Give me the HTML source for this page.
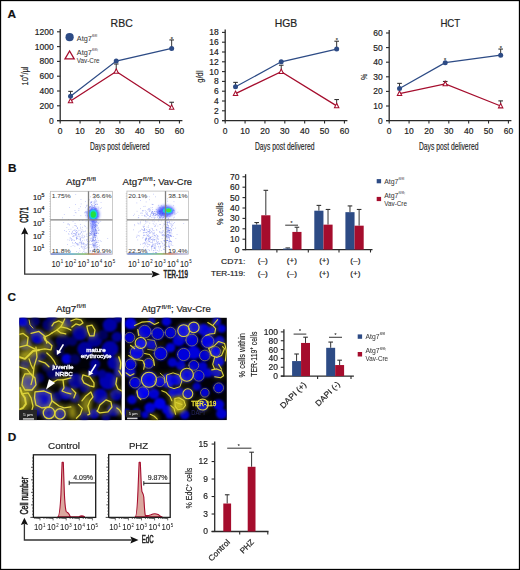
<!DOCTYPE html>
<html><head><meta charset="utf-8"><title>Figure</title>
<style>
html,body{margin:0;padding:0;background:#fff;}
body{width:520px;height:570px;overflow:hidden;}
svg{display:block;}
text{font-family:"Liberation Sans", sans-serif;}
</style></head>
<body>
<svg width="520" height="570" viewBox="0 0 520 570" font-family='"Liberation Sans", sans-serif' fill="#222">
<defs>
<filter id="blur05" x="-50%" y="-50%" width="200%" height="200%"><feGaussianBlur stdDeviation="0.6"/></filter>
<filter id="blur1" x="-50%" y="-50%" width="200%" height="200%"><feGaussianBlur stdDeviation="1.4"/></filter>
<filter id="mb0" x="-5%" y="-5%" width="110%" height="110%"><feGaussianBlur stdDeviation="3"/></filter>
<filter id="mb1" x="-5%" y="-5%" width="110%" height="110%"><feGaussianBlur stdDeviation="5"/></filter>
<filter id="mb2" x="-5%" y="-5%" width="110%" height="110%"><feGaussianBlur stdDeviation="14"/></filter>
<clipPath id="clipL"><rect x="19.2" y="317.6" width="102.6" height="102.6"/></clipPath>
<clipPath id="clipR"><rect x="124.7" y="317.6" width="102.1" height="102.6"/></clipPath>
</defs>
<rect x="0" y="0" width="520" height="570" fill="#fff"/>
<text x="7.60" y="17.80" font-size="11.8" fill="#111" stroke="#111" stroke-width="0.18" font-weight="bold" >A</text>
<text x="7.90" y="172.20" font-size="11.8" fill="#111" stroke="#111" stroke-width="0.18" font-weight="bold" >B</text>
<text x="7.40" y="301.30" font-size="11.8" fill="#111" stroke="#111" stroke-width="0.18" font-weight="bold" >C</text>
<text x="7.70" y="440.50" font-size="11.8" fill="#111" stroke="#111" stroke-width="0.18" font-weight="bold" >D</text>
<line x1="60.20" y1="28.90" x2="60.20" y2="121.20" stroke="#2a2a2a" stroke-width="1.3" />
<line x1="57.00" y1="120.60" x2="182.42" y2="120.60" stroke="#2a2a2a" stroke-width="1.3" />
<line x1="57.00" y1="120.60" x2="60.20" y2="120.60" stroke="#2a2a2a" stroke-width="1.1" />
<text x="53.70" y="123.55" font-size="8.4" text-anchor="end" stroke="#222" stroke-width="0.18" textLength="4.72" lengthAdjust="spacingAndGlyphs" >0</text>
<line x1="57.00" y1="105.80" x2="60.20" y2="105.80" stroke="#2a2a2a" stroke-width="1.1" />
<text x="53.70" y="108.75" font-size="8.4" text-anchor="end" stroke="#222" stroke-width="0.18" textLength="14.16" lengthAdjust="spacingAndGlyphs" >200</text>
<line x1="57.00" y1="91.00" x2="60.20" y2="91.00" stroke="#2a2a2a" stroke-width="1.1" />
<text x="53.70" y="93.95" font-size="8.4" text-anchor="end" stroke="#222" stroke-width="0.18" textLength="14.16" lengthAdjust="spacingAndGlyphs" >400</text>
<line x1="57.00" y1="76.20" x2="60.20" y2="76.20" stroke="#2a2a2a" stroke-width="1.1" />
<text x="53.70" y="79.15" font-size="8.4" text-anchor="end" stroke="#222" stroke-width="0.18" textLength="14.16" lengthAdjust="spacingAndGlyphs" >600</text>
<line x1="57.00" y1="61.40" x2="60.20" y2="61.40" stroke="#2a2a2a" stroke-width="1.1" />
<text x="53.70" y="64.35" font-size="8.4" text-anchor="end" stroke="#222" stroke-width="0.18" textLength="14.16" lengthAdjust="spacingAndGlyphs" >800</text>
<line x1="57.00" y1="46.60" x2="60.20" y2="46.60" stroke="#2a2a2a" stroke-width="1.1" />
<text x="53.70" y="49.55" font-size="8.4" text-anchor="end" stroke="#222" stroke-width="0.18" textLength="18.88" lengthAdjust="spacingAndGlyphs" >1000</text>
<line x1="57.00" y1="31.80" x2="60.20" y2="31.80" stroke="#2a2a2a" stroke-width="1.1" />
<text x="53.70" y="34.75" font-size="8.4" text-anchor="end" stroke="#222" stroke-width="0.18" textLength="18.88" lengthAdjust="spacingAndGlyphs" >1200</text>
<line x1="60.20" y1="120.60" x2="60.20" y2="123.50" stroke="#2a2a2a" stroke-width="1.1" />
<text x="60.20" y="134.40" font-size="8.4" text-anchor="middle" stroke="#222" stroke-width="0.18" textLength="4.72" lengthAdjust="spacingAndGlyphs" >0</text>
<line x1="80.07" y1="120.60" x2="80.07" y2="123.50" stroke="#2a2a2a" stroke-width="1.1" />
<text x="80.07" y="134.40" font-size="8.4" text-anchor="middle" stroke="#222" stroke-width="0.18" textLength="9.44" lengthAdjust="spacingAndGlyphs" >10</text>
<line x1="99.94" y1="120.60" x2="99.94" y2="123.50" stroke="#2a2a2a" stroke-width="1.1" />
<text x="99.94" y="134.40" font-size="8.4" text-anchor="middle" stroke="#222" stroke-width="0.18" textLength="9.44" lengthAdjust="spacingAndGlyphs" >20</text>
<line x1="119.81" y1="120.60" x2="119.81" y2="123.50" stroke="#2a2a2a" stroke-width="1.1" />
<text x="119.81" y="134.40" font-size="8.4" text-anchor="middle" stroke="#222" stroke-width="0.18" textLength="9.44" lengthAdjust="spacingAndGlyphs" >30</text>
<line x1="139.68" y1="120.60" x2="139.68" y2="123.50" stroke="#2a2a2a" stroke-width="1.1" />
<text x="139.68" y="134.40" font-size="8.4" text-anchor="middle" stroke="#222" stroke-width="0.18" textLength="9.44" lengthAdjust="spacingAndGlyphs" >40</text>
<line x1="159.55" y1="120.60" x2="159.55" y2="123.50" stroke="#2a2a2a" stroke-width="1.1" />
<text x="159.55" y="134.40" font-size="8.4" text-anchor="middle" stroke="#222" stroke-width="0.18" textLength="9.44" lengthAdjust="spacingAndGlyphs" >50</text>
<line x1="179.42" y1="120.60" x2="179.42" y2="123.50" stroke="#2a2a2a" stroke-width="1.1" />
<text x="179.42" y="134.40" font-size="8.4" text-anchor="middle" stroke="#222" stroke-width="0.18" textLength="9.44" lengthAdjust="spacingAndGlyphs" >60</text>
<text x="119.70" y="149.60" font-size="10.2" text-anchor="middle" textLength="59.50" lengthAdjust="spacingAndGlyphs" stroke="#222" stroke-width="0.15">Days post delivered</text>
<text x="121.65" y="26.70" font-size="10.1" text-anchor="middle" stroke="#222" stroke-width="0.18" textLength="22.10" lengthAdjust="spacingAndGlyphs" >RBC</text>
<text transform="translate(27.70 76.00) rotate(-90)" text-anchor="middle" font-size="9.8" fill="#222" textLength="19" lengthAdjust="spacingAndGlyphs" stroke="#222" stroke-width="0.15">10<tspan dy="-3.6" font-size="6.2">4</tspan><tspan dy="3.6">/µl</tspan></text>
<line x1="70.53" y1="96.18" x2="70.53" y2="91.37" stroke="#333" stroke-width="1.0" />
<line x1="68.23" y1="91.37" x2="72.83" y2="91.37" stroke="#333" stroke-width="1.1" />
<line x1="171.67" y1="48.45" x2="171.67" y2="39.94" stroke="#333" stroke-width="1.0" />
<line x1="169.37" y1="39.94" x2="173.97" y2="39.94" stroke="#333" stroke-width="1.1" />
<line x1="116.23" y1="71.39" x2="116.23" y2="63.99" stroke="#333" stroke-width="1.0" />
<line x1="113.93" y1="63.99" x2="118.53" y2="63.99" stroke="#333" stroke-width="1.1" />
<line x1="171.67" y1="107.43" x2="171.67" y2="102.25" stroke="#333" stroke-width="1.0" />
<line x1="169.37" y1="102.25" x2="173.97" y2="102.25" stroke="#333" stroke-width="1.1" />
<polyline points="70.53,96.18 116.23,61.03 171.67,48.45" fill="none" stroke="#2d4b85" stroke-width="1.25"/>
<polyline points="70.53,100.99 116.23,71.39 171.67,107.43" fill="none" stroke="#a50d2d" stroke-width="1.25"/>
<polygon points="70.53,98.44 72.73,102.84 68.33,102.84" fill="#fff" stroke="#a50d2d" stroke-width="1.05" stroke-linejoin="miter"/>
<polygon points="116.23,68.84 118.43,73.24 114.03,73.24" fill="#fff" stroke="#a50d2d" stroke-width="1.05" stroke-linejoin="miter"/>
<polygon points="171.67,104.88 173.87,109.28 169.47,109.28" fill="#fff" stroke="#a50d2d" stroke-width="1.05" stroke-linejoin="miter"/>
<circle cx="70.53" cy="96.18" r="2.5" fill="#2d4b85"/>
<circle cx="116.23" cy="61.03" r="2.5" fill="#2d4b85"/>
<circle cx="171.67" cy="48.45" r="2.5" fill="#2d4b85"/>
<text x="171.77" y="40.84" font-size="5.5" text-anchor="middle" fill="#444" stroke="#444" stroke-width="0.18" >*</text>
<line x1="225.20" y1="29.50" x2="225.20" y2="121.20" stroke="#2a2a2a" stroke-width="1.3" />
<line x1="222.00" y1="120.60" x2="347.42" y2="120.60" stroke="#2a2a2a" stroke-width="1.3" />
<line x1="222.00" y1="120.60" x2="225.20" y2="120.60" stroke="#2a2a2a" stroke-width="1.1" />
<text x="218.70" y="123.55" font-size="8.4" text-anchor="end" stroke="#222" stroke-width="0.18" textLength="4.72" lengthAdjust="spacingAndGlyphs" >0</text>
<line x1="222.00" y1="110.80" x2="225.20" y2="110.80" stroke="#2a2a2a" stroke-width="1.1" />
<text x="218.70" y="113.75" font-size="8.4" text-anchor="end" stroke="#222" stroke-width="0.18" textLength="4.72" lengthAdjust="spacingAndGlyphs" >2</text>
<line x1="222.00" y1="101.00" x2="225.20" y2="101.00" stroke="#2a2a2a" stroke-width="1.1" />
<text x="218.70" y="103.95" font-size="8.4" text-anchor="end" stroke="#222" stroke-width="0.18" textLength="4.72" lengthAdjust="spacingAndGlyphs" >4</text>
<line x1="222.00" y1="91.20" x2="225.20" y2="91.20" stroke="#2a2a2a" stroke-width="1.1" />
<text x="218.70" y="94.15" font-size="8.4" text-anchor="end" stroke="#222" stroke-width="0.18" textLength="4.72" lengthAdjust="spacingAndGlyphs" >6</text>
<line x1="222.00" y1="81.40" x2="225.20" y2="81.40" stroke="#2a2a2a" stroke-width="1.1" />
<text x="218.70" y="84.35" font-size="8.4" text-anchor="end" stroke="#222" stroke-width="0.18" textLength="4.72" lengthAdjust="spacingAndGlyphs" >8</text>
<line x1="222.00" y1="71.60" x2="225.20" y2="71.60" stroke="#2a2a2a" stroke-width="1.1" />
<text x="218.70" y="74.55" font-size="8.4" text-anchor="end" stroke="#222" stroke-width="0.18" textLength="9.44" lengthAdjust="spacingAndGlyphs" >10</text>
<line x1="222.00" y1="61.80" x2="225.20" y2="61.80" stroke="#2a2a2a" stroke-width="1.1" />
<text x="218.70" y="64.75" font-size="8.4" text-anchor="end" stroke="#222" stroke-width="0.18" textLength="9.44" lengthAdjust="spacingAndGlyphs" >12</text>
<line x1="222.00" y1="52.00" x2="225.20" y2="52.00" stroke="#2a2a2a" stroke-width="1.1" />
<text x="218.70" y="54.95" font-size="8.4" text-anchor="end" stroke="#222" stroke-width="0.18" textLength="9.44" lengthAdjust="spacingAndGlyphs" >14</text>
<line x1="222.00" y1="42.20" x2="225.20" y2="42.20" stroke="#2a2a2a" stroke-width="1.1" />
<text x="218.70" y="45.15" font-size="8.4" text-anchor="end" stroke="#222" stroke-width="0.18" textLength="9.44" lengthAdjust="spacingAndGlyphs" >16</text>
<line x1="222.00" y1="32.40" x2="225.20" y2="32.40" stroke="#2a2a2a" stroke-width="1.1" />
<text x="218.70" y="35.35" font-size="8.4" text-anchor="end" stroke="#222" stroke-width="0.18" textLength="9.44" lengthAdjust="spacingAndGlyphs" >18</text>
<line x1="225.20" y1="120.60" x2="225.20" y2="123.50" stroke="#2a2a2a" stroke-width="1.1" />
<text x="225.20" y="134.40" font-size="8.4" text-anchor="middle" stroke="#222" stroke-width="0.18" textLength="4.72" lengthAdjust="spacingAndGlyphs" >0</text>
<line x1="245.07" y1="120.60" x2="245.07" y2="123.50" stroke="#2a2a2a" stroke-width="1.1" />
<text x="245.07" y="134.40" font-size="8.4" text-anchor="middle" stroke="#222" stroke-width="0.18" textLength="9.44" lengthAdjust="spacingAndGlyphs" >10</text>
<line x1="264.94" y1="120.60" x2="264.94" y2="123.50" stroke="#2a2a2a" stroke-width="1.1" />
<text x="264.94" y="134.40" font-size="8.4" text-anchor="middle" stroke="#222" stroke-width="0.18" textLength="9.44" lengthAdjust="spacingAndGlyphs" >20</text>
<line x1="284.81" y1="120.60" x2="284.81" y2="123.50" stroke="#2a2a2a" stroke-width="1.1" />
<text x="284.81" y="134.40" font-size="8.4" text-anchor="middle" stroke="#222" stroke-width="0.18" textLength="9.44" lengthAdjust="spacingAndGlyphs" >30</text>
<line x1="304.68" y1="120.60" x2="304.68" y2="123.50" stroke="#2a2a2a" stroke-width="1.1" />
<text x="304.68" y="134.40" font-size="8.4" text-anchor="middle" stroke="#222" stroke-width="0.18" textLength="9.44" lengthAdjust="spacingAndGlyphs" >40</text>
<line x1="324.55" y1="120.60" x2="324.55" y2="123.50" stroke="#2a2a2a" stroke-width="1.1" />
<text x="324.55" y="134.40" font-size="8.4" text-anchor="middle" stroke="#222" stroke-width="0.18" textLength="9.44" lengthAdjust="spacingAndGlyphs" >50</text>
<line x1="344.42" y1="120.60" x2="344.42" y2="123.50" stroke="#2a2a2a" stroke-width="1.1" />
<text x="344.42" y="134.40" font-size="8.4" text-anchor="middle" stroke="#222" stroke-width="0.18" textLength="9.44" lengthAdjust="spacingAndGlyphs" >60</text>
<text x="284.70" y="149.60" font-size="10.2" text-anchor="middle" textLength="59.50" lengthAdjust="spacingAndGlyphs" stroke="#222" stroke-width="0.15">Days post delivered</text>
<text x="286.05" y="26.70" font-size="10.1" text-anchor="middle" stroke="#222" stroke-width="0.18" textLength="22.50" lengthAdjust="spacingAndGlyphs" >HGB</text>
<text transform="translate(202.80 76.60) rotate(-90)" text-anchor="middle" font-size="9.8" fill="#222" textLength="12.4" lengthAdjust="spacingAndGlyphs" stroke="#222" stroke-width="0.15">g/dl</text>
<line x1="235.53" y1="86.79" x2="235.53" y2="82.38" stroke="#333" stroke-width="1.0" />
<line x1="233.23" y1="82.38" x2="237.83" y2="82.38" stroke="#333" stroke-width="1.1" />
<line x1="336.67" y1="49.06" x2="336.67" y2="41.22" stroke="#333" stroke-width="1.0" />
<line x1="334.37" y1="41.22" x2="338.97" y2="41.22" stroke="#333" stroke-width="1.1" />
<line x1="281.23" y1="71.60" x2="281.23" y2="65.23" stroke="#333" stroke-width="1.0" />
<line x1="278.93" y1="65.23" x2="283.53" y2="65.23" stroke="#333" stroke-width="1.1" />
<line x1="336.67" y1="105.90" x2="336.67" y2="99.53" stroke="#333" stroke-width="1.0" />
<line x1="334.37" y1="99.53" x2="338.97" y2="99.53" stroke="#333" stroke-width="1.1" />
<polyline points="235.53,86.79 281.23,61.80 336.67,49.06" fill="none" stroke="#2d4b85" stroke-width="1.25"/>
<polyline points="235.53,93.65 281.23,71.60 336.67,105.90" fill="none" stroke="#a50d2d" stroke-width="1.25"/>
<polygon points="235.53,91.10 237.73,95.50 233.33,95.50" fill="#fff" stroke="#a50d2d" stroke-width="1.05" stroke-linejoin="miter"/>
<polygon points="281.23,69.05 283.43,73.45 279.03,73.45" fill="#fff" stroke="#a50d2d" stroke-width="1.05" stroke-linejoin="miter"/>
<polygon points="336.67,103.35 338.87,107.75 334.47,107.75" fill="#fff" stroke="#a50d2d" stroke-width="1.05" stroke-linejoin="miter"/>
<circle cx="235.53" cy="86.79" r="2.5" fill="#2d4b85"/>
<circle cx="281.23" cy="61.80" r="2.5" fill="#2d4b85"/>
<circle cx="336.67" cy="49.06" r="2.5" fill="#2d4b85"/>
<text x="336.77" y="42.12" font-size="5.5" text-anchor="middle" fill="#444" stroke="#444" stroke-width="0.18" >*</text>
<line x1="389.20" y1="30.10" x2="389.20" y2="121.20" stroke="#2a2a2a" stroke-width="1.3" />
<line x1="386.00" y1="120.60" x2="511.42" y2="120.60" stroke="#2a2a2a" stroke-width="1.3" />
<line x1="386.00" y1="120.60" x2="389.20" y2="120.60" stroke="#2a2a2a" stroke-width="1.1" />
<text x="382.70" y="123.55" font-size="8.4" text-anchor="end" stroke="#222" stroke-width="0.18" textLength="4.72" lengthAdjust="spacingAndGlyphs" >0</text>
<line x1="386.00" y1="106.00" x2="389.20" y2="106.00" stroke="#2a2a2a" stroke-width="1.1" />
<text x="382.70" y="108.95" font-size="8.4" text-anchor="end" stroke="#222" stroke-width="0.18" textLength="9.44" lengthAdjust="spacingAndGlyphs" >10</text>
<line x1="386.00" y1="91.40" x2="389.20" y2="91.40" stroke="#2a2a2a" stroke-width="1.1" />
<text x="382.70" y="94.35" font-size="8.4" text-anchor="end" stroke="#222" stroke-width="0.18" textLength="9.44" lengthAdjust="spacingAndGlyphs" >20</text>
<line x1="386.00" y1="76.80" x2="389.20" y2="76.80" stroke="#2a2a2a" stroke-width="1.1" />
<text x="382.70" y="79.75" font-size="8.4" text-anchor="end" stroke="#222" stroke-width="0.18" textLength="9.44" lengthAdjust="spacingAndGlyphs" >30</text>
<line x1="386.00" y1="62.20" x2="389.20" y2="62.20" stroke="#2a2a2a" stroke-width="1.1" />
<text x="382.70" y="65.15" font-size="8.4" text-anchor="end" stroke="#222" stroke-width="0.18" textLength="9.44" lengthAdjust="spacingAndGlyphs" >40</text>
<line x1="386.00" y1="47.60" x2="389.20" y2="47.60" stroke="#2a2a2a" stroke-width="1.1" />
<text x="382.70" y="50.55" font-size="8.4" text-anchor="end" stroke="#222" stroke-width="0.18" textLength="9.44" lengthAdjust="spacingAndGlyphs" >50</text>
<line x1="386.00" y1="33.00" x2="389.20" y2="33.00" stroke="#2a2a2a" stroke-width="1.1" />
<text x="382.70" y="35.95" font-size="8.4" text-anchor="end" stroke="#222" stroke-width="0.18" textLength="9.44" lengthAdjust="spacingAndGlyphs" >60</text>
<line x1="389.20" y1="120.60" x2="389.20" y2="123.50" stroke="#2a2a2a" stroke-width="1.1" />
<text x="389.20" y="134.40" font-size="8.4" text-anchor="middle" stroke="#222" stroke-width="0.18" textLength="4.72" lengthAdjust="spacingAndGlyphs" >0</text>
<line x1="409.07" y1="120.60" x2="409.07" y2="123.50" stroke="#2a2a2a" stroke-width="1.1" />
<text x="409.07" y="134.40" font-size="8.4" text-anchor="middle" stroke="#222" stroke-width="0.18" textLength="9.44" lengthAdjust="spacingAndGlyphs" >10</text>
<line x1="428.94" y1="120.60" x2="428.94" y2="123.50" stroke="#2a2a2a" stroke-width="1.1" />
<text x="428.94" y="134.40" font-size="8.4" text-anchor="middle" stroke="#222" stroke-width="0.18" textLength="9.44" lengthAdjust="spacingAndGlyphs" >20</text>
<line x1="448.81" y1="120.60" x2="448.81" y2="123.50" stroke="#2a2a2a" stroke-width="1.1" />
<text x="448.81" y="134.40" font-size="8.4" text-anchor="middle" stroke="#222" stroke-width="0.18" textLength="9.44" lengthAdjust="spacingAndGlyphs" >30</text>
<line x1="468.68" y1="120.60" x2="468.68" y2="123.50" stroke="#2a2a2a" stroke-width="1.1" />
<text x="468.68" y="134.40" font-size="8.4" text-anchor="middle" stroke="#222" stroke-width="0.18" textLength="9.44" lengthAdjust="spacingAndGlyphs" >40</text>
<line x1="488.55" y1="120.60" x2="488.55" y2="123.50" stroke="#2a2a2a" stroke-width="1.1" />
<text x="488.55" y="134.40" font-size="8.4" text-anchor="middle" stroke="#222" stroke-width="0.18" textLength="9.44" lengthAdjust="spacingAndGlyphs" >50</text>
<line x1="508.42" y1="120.60" x2="508.42" y2="123.50" stroke="#2a2a2a" stroke-width="1.1" />
<text x="508.42" y="134.40" font-size="8.4" text-anchor="middle" stroke="#222" stroke-width="0.18" textLength="9.44" lengthAdjust="spacingAndGlyphs" >60</text>
<text x="448.70" y="149.60" font-size="10.2" text-anchor="middle" textLength="59.50" lengthAdjust="spacingAndGlyphs" stroke="#222" stroke-width="0.15">Days post delivered</text>
<text x="450.30" y="26.70" font-size="10.1" text-anchor="middle" stroke="#222" stroke-width="0.18" textLength="19.80" lengthAdjust="spacingAndGlyphs" >HCT</text>
<text transform="translate(366.80 76.80) rotate(-90)" text-anchor="middle" font-size="9.8" fill="#222" textLength="6.3" lengthAdjust="spacingAndGlyphs" stroke="#222" stroke-width="0.15">%</text>
<line x1="399.53" y1="88.48" x2="399.53" y2="83.37" stroke="#333" stroke-width="1.0" />
<line x1="397.23" y1="83.37" x2="401.83" y2="83.37" stroke="#333" stroke-width="1.1" />
<line x1="500.67" y1="55.19" x2="500.67" y2="49.06" stroke="#333" stroke-width="1.0" />
<line x1="498.37" y1="49.06" x2="502.97" y2="49.06" stroke="#333" stroke-width="1.1" />
<line x1="445.23" y1="83.81" x2="445.23" y2="81.47" stroke="#333" stroke-width="1.0" />
<line x1="442.93" y1="81.47" x2="447.53" y2="81.47" stroke="#333" stroke-width="1.1" />
<line x1="500.67" y1="106.00" x2="500.67" y2="100.89" stroke="#333" stroke-width="1.0" />
<line x1="498.37" y1="100.89" x2="502.97" y2="100.89" stroke="#333" stroke-width="1.1" />
<polyline points="399.53,88.48 445.23,62.64 500.67,55.19" fill="none" stroke="#2d4b85" stroke-width="1.25"/>
<polyline points="399.53,93.59 445.23,83.81 500.67,106.00" fill="none" stroke="#a50d2d" stroke-width="1.25"/>
<polygon points="399.53,91.04 401.73,95.44 397.33,95.44" fill="#fff" stroke="#a50d2d" stroke-width="1.05" stroke-linejoin="miter"/>
<polygon points="445.23,81.26 447.43,85.66 443.03,85.66" fill="#fff" stroke="#a50d2d" stroke-width="1.05" stroke-linejoin="miter"/>
<polygon points="500.67,103.45 502.87,107.85 498.47,107.85" fill="#fff" stroke="#a50d2d" stroke-width="1.05" stroke-linejoin="miter"/>
<circle cx="399.53" cy="88.48" r="2.5" fill="#2d4b85"/>
<circle cx="445.23" cy="62.64" r="2.5" fill="#2d4b85"/>
<circle cx="500.67" cy="55.19" r="2.5" fill="#2d4b85"/>
<text x="445.13" y="61.64" font-size="5.5" text-anchor="middle" fill="#444" stroke="#444" stroke-width="0.18" >*</text>
<text x="500.77" y="49.96" font-size="5.5" text-anchor="middle" fill="#444" stroke="#444" stroke-width="0.18" >*</text>
<circle cx="69.6" cy="37.2" r="4.1" fill="#2d4b85"/>
<text x="76.80" y="40.70" font-size="6.8" fill="#3a3a3a" stroke="#3a3a3a" stroke-width="0.05" textLength="14.90" lengthAdjust="spacingAndGlyphs" >Atg7</text>
<text x="91.90" y="37.10" font-size="4.3" fill="#3a3a3a" stroke="#3a3a3a" stroke-width="0.025" textLength="5.30" lengthAdjust="spacingAndGlyphs" >fl/fl</text>
<polygon points="69.60,50.96 74.20,58.96 65.00,58.96" fill="#fff" stroke="#a50d2d" stroke-width="1.3" stroke-linejoin="miter"/>
<text x="76.80" y="54.90" font-size="6.8" fill="#3a3a3a" stroke="#3a3a3a" stroke-width="0.05" textLength="14.90" lengthAdjust="spacingAndGlyphs" >Atg7</text>
<text x="91.90" y="51.30" font-size="4.3" fill="#3a3a3a" stroke="#3a3a3a" stroke-width="0.025" textLength="6.30" lengthAdjust="spacingAndGlyphs" >fl/fl;</text>
<text x="76.80" y="62.60" font-size="6.8" fill="#3a3a3a" stroke="#3a3a3a" stroke-width="0.05" textLength="22.80" lengthAdjust="spacingAndGlyphs" >Vav-Cre</text>
<rect x="50.40" y="191.30" width="62.00" height="62.90" fill="#fff" stroke="#bdbdbd" stroke-width="0.8"/>
<line x1="49.20" y1="193.82" x2="50.40" y2="193.82" stroke="#aaa" stroke-width="0.5" />
<line x1="49.20" y1="196.33" x2="50.40" y2="196.33" stroke="#aaa" stroke-width="0.5" />
<line x1="49.20" y1="198.85" x2="50.40" y2="198.85" stroke="#aaa" stroke-width="0.5" />
<line x1="49.20" y1="201.36" x2="50.40" y2="201.36" stroke="#aaa" stroke-width="0.5" />
<line x1="49.20" y1="203.88" x2="50.40" y2="203.88" stroke="#aaa" stroke-width="0.5" />
<line x1="49.20" y1="206.40" x2="50.40" y2="206.40" stroke="#aaa" stroke-width="0.5" />
<line x1="49.20" y1="208.91" x2="50.40" y2="208.91" stroke="#aaa" stroke-width="0.5" />
<line x1="49.20" y1="211.43" x2="50.40" y2="211.43" stroke="#aaa" stroke-width="0.5" />
<line x1="49.20" y1="213.94" x2="50.40" y2="213.94" stroke="#aaa" stroke-width="0.5" />
<line x1="49.20" y1="216.46" x2="50.40" y2="216.46" stroke="#aaa" stroke-width="0.5" />
<line x1="49.20" y1="218.98" x2="50.40" y2="218.98" stroke="#aaa" stroke-width="0.5" />
<line x1="49.20" y1="221.49" x2="50.40" y2="221.49" stroke="#aaa" stroke-width="0.5" />
<line x1="49.20" y1="224.01" x2="50.40" y2="224.01" stroke="#aaa" stroke-width="0.5" />
<line x1="49.20" y1="226.52" x2="50.40" y2="226.52" stroke="#aaa" stroke-width="0.5" />
<line x1="49.20" y1="229.04" x2="50.40" y2="229.04" stroke="#aaa" stroke-width="0.5" />
<line x1="49.20" y1="231.56" x2="50.40" y2="231.56" stroke="#aaa" stroke-width="0.5" />
<line x1="49.20" y1="234.07" x2="50.40" y2="234.07" stroke="#aaa" stroke-width="0.5" />
<line x1="49.20" y1="236.59" x2="50.40" y2="236.59" stroke="#aaa" stroke-width="0.5" />
<line x1="49.20" y1="239.10" x2="50.40" y2="239.10" stroke="#aaa" stroke-width="0.5" />
<line x1="49.20" y1="241.62" x2="50.40" y2="241.62" stroke="#aaa" stroke-width="0.5" />
<line x1="49.20" y1="244.14" x2="50.40" y2="244.14" stroke="#aaa" stroke-width="0.5" />
<line x1="49.20" y1="246.65" x2="50.40" y2="246.65" stroke="#aaa" stroke-width="0.5" />
<line x1="49.20" y1="249.17" x2="50.40" y2="249.17" stroke="#aaa" stroke-width="0.5" />
<line x1="49.20" y1="251.68" x2="50.40" y2="251.68" stroke="#aaa" stroke-width="0.5" />
<g fill="#4455ee" fill-opacity="0.5"><rect x="96.6" y="247.0" width="0.7" height="0.7"/><rect x="93.9" y="227.1" width="0.7" height="0.7"/><rect x="91.4" y="234.3" width="0.7" height="0.7"/><rect x="91.6" y="221.1" width="0.7" height="0.7"/><rect x="94.2" y="235.2" width="0.7" height="0.7"/><rect x="95.0" y="225.8" width="0.7" height="0.7"/><rect x="93.8" y="233.4" width="0.7" height="0.7"/><rect x="90.5" y="238.8" width="0.7" height="0.7"/><rect x="94.2" y="232.7" width="0.7" height="0.7"/><rect x="96.5" y="235.8" width="0.7" height="0.7"/><rect x="95.8" y="230.7" width="0.7" height="0.7"/><rect x="94.3" y="243.2" width="0.7" height="0.7"/><rect x="95.3" y="235.2" width="0.7" height="0.7"/><rect x="91.4" y="238.0" width="0.7" height="0.7"/><rect x="94.0" y="240.5" width="0.7" height="0.7"/><rect x="94.3" y="243.8" width="0.7" height="0.7"/><rect x="93.7" y="235.8" width="0.7" height="0.7"/><rect x="95.3" y="224.2" width="0.7" height="0.7"/><rect x="92.9" y="229.5" width="0.7" height="0.7"/><rect x="98.2" y="233.2" width="0.7" height="0.7"/><rect x="95.2" y="239.6" width="0.7" height="0.7"/><rect x="93.2" y="220.0" width="0.7" height="0.7"/><rect x="95.9" y="230.3" width="0.7" height="0.7"/><rect x="95.4" y="222.3" width="0.7" height="0.7"/><rect x="92.8" y="245.3" width="0.7" height="0.7"/><rect x="96.9" y="222.3" width="0.7" height="0.7"/><rect x="90.9" y="233.6" width="0.7" height="0.7"/><rect x="95.4" y="235.4" width="0.7" height="0.7"/><rect x="94.5" y="225.1" width="0.7" height="0.7"/><rect x="95.1" y="244.1" width="0.7" height="0.7"/><rect x="92.8" y="221.1" width="0.7" height="0.7"/><rect x="92.1" y="240.9" width="0.7" height="0.7"/><rect x="90.0" y="233.2" width="0.7" height="0.7"/><rect x="91.6" y="232.8" width="0.7" height="0.7"/><rect x="93.3" y="234.1" width="0.7" height="0.7"/><rect x="97.1" y="237.8" width="0.7" height="0.7"/><rect x="96.7" y="232.7" width="0.7" height="0.7"/><rect x="92.7" y="237.4" width="0.7" height="0.7"/><rect x="87.6" y="233.6" width="0.7" height="0.7"/><rect x="94.2" y="222.9" width="0.7" height="0.7"/><rect x="94.8" y="229.0" width="0.7" height="0.7"/><rect x="88.4" y="232.1" width="0.7" height="0.7"/><rect x="91.6" y="229.3" width="0.7" height="0.7"/><rect x="93.5" y="245.3" width="0.7" height="0.7"/><rect x="94.0" y="233.7" width="0.7" height="0.7"/><rect x="94.7" y="217.7" width="0.7" height="0.7"/><rect x="96.5" y="224.3" width="0.7" height="0.7"/><rect x="94.8" y="223.9" width="0.7" height="0.7"/><rect x="91.7" y="230.4" width="0.7" height="0.7"/><rect x="98.0" y="240.3" width="0.7" height="0.7"/><rect x="92.5" y="231.4" width="0.7" height="0.7"/><rect x="91.3" y="233.7" width="0.7" height="0.7"/><rect x="92.5" y="240.5" width="0.7" height="0.7"/><rect x="90.8" y="231.0" width="0.7" height="0.7"/><rect x="91.9" y="227.5" width="0.7" height="0.7"/><rect x="95.4" y="235.1" width="0.7" height="0.7"/><rect x="95.1" y="244.7" width="0.7" height="0.7"/><rect x="96.3" y="221.7" width="0.7" height="0.7"/><rect x="95.0" y="218.1" width="0.7" height="0.7"/><rect x="93.7" y="251.3" width="0.7" height="0.7"/><rect x="93.4" y="230.7" width="0.7" height="0.7"/><rect x="94.2" y="234.2" width="0.7" height="0.7"/><rect x="93.9" y="227.2" width="0.7" height="0.7"/><rect x="96.2" y="242.0" width="0.7" height="0.7"/><rect x="93.3" y="236.8" width="0.7" height="0.7"/><rect x="95.2" y="243.3" width="0.7" height="0.7"/><rect x="94.7" y="240.3" width="0.7" height="0.7"/><rect x="93.2" y="224.4" width="0.7" height="0.7"/><rect x="92.7" y="243.2" width="0.7" height="0.7"/><rect x="96.0" y="235.3" width="0.7" height="0.7"/><rect x="92.6" y="236.8" width="0.7" height="0.7"/><rect x="97.5" y="246.2" width="0.7" height="0.7"/><rect x="92.3" y="233.6" width="0.7" height="0.7"/><rect x="90.6" y="223.8" width="0.7" height="0.7"/><rect x="94.2" y="234.2" width="0.7" height="0.7"/><rect x="95.9" y="245.4" width="0.7" height="0.7"/><rect x="95.6" y="245.9" width="0.7" height="0.7"/><rect x="92.6" y="223.8" width="0.7" height="0.7"/><rect x="94.6" y="223.6" width="0.7" height="0.7"/><rect x="94.3" y="246.8" width="0.7" height="0.7"/><rect x="91.5" y="241.2" width="0.7" height="0.7"/><rect x="92.5" y="245.5" width="0.7" height="0.7"/><rect x="95.5" y="236.7" width="0.7" height="0.7"/><rect x="98.2" y="230.3" width="0.7" height="0.7"/><rect x="92.3" y="250.7" width="0.7" height="0.7"/><rect x="93.7" y="224.7" width="0.7" height="0.7"/><rect x="93.8" y="235.2" width="0.7" height="0.7"/><rect x="94.2" y="232.3" width="0.7" height="0.7"/><rect x="96.2" y="213.1" width="0.7" height="0.7"/><rect x="92.6" y="231.6" width="0.7" height="0.7"/><rect x="97.8" y="216.1" width="0.7" height="0.7"/><rect x="93.1" y="223.7" width="0.7" height="0.7"/><rect x="92.3" y="239.8" width="0.7" height="0.7"/><rect x="94.7" y="247.0" width="0.7" height="0.7"/><rect x="92.5" y="236.4" width="0.7" height="0.7"/><rect x="96.4" y="242.1" width="0.7" height="0.7"/><rect x="93.1" y="244.2" width="0.7" height="0.7"/><rect x="91.8" y="250.2" width="0.7" height="0.7"/><rect x="94.1" y="233.0" width="0.7" height="0.7"/><rect x="94.4" y="241.6" width="0.7" height="0.7"/><rect x="97.6" y="232.7" width="0.7" height="0.7"/><rect x="93.0" y="239.3" width="0.7" height="0.7"/><rect x="91.9" y="218.7" width="0.7" height="0.7"/><rect x="95.6" y="230.6" width="0.7" height="0.7"/><rect x="96.3" y="224.8" width="0.7" height="0.7"/><rect x="87.4" y="236.5" width="0.7" height="0.7"/><rect x="94.1" y="248.4" width="0.7" height="0.7"/><rect x="95.0" y="236.8" width="0.7" height="0.7"/><rect x="95.1" y="230.7" width="0.7" height="0.7"/><rect x="94.0" y="221.8" width="0.7" height="0.7"/><rect x="94.9" y="226.8" width="0.7" height="0.7"/><rect x="92.8" y="240.3" width="0.7" height="0.7"/><rect x="95.8" y="224.9" width="0.7" height="0.7"/><rect x="98.2" y="228.7" width="0.7" height="0.7"/><rect x="95.6" y="242.6" width="0.7" height="0.7"/><rect x="94.3" y="235.5" width="0.7" height="0.7"/><rect x="97.8" y="242.0" width="0.7" height="0.7"/><rect x="94.8" y="217.6" width="0.7" height="0.7"/><rect x="92.2" y="244.5" width="0.7" height="0.7"/><rect x="94.2" y="225.4" width="0.7" height="0.7"/><rect x="92.4" y="231.2" width="0.7" height="0.7"/><rect x="95.3" y="237.5" width="0.7" height="0.7"/><rect x="96.0" y="226.6" width="0.7" height="0.7"/><rect x="96.0" y="229.5" width="0.7" height="0.7"/><rect x="93.1" y="249.6" width="0.7" height="0.7"/><rect x="94.0" y="232.7" width="0.7" height="0.7"/><rect x="93.3" y="230.5" width="0.7" height="0.7"/><rect x="97.2" y="246.4" width="0.7" height="0.7"/><rect x="95.4" y="235.7" width="0.7" height="0.7"/><rect x="96.1" y="233.3" width="0.7" height="0.7"/><rect x="94.8" y="237.6" width="0.7" height="0.7"/><rect x="94.0" y="248.8" width="0.7" height="0.7"/><rect x="97.7" y="245.9" width="0.7" height="0.7"/><rect x="89.6" y="250.5" width="0.7" height="0.7"/><rect x="95.3" y="229.9" width="0.7" height="0.7"/><rect x="93.7" y="244.2" width="0.7" height="0.7"/><rect x="96.4" y="241.7" width="0.7" height="0.7"/><rect x="94.1" y="234.3" width="0.7" height="0.7"/><rect x="95.6" y="233.2" width="0.7" height="0.7"/><rect x="91.8" y="228.4" width="0.7" height="0.7"/><rect x="93.5" y="237.0" width="0.7" height="0.7"/><rect x="98.8" y="221.7" width="0.7" height="0.7"/><rect x="94.8" y="233.2" width="0.7" height="0.7"/><rect x="94.5" y="246.2" width="0.7" height="0.7"/><rect x="96.5" y="232.6" width="0.7" height="0.7"/><rect x="92.6" y="221.7" width="0.7" height="0.7"/><rect x="93.6" y="245.2" width="0.7" height="0.7"/><rect x="93.2" y="240.3" width="0.7" height="0.7"/><rect x="95.4" y="237.6" width="0.7" height="0.7"/><rect x="96.2" y="233.0" width="0.7" height="0.7"/><rect x="92.0" y="223.4" width="0.7" height="0.7"/><rect x="95.8" y="230.7" width="0.7" height="0.7"/><rect x="93.1" y="241.5" width="0.7" height="0.7"/><rect x="92.1" y="249.9" width="0.7" height="0.7"/><rect x="95.3" y="229.3" width="0.7" height="0.7"/><rect x="92.4" y="243.7" width="0.7" height="0.7"/><rect x="91.2" y="228.2" width="0.7" height="0.7"/><rect x="93.8" y="235.8" width="0.7" height="0.7"/><rect x="93.8" y="237.5" width="0.7" height="0.7"/><rect x="93.0" y="232.9" width="0.7" height="0.7"/><rect x="96.6" y="239.8" width="0.7" height="0.7"/><rect x="92.8" y="249.4" width="0.7" height="0.7"/><rect x="89.4" y="234.8" width="0.7" height="0.7"/><rect x="95.3" y="242.8" width="0.7" height="0.7"/><rect x="94.0" y="230.5" width="0.7" height="0.7"/><rect x="95.1" y="232.3" width="0.7" height="0.7"/><rect x="94.8" y="208.3" width="0.7" height="0.7"/><rect x="94.6" y="226.9" width="0.7" height="0.7"/><rect x="95.9" y="240.7" width="0.7" height="0.7"/><rect x="95.4" y="230.4" width="0.7" height="0.7"/><rect x="94.8" y="230.9" width="0.7" height="0.7"/><rect x="94.3" y="232.8" width="0.7" height="0.7"/><rect x="91.9" y="251.8" width="0.7" height="0.7"/><rect x="95.4" y="215.5" width="0.7" height="0.7"/><rect x="95.8" y="221.5" width="0.7" height="0.7"/><rect x="93.3" y="228.8" width="0.7" height="0.7"/><rect x="92.6" y="236.2" width="0.7" height="0.7"/><rect x="93.1" y="221.0" width="0.7" height="0.7"/><rect x="93.8" y="237.3" width="0.7" height="0.7"/><rect x="97.7" y="230.3" width="0.7" height="0.7"/><rect x="91.2" y="230.6" width="0.7" height="0.7"/><rect x="95.2" y="226.0" width="0.7" height="0.7"/><rect x="92.2" y="239.0" width="0.7" height="0.7"/><rect x="93.8" y="236.0" width="0.7" height="0.7"/><rect x="92.4" y="226.6" width="0.7" height="0.7"/><rect x="93.1" y="232.6" width="0.7" height="0.7"/><rect x="93.1" y="237.9" width="0.7" height="0.7"/><rect x="95.0" y="238.9" width="0.7" height="0.7"/><rect x="94.9" y="226.0" width="0.7" height="0.7"/><rect x="91.3" y="241.2" width="0.7" height="0.7"/><rect x="93.8" y="235.1" width="0.7" height="0.7"/><rect x="91.2" y="232.1" width="0.7" height="0.7"/><rect x="92.4" y="226.2" width="0.7" height="0.7"/><rect x="92.4" y="220.6" width="0.7" height="0.7"/><rect x="94.0" y="244.5" width="0.7" height="0.7"/><rect x="92.2" y="234.9" width="0.7" height="0.7"/><rect x="91.4" y="240.0" width="0.7" height="0.7"/><rect x="97.9" y="222.9" width="0.7" height="0.7"/><rect x="93.3" y="246.8" width="0.7" height="0.7"/><rect x="94.6" y="235.0" width="0.7" height="0.7"/><rect x="89.3" y="232.6" width="0.7" height="0.7"/><rect x="95.8" y="246.9" width="0.7" height="0.7"/><rect x="95.2" y="228.8" width="0.7" height="0.7"/><rect x="92.3" y="217.6" width="0.7" height="0.7"/><rect x="91.4" y="244.1" width="0.7" height="0.7"/><rect x="93.5" y="222.0" width="0.7" height="0.7"/><rect x="96.7" y="218.9" width="0.7" height="0.7"/><rect x="96.6" y="231.1" width="0.7" height="0.7"/><rect x="94.5" y="240.1" width="0.7" height="0.7"/><rect x="94.4" y="245.4" width="0.7" height="0.7"/><rect x="93.8" y="231.1" width="0.7" height="0.7"/><rect x="92.3" y="221.0" width="0.7" height="0.7"/><rect x="92.3" y="242.8" width="0.7" height="0.7"/><rect x="95.6" y="246.5" width="0.7" height="0.7"/><rect x="99.8" y="240.4" width="0.7" height="0.7"/><rect x="94.9" y="222.2" width="0.7" height="0.7"/><rect x="95.0" y="232.8" width="0.7" height="0.7"/><rect x="94.5" y="216.9" width="0.7" height="0.7"/><rect x="92.0" y="222.2" width="0.7" height="0.7"/><rect x="89.1" y="240.9" width="0.7" height="0.7"/><rect x="95.9" y="232.4" width="0.7" height="0.7"/><rect x="94.6" y="224.9" width="0.7" height="0.7"/><rect x="94.8" y="240.9" width="0.7" height="0.7"/><rect x="97.2" y="248.0" width="0.7" height="0.7"/><rect x="94.9" y="232.9" width="0.7" height="0.7"/><rect x="92.0" y="228.5" width="0.7" height="0.7"/><rect x="95.2" y="239.1" width="0.7" height="0.7"/><rect x="93.8" y="249.0" width="0.7" height="0.7"/><rect x="95.2" y="234.1" width="0.7" height="0.7"/><rect x="93.4" y="234.7" width="0.7" height="0.7"/><rect x="91.7" y="225.2" width="0.7" height="0.7"/><rect x="94.6" y="228.7" width="0.7" height="0.7"/><rect x="93.2" y="245.0" width="0.7" height="0.7"/><rect x="93.4" y="245.8" width="0.7" height="0.7"/><rect x="93.8" y="247.7" width="0.7" height="0.7"/><rect x="94.8" y="218.2" width="0.7" height="0.7"/><rect x="96.5" y="232.1" width="0.7" height="0.7"/><rect x="89.5" y="235.0" width="0.7" height="0.7"/><rect x="94.1" y="222.4" width="0.7" height="0.7"/><rect x="92.5" y="238.9" width="0.7" height="0.7"/><rect x="96.9" y="244.3" width="0.7" height="0.7"/><rect x="96.5" y="244.1" width="0.7" height="0.7"/><rect x="88.3" y="227.5" width="0.7" height="0.7"/><rect x="94.2" y="209.8" width="0.7" height="0.7"/><rect x="95.5" y="242.0" width="0.7" height="0.7"/><rect x="92.1" y="230.6" width="0.7" height="0.7"/><rect x="91.7" y="233.8" width="0.7" height="0.7"/><rect x="93.7" y="233.9" width="0.7" height="0.7"/><rect x="91.6" y="237.5" width="0.7" height="0.7"/><rect x="93.1" y="242.6" width="0.7" height="0.7"/><rect x="94.5" y="220.6" width="0.7" height="0.7"/><rect x="90.6" y="234.6" width="0.7" height="0.7"/><rect x="92.7" y="238.2" width="0.7" height="0.7"/><rect x="95.6" y="234.2" width="0.7" height="0.7"/><rect x="90.1" y="223.2" width="0.7" height="0.7"/><rect x="95.1" y="224.5" width="0.7" height="0.7"/><rect x="96.2" y="233.2" width="0.7" height="0.7"/><rect x="94.9" y="226.0" width="0.7" height="0.7"/><rect x="93.6" y="207.3" width="0.7" height="0.7"/><rect x="93.3" y="239.2" width="0.7" height="0.7"/><rect x="91.8" y="226.4" width="0.7" height="0.7"/><rect x="93.7" y="234.6" width="0.7" height="0.7"/><rect x="92.0" y="240.1" width="0.7" height="0.7"/><rect x="90.2" y="244.0" width="0.7" height="0.7"/><rect x="90.7" y="226.6" width="0.7" height="0.7"/><rect x="96.7" y="225.0" width="0.7" height="0.7"/><rect x="90.2" y="234.7" width="0.7" height="0.7"/><rect x="91.8" y="224.0" width="0.7" height="0.7"/><rect x="92.3" y="227.3" width="0.7" height="0.7"/><rect x="91.7" y="224.7" width="0.7" height="0.7"/><rect x="97.3" y="227.9" width="0.7" height="0.7"/><rect x="95.9" y="221.4" width="0.7" height="0.7"/><rect x="95.0" y="222.7" width="0.7" height="0.7"/><rect x="92.8" y="239.7" width="0.7" height="0.7"/><rect x="92.6" y="216.3" width="0.7" height="0.7"/><rect x="92.6" y="232.6" width="0.7" height="0.7"/><rect x="95.1" y="225.0" width="0.7" height="0.7"/><rect x="93.1" y="234.6" width="0.7" height="0.7"/><rect x="90.2" y="233.0" width="0.7" height="0.7"/><rect x="92.0" y="237.9" width="0.7" height="0.7"/><rect x="93.6" y="232.5" width="0.7" height="0.7"/><rect x="88.5" y="233.0" width="0.7" height="0.7"/><rect x="93.0" y="225.5" width="0.7" height="0.7"/><rect x="92.7" y="222.6" width="0.7" height="0.7"/><rect x="94.2" y="239.9" width="0.7" height="0.7"/><rect x="95.1" y="229.3" width="0.7" height="0.7"/><rect x="97.5" y="241.7" width="0.7" height="0.7"/><rect x="91.7" y="232.7" width="0.7" height="0.7"/><rect x="90.2" y="232.9" width="0.7" height="0.7"/><rect x="95.4" y="245.4" width="0.7" height="0.7"/><rect x="92.9" y="217.9" width="0.7" height="0.7"/><rect x="93.4" y="246.3" width="0.7" height="0.7"/><rect x="94.1" y="245.5" width="0.7" height="0.7"/><rect x="95.6" y="248.0" width="0.7" height="0.7"/><rect x="95.1" y="228.0" width="0.7" height="0.7"/><rect x="75.9" y="225.6" width="0.7" height="0.7"/><rect x="91.6" y="252.7" width="0.7" height="0.7"/><rect x="75.2" y="233.1" width="0.7" height="0.7"/><rect x="69.8" y="237.1" width="0.7" height="0.7"/><rect x="79.9" y="236.6" width="0.7" height="0.7"/><rect x="76.5" y="235.2" width="0.7" height="0.7"/><rect x="85.4" y="244.0" width="0.7" height="0.7"/><rect x="87.3" y="241.3" width="0.7" height="0.7"/><rect x="75.3" y="234.0" width="0.7" height="0.7"/><rect x="75.8" y="236.8" width="0.7" height="0.7"/><rect x="85.2" y="252.7" width="0.7" height="0.7"/><rect x="72.6" y="243.0" width="0.7" height="0.7"/><rect x="79.6" y="250.6" width="0.7" height="0.7"/><rect x="78.0" y="233.8" width="0.7" height="0.7"/><rect x="83.7" y="247.8" width="0.7" height="0.7"/><rect x="76.2" y="237.9" width="0.7" height="0.7"/><rect x="79.8" y="242.6" width="0.7" height="0.7"/><rect x="68.7" y="224.1" width="0.7" height="0.7"/><rect x="79.3" y="241.9" width="0.7" height="0.7"/><rect x="75.9" y="226.2" width="0.7" height="0.7"/><rect x="87.1" y="244.5" width="0.7" height="0.7"/><rect x="72.7" y="245.2" width="0.7" height="0.7"/><rect x="85.8" y="252.1" width="0.7" height="0.7"/><rect x="84.0" y="247.6" width="0.7" height="0.7"/><rect x="73.2" y="235.5" width="0.7" height="0.7"/><rect x="81.1" y="245.8" width="0.7" height="0.7"/><rect x="81.9" y="235.8" width="0.7" height="0.7"/><rect x="75.4" y="235.0" width="0.7" height="0.7"/><rect x="77.8" y="233.5" width="0.7" height="0.7"/><rect x="68.1" y="223.5" width="0.7" height="0.7"/><rect x="80.8" y="241.4" width="0.7" height="0.7"/><rect x="82.5" y="230.7" width="0.7" height="0.7"/><rect x="76.5" y="243.7" width="0.7" height="0.7"/><rect x="67.2" y="223.7" width="0.7" height="0.7"/><rect x="69.0" y="239.8" width="0.7" height="0.7"/><rect x="79.2" y="236.5" width="0.7" height="0.7"/><rect x="79.9" y="240.1" width="0.7" height="0.7"/><rect x="84.4" y="251.8" width="0.7" height="0.7"/><rect x="84.5" y="246.6" width="0.7" height="0.7"/><rect x="83.6" y="248.9" width="0.7" height="0.7"/><rect x="86.0" y="233.8" width="0.7" height="0.7"/><rect x="81.1" y="242.2" width="0.7" height="0.7"/><rect x="80.0" y="239.2" width="0.7" height="0.7"/><rect x="78.6" y="242.8" width="0.7" height="0.7"/><rect x="80.2" y="241.8" width="0.7" height="0.7"/><rect x="72.6" y="226.8" width="0.7" height="0.7"/><rect x="74.5" y="225.0" width="0.7" height="0.7"/><rect x="75.9" y="232.1" width="0.7" height="0.7"/><rect x="68.2" y="219.0" width="0.7" height="0.7"/><rect x="76.2" y="234.0" width="0.7" height="0.7"/><rect x="74.3" y="233.1" width="0.7" height="0.7"/><rect x="72.9" y="230.1" width="0.7" height="0.7"/><rect x="76.9" y="238.0" width="0.7" height="0.7"/><rect x="75.3" y="242.3" width="0.7" height="0.7"/><rect x="71.1" y="238.0" width="0.7" height="0.7"/><rect x="76.8" y="227.9" width="0.7" height="0.7"/><rect x="77.2" y="228.0" width="0.7" height="0.7"/><rect x="86.2" y="235.8" width="0.7" height="0.7"/><rect x="81.5" y="242.9" width="0.7" height="0.7"/><rect x="81.6" y="235.4" width="0.7" height="0.7"/><rect x="67.1" y="244.0" width="0.7" height="0.7"/><rect x="86.2" y="247.7" width="0.7" height="0.7"/><rect x="76.1" y="238.8" width="0.7" height="0.7"/><rect x="71.6" y="240.2" width="0.7" height="0.7"/><rect x="80.0" y="239.8" width="0.7" height="0.7"/><rect x="76.4" y="237.5" width="0.7" height="0.7"/><rect x="79.8" y="238.1" width="0.7" height="0.7"/><rect x="84.8" y="246.0" width="0.7" height="0.7"/><rect x="78.4" y="234.0" width="0.7" height="0.7"/><rect x="83.1" y="231.5" width="0.7" height="0.7"/><rect x="76.9" y="244.7" width="0.7" height="0.7"/><rect x="79.2" y="248.3" width="0.7" height="0.7"/><rect x="76.4" y="243.0" width="0.7" height="0.7"/><rect x="82.1" y="226.9" width="0.7" height="0.7"/><rect x="76.6" y="236.5" width="0.7" height="0.7"/><rect x="75.2" y="231.3" width="0.7" height="0.7"/><rect x="88.5" y="246.9" width="0.7" height="0.7"/><rect x="83.7" y="235.2" width="0.7" height="0.7"/><rect x="66.5" y="227.0" width="0.7" height="0.7"/><rect x="81.4" y="237.3" width="0.7" height="0.7"/><rect x="82.2" y="247.7" width="0.7" height="0.7"/><rect x="76.3" y="237.5" width="0.7" height="0.7"/><rect x="74.6" y="243.4" width="0.7" height="0.7"/><rect x="89.6" y="251.7" width="0.7" height="0.7"/><rect x="76.0" y="233.1" width="0.7" height="0.7"/><rect x="77.3" y="244.4" width="0.7" height="0.7"/><rect x="74.5" y="245.8" width="0.7" height="0.7"/><rect x="71.7" y="234.1" width="0.7" height="0.7"/><rect x="76.6" y="243.1" width="0.7" height="0.7"/><rect x="65.9" y="231.3" width="0.7" height="0.7"/><rect x="93.3" y="244.0" width="0.7" height="0.7"/><rect x="84.5" y="231.0" width="0.7" height="0.7"/><rect x="88.5" y="242.2" width="0.7" height="0.7"/><rect x="83.8" y="249.7" width="0.7" height="0.7"/><rect x="62.3" y="217.5" width="0.7" height="0.7"/><rect x="81.0" y="231.8" width="0.7" height="0.7"/><rect x="78.9" y="233.8" width="0.7" height="0.7"/><rect x="87.1" y="243.2" width="0.7" height="0.7"/><rect x="73.5" y="239.7" width="0.7" height="0.7"/><rect x="86.3" y="244.9" width="0.7" height="0.7"/><rect x="80.7" y="244.5" width="0.7" height="0.7"/><rect x="76.0" y="230.0" width="0.7" height="0.7"/><rect x="82.2" y="240.3" width="0.7" height="0.7"/><rect x="70.8" y="238.9" width="0.7" height="0.7"/><rect x="81.6" y="243.0" width="0.7" height="0.7"/><rect x="74.5" y="235.0" width="0.7" height="0.7"/><rect x="82.7" y="246.0" width="0.7" height="0.7"/><rect x="74.1" y="230.3" width="0.7" height="0.7"/><rect x="81.1" y="242.8" width="0.7" height="0.7"/><rect x="84.1" y="236.7" width="0.7" height="0.7"/><rect x="84.7" y="245.4" width="0.7" height="0.7"/><rect x="84.4" y="236.1" width="0.7" height="0.7"/><rect x="76.3" y="251.1" width="0.7" height="0.7"/><rect x="69.2" y="224.7" width="0.7" height="0.7"/><rect x="83.9" y="239.7" width="0.7" height="0.7"/><rect x="75.6" y="230.1" width="0.7" height="0.7"/><rect x="89.1" y="244.2" width="0.7" height="0.7"/><rect x="77.3" y="227.1" width="0.7" height="0.7"/><rect x="83.6" y="243.6" width="0.7" height="0.7"/><rect x="82.0" y="252.5" width="0.7" height="0.7"/><rect x="79.9" y="233.1" width="0.7" height="0.7"/><rect x="72.9" y="235.7" width="0.7" height="0.7"/><rect x="86.9" y="238.7" width="0.7" height="0.7"/><rect x="77.5" y="237.9" width="0.7" height="0.7"/><rect x="82.9" y="237.5" width="0.7" height="0.7"/><rect x="80.9" y="246.5" width="0.7" height="0.7"/><rect x="78.8" y="239.2" width="0.7" height="0.7"/><rect x="82.7" y="246.7" width="0.7" height="0.7"/><rect x="86.6" y="239.1" width="0.7" height="0.7"/><rect x="86.4" y="244.4" width="0.7" height="0.7"/><rect x="72.2" y="231.0" width="0.7" height="0.7"/><rect x="71.6" y="232.8" width="0.7" height="0.7"/><rect x="85.2" y="230.6" width="0.7" height="0.7"/><rect x="71.9" y="239.2" width="0.7" height="0.7"/><rect x="77.2" y="243.6" width="0.7" height="0.7"/><rect x="71.0" y="233.3" width="0.7" height="0.7"/><rect x="63.4" y="222.1" width="0.7" height="0.7"/><rect x="83.4" y="251.3" width="0.7" height="0.7"/><rect x="88.8" y="247.5" width="0.7" height="0.7"/><rect x="73.7" y="233.3" width="0.7" height="0.7"/><rect x="67.5" y="239.5" width="0.7" height="0.7"/><rect x="86.1" y="239.8" width="0.7" height="0.7"/><rect x="90.0" y="240.1" width="0.7" height="0.7"/><rect x="82.4" y="237.5" width="0.7" height="0.7"/><rect x="68.6" y="234.2" width="0.7" height="0.7"/><rect x="72.0" y="242.1" width="0.7" height="0.7"/><rect x="73.6" y="236.4" width="0.7" height="0.7"/><rect x="76.1" y="238.6" width="0.7" height="0.7"/><rect x="75.2" y="242.2" width="0.7" height="0.7"/><rect x="82.7" y="243.4" width="0.7" height="0.7"/><rect x="78.2" y="252.0" width="0.7" height="0.7"/><rect x="74.8" y="233.9" width="0.7" height="0.7"/><rect x="83.6" y="243.6" width="0.7" height="0.7"/><rect x="69.2" y="231.2" width="0.7" height="0.7"/><rect x="76.7" y="231.8" width="0.7" height="0.7"/><rect x="80.2" y="233.7" width="0.7" height="0.7"/><rect x="77.5" y="231.5" width="0.7" height="0.7"/><rect x="88.4" y="245.7" width="0.7" height="0.7"/><rect x="81.7" y="244.0" width="0.7" height="0.7"/><rect x="83.2" y="242.4" width="0.7" height="0.7"/><rect x="83.5" y="244.4" width="0.7" height="0.7"/><rect x="64.3" y="230.3" width="0.7" height="0.7"/><rect x="71.2" y="239.9" width="0.7" height="0.7"/><rect x="80.3" y="238.7" width="0.7" height="0.7"/><rect x="63.9" y="214.2" width="0.7" height="0.7"/><rect x="71.9" y="231.9" width="0.7" height="0.7"/><rect x="70.7" y="246.1" width="0.7" height="0.7"/><rect x="81.7" y="241.6" width="0.7" height="0.7"/><rect x="73.1" y="233.1" width="0.7" height="0.7"/><rect x="77.6" y="236.0" width="0.7" height="0.7"/><rect x="78.5" y="244.8" width="0.7" height="0.7"/><rect x="68.4" y="233.0" width="0.7" height="0.7"/><rect x="96.4" y="201.5" width="0.7" height="0.7"/><rect x="91.8" y="205.5" width="0.7" height="0.7"/><rect x="88.5" y="210.8" width="0.7" height="0.7"/><rect x="91.4" y="211.6" width="0.7" height="0.7"/><rect x="93.9" y="205.9" width="0.7" height="0.7"/><rect x="93.5" y="205.5" width="0.7" height="0.7"/><rect x="86.8" y="212.7" width="0.7" height="0.7"/><rect x="93.8" y="211.6" width="0.7" height="0.7"/><rect x="86.2" y="211.2" width="0.7" height="0.7"/><rect x="95.4" y="206.8" width="0.7" height="0.7"/><rect x="85.1" y="207.4" width="0.7" height="0.7"/><rect x="90.2" y="206.2" width="0.7" height="0.7"/><rect x="92.7" y="203.4" width="0.7" height="0.7"/><rect x="92.0" y="207.0" width="0.7" height="0.7"/><rect x="97.6" y="206.6" width="0.7" height="0.7"/><rect x="100.7" y="202.3" width="0.7" height="0.7"/><rect x="92.0" y="212.0" width="0.7" height="0.7"/><rect x="87.0" y="209.5" width="0.7" height="0.7"/><rect x="93.9" y="204.6" width="0.7" height="0.7"/><rect x="91.7" y="213.2" width="0.7" height="0.7"/><rect x="90.9" y="208.1" width="0.7" height="0.7"/><rect x="94.0" y="211.8" width="0.7" height="0.7"/><rect x="85.3" y="201.1" width="0.7" height="0.7"/><rect x="87.8" y="205.9" width="0.7" height="0.7"/><rect x="94.6" y="210.3" width="0.7" height="0.7"/><rect x="91.5" y="213.1" width="0.7" height="0.7"/><rect x="92.2" y="209.8" width="0.7" height="0.7"/><rect x="89.8" y="210.3" width="0.7" height="0.7"/><rect x="90.0" y="211.6" width="0.7" height="0.7"/><rect x="95.5" y="214.5" width="0.7" height="0.7"/><rect x="91.0" y="202.4" width="0.7" height="0.7"/><rect x="95.4" y="208.3" width="0.7" height="0.7"/><rect x="90.6" y="201.6" width="0.7" height="0.7"/><rect x="95.3" y="199.2" width="0.7" height="0.7"/><rect x="90.9" y="211.3" width="0.7" height="0.7"/><rect x="91.6" y="208.8" width="0.7" height="0.7"/><rect x="94.2" y="209.4" width="0.7" height="0.7"/><rect x="96.2" y="209.6" width="0.7" height="0.7"/><rect x="91.2" y="202.1" width="0.7" height="0.7"/><rect x="91.5" y="204.4" width="0.7" height="0.7"/><rect x="93.9" y="211.9" width="0.7" height="0.7"/><rect x="95.2" y="204.2" width="0.7" height="0.7"/><rect x="93.2" y="207.0" width="0.7" height="0.7"/><rect x="90.9" y="212.2" width="0.7" height="0.7"/><rect x="94.7" y="208.4" width="0.7" height="0.7"/><rect x="88.2" y="196.5" width="0.7" height="0.7"/><rect x="89.9" y="211.6" width="0.7" height="0.7"/><rect x="91.7" y="206.9" width="0.7" height="0.7"/><rect x="91.6" y="208.9" width="0.7" height="0.7"/><rect x="92.5" y="213.9" width="0.7" height="0.7"/><rect x="92.1" y="205.9" width="0.7" height="0.7"/><rect x="97.5" y="210.0" width="0.7" height="0.7"/><rect x="94.9" y="209.1" width="0.7" height="0.7"/><rect x="92.4" y="208.3" width="0.7" height="0.7"/><rect x="94.4" y="207.4" width="0.7" height="0.7"/><rect x="85.9" y="212.5" width="0.7" height="0.7"/><rect x="90.8" y="204.7" width="0.7" height="0.7"/><rect x="91.3" y="204.1" width="0.7" height="0.7"/><rect x="89.4" y="206.7" width="0.7" height="0.7"/><rect x="95.6" y="205.8" width="0.7" height="0.7"/><rect x="94.2" y="201.6" width="0.7" height="0.7"/><rect x="95.1" y="202.5" width="0.7" height="0.7"/><rect x="94.9" y="204.0" width="0.7" height="0.7"/><rect x="90.4" y="202.0" width="0.7" height="0.7"/><rect x="88.1" y="206.1" width="0.7" height="0.7"/><rect x="89.1" y="206.1" width="0.7" height="0.7"/><rect x="96.5" y="203.6" width="0.7" height="0.7"/><rect x="91.4" y="206.6" width="0.7" height="0.7"/><rect x="90.3" y="206.9" width="0.7" height="0.7"/><rect x="93.3" y="211.2" width="0.7" height="0.7"/><rect x="90.0" y="206.1" width="0.7" height="0.7"/><rect x="91.9" y="211.9" width="0.7" height="0.7"/><rect x="89.0" y="207.7" width="0.7" height="0.7"/><rect x="95.2" y="209.3" width="0.7" height="0.7"/><rect x="90.0" y="202.9" width="0.7" height="0.7"/><rect x="86.0" y="204.9" width="0.7" height="0.7"/><rect x="91.6" y="201.0" width="0.7" height="0.7"/><rect x="95.4" y="207.7" width="0.7" height="0.7"/><rect x="91.7" y="204.9" width="0.7" height="0.7"/><rect x="94.2" y="205.9" width="0.7" height="0.7"/><rect x="94.3" y="205.1" width="0.7" height="0.7"/><rect x="96.2" y="200.5" width="0.7" height="0.7"/><rect x="88.7" y="214.2" width="0.7" height="0.7"/><rect x="96.2" y="213.6" width="0.7" height="0.7"/><rect x="89.7" y="209.9" width="0.7" height="0.7"/><rect x="96.0" y="210.7" width="0.7" height="0.7"/><rect x="91.9" y="212.9" width="0.7" height="0.7"/><rect x="94.0" y="201.8" width="0.7" height="0.7"/><rect x="101.1" y="207.5" width="0.7" height="0.7"/><rect x="96.9" y="204.2" width="0.7" height="0.7"/><rect x="89.2" y="210.5" width="0.7" height="0.7"/><rect x="95.4" y="204.0" width="0.7" height="0.7"/><rect x="93.4" y="201.7" width="0.7" height="0.7"/><rect x="85.3" y="211.4" width="0.7" height="0.7"/><rect x="88.5" y="210.0" width="0.7" height="0.7"/><rect x="96.2" y="208.5" width="0.7" height="0.7"/><rect x="97.8" y="208.5" width="0.7" height="0.7"/><rect x="93.5" y="207.0" width="0.7" height="0.7"/><rect x="94.0" y="208.4" width="0.7" height="0.7"/><rect x="89.2" y="206.8" width="0.7" height="0.7"/><rect x="91.2" y="218.4" width="0.7" height="0.7"/><rect x="96.8" y="203.8" width="0.7" height="0.7"/><rect x="94.6" y="200.0" width="0.7" height="0.7"/><rect x="92.7" y="214.3" width="0.7" height="0.7"/><rect x="92.8" y="212.1" width="0.7" height="0.7"/><rect x="91.2" y="208.8" width="0.7" height="0.7"/><rect x="93.8" y="198.2" width="0.7" height="0.7"/><rect x="89.7" y="214.6" width="0.7" height="0.7"/><rect x="89.6" y="211.8" width="0.7" height="0.7"/><rect x="98.5" y="206.8" width="0.7" height="0.7"/><rect x="96.0" y="208.5" width="0.7" height="0.7"/><rect x="90.4" y="209.3" width="0.7" height="0.7"/><rect x="94.0" y="203.1" width="0.7" height="0.7"/><rect x="90.9" y="201.6" width="0.7" height="0.7"/><rect x="91.3" y="206.8" width="0.7" height="0.7"/><rect x="89.1" y="199.5" width="0.7" height="0.7"/><rect x="94.9" y="212.1" width="0.7" height="0.7"/><rect x="89.3" y="207.3" width="0.7" height="0.7"/><rect x="90.2" y="196.5" width="0.7" height="0.7"/><rect x="99.9" y="208.2" width="0.7" height="0.7"/><rect x="72.3" y="236.0" width="0.7" height="0.7"/><rect x="91.5" y="246.9" width="0.7" height="0.7"/><rect x="91.6" y="235.2" width="0.7" height="0.7"/><rect x="97.9" y="227.4" width="0.7" height="0.7"/><rect x="87.2" y="211.5" width="0.7" height="0.7"/><rect x="74.7" y="223.0" width="0.7" height="0.7"/><rect x="87.1" y="204.8" width="0.7" height="0.7"/><rect x="88.4" y="240.1" width="0.7" height="0.7"/><rect x="73.7" y="215.2" width="0.7" height="0.7"/><rect x="100.4" y="220.9" width="0.7" height="0.7"/><rect x="90.1" y="237.9" width="0.7" height="0.7"/><rect x="86.6" y="227.7" width="0.7" height="0.7"/><rect x="90.1" y="231.2" width="0.7" height="0.7"/><rect x="86.3" y="205.9" width="0.7" height="0.7"/><rect x="87.2" y="215.5" width="0.7" height="0.7"/><rect x="95.0" y="200.9" width="0.7" height="0.7"/><rect x="94.0" y="230.8" width="0.7" height="0.7"/><rect x="75.2" y="204.2" width="0.7" height="0.7"/><rect x="94.5" y="220.8" width="0.7" height="0.7"/><rect x="84.3" y="225.5" width="0.7" height="0.7"/><rect x="93.5" y="193.2" width="0.7" height="0.7"/><rect x="96.1" y="219.3" width="0.7" height="0.7"/><rect x="81.3" y="231.5" width="0.7" height="0.7"/><rect x="88.3" y="195.7" width="0.7" height="0.7"/><rect x="90.4" y="225.5" width="0.7" height="0.7"/><rect x="75.7" y="212.5" width="0.7" height="0.7"/><rect x="70.6" y="228.8" width="0.7" height="0.7"/><rect x="98.3" y="222.8" width="0.7" height="0.7"/><rect x="80.8" y="203.6" width="0.7" height="0.7"/><rect x="78.6" y="208.4" width="0.7" height="0.7"/><rect x="85.2" y="248.3" width="0.7" height="0.7"/><rect x="94.5" y="242.5" width="0.7" height="0.7"/><rect x="76.3" y="232.1" width="0.7" height="0.7"/><rect x="78.5" y="210.1" width="0.7" height="0.7"/><rect x="91.6" y="226.7" width="0.7" height="0.7"/><rect x="107.4" y="238.0" width="0.7" height="0.7"/><rect x="82.2" y="233.7" width="0.7" height="0.7"/><rect x="74.6" y="229.2" width="0.7" height="0.7"/><rect x="99.1" y="229.7" width="0.7" height="0.7"/><rect x="80.4" y="237.9" width="0.7" height="0.7"/><rect x="74.9" y="225.3" width="0.7" height="0.7"/><rect x="80.3" y="226.8" width="0.7" height="0.7"/><rect x="77.9" y="229.8" width="0.7" height="0.7"/><rect x="90.1" y="250.8" width="0.7" height="0.7"/><rect x="81.7" y="229.4" width="0.7" height="0.7"/><rect x="69.1" y="207.1" width="0.7" height="0.7"/><rect x="87.4" y="207.8" width="0.7" height="0.7"/><rect x="84.0" y="212.5" width="0.7" height="0.7"/><rect x="89.3" y="235.0" width="0.7" height="0.7"/><rect x="80.7" y="231.8" width="0.7" height="0.7"/><rect x="80.0" y="224.2" width="0.7" height="0.7"/><rect x="89.7" y="234.6" width="0.7" height="0.7"/><rect x="90.3" y="250.2" width="0.7" height="0.7"/><rect x="79.2" y="220.2" width="0.7" height="0.7"/><rect x="68.5" y="229.0" width="0.7" height="0.7"/><rect x="74.9" y="212.3" width="0.7" height="0.7"/><rect x="80.4" y="228.4" width="0.7" height="0.7"/><rect x="82.5" y="220.0" width="0.7" height="0.7"/><rect x="85.7" y="220.8" width="0.7" height="0.7"/><rect x="84.8" y="211.8" width="0.7" height="0.7"/><rect x="80.0" y="206.4" width="0.7" height="0.7"/><rect x="92.7" y="240.6" width="0.7" height="0.7"/><rect x="91.0" y="232.2" width="0.7" height="0.7"/><rect x="79.6" y="229.9" width="0.7" height="0.7"/><rect x="74.3" y="240.0" width="0.7" height="0.7"/><rect x="87.2" y="246.8" width="0.7" height="0.7"/><rect x="78.6" y="235.5" width="0.7" height="0.7"/><rect x="99.3" y="244.9" width="0.7" height="0.7"/><rect x="87.6" y="240.6" width="0.7" height="0.7"/><rect x="80.9" y="246.7" width="0.7" height="0.7"/><rect x="74.6" y="210.0" width="0.7" height="0.7"/><rect x="85.2" y="214.9" width="0.7" height="0.7"/><rect x="100.8" y="241.3" width="0.7" height="0.7"/><rect x="78.4" y="244.3" width="0.7" height="0.7"/><rect x="97.2" y="225.6" width="0.7" height="0.7"/><rect x="99.1" y="247.4" width="0.7" height="0.7"/><rect x="80.5" y="215.4" width="0.7" height="0.7"/><rect x="87.8" y="241.7" width="0.7" height="0.7"/><rect x="99.1" y="251.7" width="0.7" height="0.7"/><rect x="80.6" y="199.1" width="0.7" height="0.7"/><rect x="69.8" y="238.1" width="0.7" height="0.7"/><rect x="94.5" y="245.2" width="0.7" height="0.7"/><rect x="85.0" y="226.1" width="0.7" height="0.7"/><rect x="89.4" y="233.2" width="0.7" height="0.7"/><rect x="85.7" y="212.4" width="0.7" height="0.7"/><rect x="72.7" y="221.3" width="0.7" height="0.7"/><rect x="83.6" y="243.3" width="0.7" height="0.7"/><rect x="75.4" y="194.0" width="0.7" height="0.7"/></g>
<ellipse cx="93.3" cy="224" rx="2.6" ry="8.0" fill="#3a50ff" opacity="0.5" filter="url(#blur1)"/>
<ellipse cx="93.3" cy="214.5" rx="5.8999999999999995" ry="6.6" fill="#3040ff" opacity="0.9" filter="url(#blur1)"/>
<ellipse cx="93.3" cy="214.5" rx="4.2" ry="4.9" fill="#14cde6" opacity="1" filter="url(#blur05)"/>
<ellipse cx="93.3" cy="214.5" rx="2.5999999999999996" ry="3.3" fill="#20e040" opacity="1" filter="url(#blur05)"/>
<line x1="88.50" y1="191.30" x2="88.50" y2="254.20" stroke="#808080" stroke-width="1.3" />
<line x1="50.40" y1="219.80" x2="112.40" y2="219.80" stroke="#808080" stroke-width="1.3" />
<text x="51.70" y="197.90" font-size="5.8" fill="#3a3a3a" stroke="#3a3a3a" stroke-width="0.03" textLength="19.00" lengthAdjust="spacingAndGlyphs" >1.75%</text>
<text x="111.60" y="197.90" font-size="5.8" text-anchor="end" fill="#3a3a3a" stroke="#3a3a3a" stroke-width="0.03" textLength="19.40" lengthAdjust="spacingAndGlyphs" >36.6%</text>
<text x="51.70" y="252.80" font-size="5.8" fill="#3a3a3a" stroke="#3a3a3a" stroke-width="0.03" textLength="19.00" lengthAdjust="spacingAndGlyphs" >11.8%</text>
<text x="111.60" y="252.80" font-size="5.8" text-anchor="end" fill="#3a3a3a" stroke="#3a3a3a" stroke-width="0.03" textLength="19.40" lengthAdjust="spacingAndGlyphs" >49.9%</text>
<defs><linearGradient id="cg1" x1="0" x2="1"><stop offset="0" stop-color="#5a6ad0"/><stop offset="0.35" stop-color="#40a0c0"/><stop offset="0.55" stop-color="#70b850"/><stop offset="0.7" stop-color="#d06040"/><stop offset="0.85" stop-color="#a0a0d0"/><stop offset="1" stop-color="#c0c0e0"/></linearGradient></defs>
<rect x="50.90" y="253.30" width="61.00" height="1.40" fill="url(#cg1)" opacity="0.85"/>
<text x="51.50" y="266.50" font-size="8.3" stroke="#222" stroke-width="0.06" textLength="8.70" lengthAdjust="spacingAndGlyphs" >10</text>
<text x="60.70" y="263.20" font-size="5" stroke="#222" stroke-width="0.04" textLength="2.40" lengthAdjust="spacingAndGlyphs" >1</text>
<text x="64.50" y="266.50" font-size="8.3" stroke="#222" stroke-width="0.06" textLength="8.70" lengthAdjust="spacingAndGlyphs" >10</text>
<text x="73.70" y="263.20" font-size="5" stroke="#222" stroke-width="0.04" textLength="2.40" lengthAdjust="spacingAndGlyphs" >2</text>
<text x="77.50" y="266.50" font-size="8.3" stroke="#222" stroke-width="0.06" textLength="8.70" lengthAdjust="spacingAndGlyphs" >10</text>
<text x="86.70" y="263.20" font-size="5" stroke="#222" stroke-width="0.04" textLength="2.40" lengthAdjust="spacingAndGlyphs" >3</text>
<text x="90.50" y="266.50" font-size="8.3" stroke="#222" stroke-width="0.06" textLength="8.70" lengthAdjust="spacingAndGlyphs" >10</text>
<text x="99.70" y="263.20" font-size="5" stroke="#222" stroke-width="0.04" textLength="2.40" lengthAdjust="spacingAndGlyphs" >4</text>
<text x="103.50" y="266.50" font-size="8.3" stroke="#222" stroke-width="0.06" textLength="8.70" lengthAdjust="spacingAndGlyphs" >10</text>
<text x="112.70" y="263.20" font-size="5" stroke="#222" stroke-width="0.04" textLength="2.40" lengthAdjust="spacingAndGlyphs" >5</text>
<rect x="126.90" y="191.10" width="61.60" height="63.00" fill="#fff" stroke="#bdbdbd" stroke-width="0.8"/>
<line x1="125.70" y1="193.62" x2="126.90" y2="193.62" stroke="#aaa" stroke-width="0.5" />
<line x1="125.70" y1="196.14" x2="126.90" y2="196.14" stroke="#aaa" stroke-width="0.5" />
<line x1="125.70" y1="198.66" x2="126.90" y2="198.66" stroke="#aaa" stroke-width="0.5" />
<line x1="125.70" y1="201.18" x2="126.90" y2="201.18" stroke="#aaa" stroke-width="0.5" />
<line x1="125.70" y1="203.70" x2="126.90" y2="203.70" stroke="#aaa" stroke-width="0.5" />
<line x1="125.70" y1="206.22" x2="126.90" y2="206.22" stroke="#aaa" stroke-width="0.5" />
<line x1="125.70" y1="208.74" x2="126.90" y2="208.74" stroke="#aaa" stroke-width="0.5" />
<line x1="125.70" y1="211.26" x2="126.90" y2="211.26" stroke="#aaa" stroke-width="0.5" />
<line x1="125.70" y1="213.78" x2="126.90" y2="213.78" stroke="#aaa" stroke-width="0.5" />
<line x1="125.70" y1="216.30" x2="126.90" y2="216.30" stroke="#aaa" stroke-width="0.5" />
<line x1="125.70" y1="218.82" x2="126.90" y2="218.82" stroke="#aaa" stroke-width="0.5" />
<line x1="125.70" y1="221.34" x2="126.90" y2="221.34" stroke="#aaa" stroke-width="0.5" />
<line x1="125.70" y1="223.86" x2="126.90" y2="223.86" stroke="#aaa" stroke-width="0.5" />
<line x1="125.70" y1="226.38" x2="126.90" y2="226.38" stroke="#aaa" stroke-width="0.5" />
<line x1="125.70" y1="228.90" x2="126.90" y2="228.90" stroke="#aaa" stroke-width="0.5" />
<line x1="125.70" y1="231.42" x2="126.90" y2="231.42" stroke="#aaa" stroke-width="0.5" />
<line x1="125.70" y1="233.94" x2="126.90" y2="233.94" stroke="#aaa" stroke-width="0.5" />
<line x1="125.70" y1="236.46" x2="126.90" y2="236.46" stroke="#aaa" stroke-width="0.5" />
<line x1="125.70" y1="238.98" x2="126.90" y2="238.98" stroke="#aaa" stroke-width="0.5" />
<line x1="125.70" y1="241.50" x2="126.90" y2="241.50" stroke="#aaa" stroke-width="0.5" />
<line x1="125.70" y1="244.02" x2="126.90" y2="244.02" stroke="#aaa" stroke-width="0.5" />
<line x1="125.70" y1="246.54" x2="126.90" y2="246.54" stroke="#aaa" stroke-width="0.5" />
<line x1="125.70" y1="249.06" x2="126.90" y2="249.06" stroke="#aaa" stroke-width="0.5" />
<line x1="125.70" y1="251.58" x2="126.90" y2="251.58" stroke="#aaa" stroke-width="0.5" />
<g fill="#4455ee" fill-opacity="0.5"><rect x="172.9" y="228.0" width="0.7" height="0.7"/><rect x="168.4" y="235.3" width="0.7" height="0.7"/><rect x="169.4" y="221.4" width="0.7" height="0.7"/><rect x="166.5" y="227.2" width="0.7" height="0.7"/><rect x="165.0" y="226.4" width="0.7" height="0.7"/><rect x="166.3" y="231.4" width="0.7" height="0.7"/><rect x="165.4" y="237.8" width="0.7" height="0.7"/><rect x="166.2" y="205.2" width="0.7" height="0.7"/><rect x="170.2" y="230.5" width="0.7" height="0.7"/><rect x="165.8" y="236.4" width="0.7" height="0.7"/><rect x="168.0" y="234.5" width="0.7" height="0.7"/><rect x="165.5" y="235.7" width="0.7" height="0.7"/><rect x="164.0" y="247.0" width="0.7" height="0.7"/><rect x="164.6" y="232.1" width="0.7" height="0.7"/><rect x="167.5" y="236.0" width="0.7" height="0.7"/><rect x="166.9" y="238.3" width="0.7" height="0.7"/><rect x="159.1" y="231.9" width="0.7" height="0.7"/><rect x="166.8" y="228.9" width="0.7" height="0.7"/><rect x="170.7" y="224.0" width="0.7" height="0.7"/><rect x="167.0" y="214.5" width="0.7" height="0.7"/><rect x="167.8" y="218.2" width="0.7" height="0.7"/><rect x="168.8" y="232.7" width="0.7" height="0.7"/><rect x="167.6" y="219.7" width="0.7" height="0.7"/><rect x="164.8" y="236.7" width="0.7" height="0.7"/><rect x="162.3" y="235.3" width="0.7" height="0.7"/><rect x="163.2" y="233.9" width="0.7" height="0.7"/><rect x="164.6" y="248.8" width="0.7" height="0.7"/><rect x="169.6" y="228.1" width="0.7" height="0.7"/><rect x="162.8" y="225.6" width="0.7" height="0.7"/><rect x="167.1" y="223.7" width="0.7" height="0.7"/><rect x="167.9" y="241.8" width="0.7" height="0.7"/><rect x="167.1" y="228.8" width="0.7" height="0.7"/><rect x="169.0" y="230.1" width="0.7" height="0.7"/><rect x="169.2" y="229.9" width="0.7" height="0.7"/><rect x="171.0" y="230.3" width="0.7" height="0.7"/><rect x="164.7" y="233.7" width="0.7" height="0.7"/><rect x="165.7" y="224.2" width="0.7" height="0.7"/><rect x="166.9" y="239.7" width="0.7" height="0.7"/><rect x="162.2" y="232.4" width="0.7" height="0.7"/><rect x="166.8" y="231.5" width="0.7" height="0.7"/><rect x="169.1" y="220.9" width="0.7" height="0.7"/><rect x="168.8" y="230.8" width="0.7" height="0.7"/><rect x="167.5" y="230.9" width="0.7" height="0.7"/><rect x="166.4" y="228.1" width="0.7" height="0.7"/><rect x="168.2" y="252.2" width="0.7" height="0.7"/><rect x="169.7" y="240.8" width="0.7" height="0.7"/><rect x="168.5" y="228.6" width="0.7" height="0.7"/><rect x="168.7" y="252.0" width="0.7" height="0.7"/><rect x="164.3" y="240.7" width="0.7" height="0.7"/><rect x="169.6" y="235.7" width="0.7" height="0.7"/><rect x="169.1" y="245.9" width="0.7" height="0.7"/><rect x="172.5" y="245.1" width="0.7" height="0.7"/><rect x="171.2" y="236.3" width="0.7" height="0.7"/><rect x="169.3" y="234.9" width="0.7" height="0.7"/><rect x="168.0" y="229.1" width="0.7" height="0.7"/><rect x="168.9" y="246.6" width="0.7" height="0.7"/><rect x="167.0" y="235.8" width="0.7" height="0.7"/><rect x="168.8" y="233.7" width="0.7" height="0.7"/><rect x="169.6" y="235.9" width="0.7" height="0.7"/><rect x="164.7" y="224.2" width="0.7" height="0.7"/><rect x="169.1" y="239.3" width="0.7" height="0.7"/><rect x="170.0" y="235.9" width="0.7" height="0.7"/><rect x="167.9" y="219.3" width="0.7" height="0.7"/><rect x="170.7" y="225.3" width="0.7" height="0.7"/><rect x="169.8" y="223.3" width="0.7" height="0.7"/><rect x="165.9" y="235.1" width="0.7" height="0.7"/><rect x="166.4" y="227.4" width="0.7" height="0.7"/><rect x="169.5" y="239.9" width="0.7" height="0.7"/><rect x="168.3" y="230.7" width="0.7" height="0.7"/><rect x="165.5" y="229.4" width="0.7" height="0.7"/><rect x="166.2" y="233.5" width="0.7" height="0.7"/><rect x="169.2" y="232.3" width="0.7" height="0.7"/><rect x="165.6" y="228.2" width="0.7" height="0.7"/><rect x="170.4" y="235.3" width="0.7" height="0.7"/><rect x="168.0" y="236.4" width="0.7" height="0.7"/><rect x="168.8" y="235.1" width="0.7" height="0.7"/><rect x="170.2" y="241.2" width="0.7" height="0.7"/><rect x="160.9" y="232.7" width="0.7" height="0.7"/><rect x="174.3" y="222.3" width="0.7" height="0.7"/><rect x="167.8" y="243.7" width="0.7" height="0.7"/><rect x="167.5" y="246.0" width="0.7" height="0.7"/><rect x="164.6" y="222.6" width="0.7" height="0.7"/><rect x="167.1" y="227.3" width="0.7" height="0.7"/><rect x="165.0" y="239.1" width="0.7" height="0.7"/><rect x="168.1" y="234.1" width="0.7" height="0.7"/><rect x="166.6" y="236.4" width="0.7" height="0.7"/><rect x="167.2" y="227.4" width="0.7" height="0.7"/><rect x="168.7" y="237.3" width="0.7" height="0.7"/><rect x="167.7" y="240.3" width="0.7" height="0.7"/><rect x="165.0" y="232.7" width="0.7" height="0.7"/><rect x="166.3" y="246.0" width="0.7" height="0.7"/><rect x="168.7" y="253.1" width="0.7" height="0.7"/><rect x="171.1" y="230.7" width="0.7" height="0.7"/><rect x="165.0" y="238.4" width="0.7" height="0.7"/><rect x="166.8" y="232.6" width="0.7" height="0.7"/><rect x="165.1" y="239.4" width="0.7" height="0.7"/><rect x="167.9" y="237.6" width="0.7" height="0.7"/><rect x="168.2" y="225.9" width="0.7" height="0.7"/><rect x="162.3" y="231.6" width="0.7" height="0.7"/><rect x="166.0" y="229.2" width="0.7" height="0.7"/><rect x="169.7" y="233.1" width="0.7" height="0.7"/><rect x="171.0" y="235.6" width="0.7" height="0.7"/><rect x="169.1" y="238.6" width="0.7" height="0.7"/><rect x="169.4" y="222.7" width="0.7" height="0.7"/><rect x="170.0" y="235.0" width="0.7" height="0.7"/><rect x="165.3" y="239.5" width="0.7" height="0.7"/><rect x="168.3" y="245.6" width="0.7" height="0.7"/><rect x="169.2" y="237.3" width="0.7" height="0.7"/><rect x="163.7" y="249.1" width="0.7" height="0.7"/><rect x="170.9" y="241.0" width="0.7" height="0.7"/><rect x="168.6" y="245.0" width="0.7" height="0.7"/><rect x="165.5" y="240.3" width="0.7" height="0.7"/><rect x="167.6" y="225.0" width="0.7" height="0.7"/><rect x="168.3" y="237.2" width="0.7" height="0.7"/><rect x="171.4" y="242.5" width="0.7" height="0.7"/><rect x="163.8" y="216.3" width="0.7" height="0.7"/><rect x="167.3" y="232.1" width="0.7" height="0.7"/><rect x="165.3" y="220.9" width="0.7" height="0.7"/><rect x="167.1" y="223.6" width="0.7" height="0.7"/><rect x="165.9" y="241.8" width="0.7" height="0.7"/><rect x="168.0" y="227.2" width="0.7" height="0.7"/><rect x="164.9" y="232.3" width="0.7" height="0.7"/><rect x="171.5" y="229.4" width="0.7" height="0.7"/><rect x="171.5" y="226.9" width="0.7" height="0.7"/><rect x="167.0" y="240.3" width="0.7" height="0.7"/><rect x="165.7" y="234.5" width="0.7" height="0.7"/><rect x="164.4" y="240.0" width="0.7" height="0.7"/><rect x="170.2" y="228.1" width="0.7" height="0.7"/><rect x="167.9" y="230.3" width="0.7" height="0.7"/><rect x="168.9" y="241.4" width="0.7" height="0.7"/><rect x="168.4" y="235.6" width="0.7" height="0.7"/><rect x="173.0" y="217.6" width="0.7" height="0.7"/><rect x="166.8" y="230.2" width="0.7" height="0.7"/><rect x="167.0" y="240.3" width="0.7" height="0.7"/><rect x="165.8" y="222.0" width="0.7" height="0.7"/><rect x="164.9" y="238.1" width="0.7" height="0.7"/><rect x="169.7" y="241.3" width="0.7" height="0.7"/><rect x="171.2" y="229.3" width="0.7" height="0.7"/><rect x="169.8" y="240.2" width="0.7" height="0.7"/><rect x="167.1" y="227.2" width="0.7" height="0.7"/><rect x="169.5" y="227.9" width="0.7" height="0.7"/><rect x="166.8" y="225.2" width="0.7" height="0.7"/><rect x="171.5" y="233.5" width="0.7" height="0.7"/><rect x="166.3" y="231.8" width="0.7" height="0.7"/><rect x="167.0" y="234.8" width="0.7" height="0.7"/><rect x="163.6" y="223.5" width="0.7" height="0.7"/><rect x="168.7" y="243.7" width="0.7" height="0.7"/><rect x="165.2" y="235.0" width="0.7" height="0.7"/><rect x="166.2" y="213.5" width="0.7" height="0.7"/><rect x="166.8" y="224.2" width="0.7" height="0.7"/><rect x="169.5" y="232.1" width="0.7" height="0.7"/><rect x="167.4" y="220.8" width="0.7" height="0.7"/><rect x="167.8" y="216.5" width="0.7" height="0.7"/><rect x="168.0" y="246.4" width="0.7" height="0.7"/><rect x="164.7" y="241.7" width="0.7" height="0.7"/><rect x="170.7" y="232.2" width="0.7" height="0.7"/><rect x="170.1" y="234.7" width="0.7" height="0.7"/><rect x="166.4" y="215.9" width="0.7" height="0.7"/><rect x="165.0" y="220.6" width="0.7" height="0.7"/><rect x="173.0" y="236.3" width="0.7" height="0.7"/><rect x="167.1" y="221.8" width="0.7" height="0.7"/><rect x="171.5" y="223.5" width="0.7" height="0.7"/><rect x="170.9" y="243.8" width="0.7" height="0.7"/><rect x="167.7" y="228.0" width="0.7" height="0.7"/><rect x="167.4" y="222.1" width="0.7" height="0.7"/><rect x="169.0" y="249.2" width="0.7" height="0.7"/><rect x="169.6" y="243.4" width="0.7" height="0.7"/><rect x="165.9" y="236.8" width="0.7" height="0.7"/><rect x="165.1" y="229.9" width="0.7" height="0.7"/><rect x="167.7" y="234.3" width="0.7" height="0.7"/><rect x="163.1" y="235.6" width="0.7" height="0.7"/><rect x="165.4" y="221.3" width="0.7" height="0.7"/><rect x="164.1" y="235.3" width="0.7" height="0.7"/><rect x="166.6" y="240.1" width="0.7" height="0.7"/><rect x="167.0" y="234.0" width="0.7" height="0.7"/><rect x="170.9" y="241.2" width="0.7" height="0.7"/><rect x="169.3" y="247.3" width="0.7" height="0.7"/><rect x="168.0" y="225.0" width="0.7" height="0.7"/><rect x="165.7" y="219.9" width="0.7" height="0.7"/><rect x="168.3" y="230.3" width="0.7" height="0.7"/><rect x="168.7" y="241.5" width="0.7" height="0.7"/><rect x="165.6" y="235.7" width="0.7" height="0.7"/><rect x="170.4" y="234.8" width="0.7" height="0.7"/><rect x="169.7" y="232.2" width="0.7" height="0.7"/><rect x="165.3" y="231.9" width="0.7" height="0.7"/><rect x="163.1" y="240.4" width="0.7" height="0.7"/><rect x="166.3" y="246.2" width="0.7" height="0.7"/><rect x="164.7" y="235.1" width="0.7" height="0.7"/><rect x="168.3" y="232.2" width="0.7" height="0.7"/><rect x="168.4" y="227.2" width="0.7" height="0.7"/><rect x="165.0" y="221.2" width="0.7" height="0.7"/><rect x="166.2" y="226.6" width="0.7" height="0.7"/><rect x="168.0" y="230.7" width="0.7" height="0.7"/><rect x="166.0" y="227.3" width="0.7" height="0.7"/><rect x="163.1" y="230.7" width="0.7" height="0.7"/><rect x="168.5" y="221.9" width="0.7" height="0.7"/><rect x="166.9" y="240.1" width="0.7" height="0.7"/><rect x="165.9" y="235.7" width="0.7" height="0.7"/><rect x="170.7" y="244.8" width="0.7" height="0.7"/><rect x="165.9" y="239.9" width="0.7" height="0.7"/><rect x="167.1" y="237.3" width="0.7" height="0.7"/><rect x="166.2" y="235.4" width="0.7" height="0.7"/><rect x="165.7" y="236.7" width="0.7" height="0.7"/><rect x="171.6" y="221.5" width="0.7" height="0.7"/><rect x="164.4" y="238.6" width="0.7" height="0.7"/><rect x="169.3" y="230.6" width="0.7" height="0.7"/><rect x="168.9" y="237.9" width="0.7" height="0.7"/><rect x="168.8" y="246.6" width="0.7" height="0.7"/><rect x="166.0" y="240.0" width="0.7" height="0.7"/><rect x="168.0" y="227.7" width="0.7" height="0.7"/><rect x="168.7" y="222.1" width="0.7" height="0.7"/><rect x="164.0" y="243.8" width="0.7" height="0.7"/><rect x="164.9" y="249.5" width="0.7" height="0.7"/><rect x="169.9" y="229.2" width="0.7" height="0.7"/><rect x="165.4" y="213.6" width="0.7" height="0.7"/><rect x="167.3" y="219.0" width="0.7" height="0.7"/><rect x="160.6" y="231.6" width="0.7" height="0.7"/><rect x="151.4" y="217.3" width="0.7" height="0.7"/><rect x="148.8" y="249.8" width="0.7" height="0.7"/><rect x="148.3" y="231.4" width="0.7" height="0.7"/><rect x="148.1" y="241.4" width="0.7" height="0.7"/><rect x="156.4" y="241.2" width="0.7" height="0.7"/><rect x="138.4" y="235.0" width="0.7" height="0.7"/><rect x="152.0" y="242.0" width="0.7" height="0.7"/><rect x="147.7" y="244.3" width="0.7" height="0.7"/><rect x="161.8" y="238.0" width="0.7" height="0.7"/><rect x="151.5" y="231.5" width="0.7" height="0.7"/><rect x="146.7" y="235.8" width="0.7" height="0.7"/><rect x="154.0" y="234.7" width="0.7" height="0.7"/><rect x="149.2" y="250.4" width="0.7" height="0.7"/><rect x="154.1" y="247.7" width="0.7" height="0.7"/><rect x="153.4" y="239.8" width="0.7" height="0.7"/><rect x="153.5" y="245.9" width="0.7" height="0.7"/><rect x="151.0" y="248.6" width="0.7" height="0.7"/><rect x="151.0" y="247.6" width="0.7" height="0.7"/><rect x="151.1" y="246.2" width="0.7" height="0.7"/><rect x="146.8" y="232.7" width="0.7" height="0.7"/><rect x="143.9" y="245.8" width="0.7" height="0.7"/><rect x="154.1" y="243.6" width="0.7" height="0.7"/><rect x="154.8" y="235.2" width="0.7" height="0.7"/><rect x="151.6" y="236.0" width="0.7" height="0.7"/><rect x="139.5" y="230.8" width="0.7" height="0.7"/><rect x="145.6" y="248.8" width="0.7" height="0.7"/><rect x="146.4" y="231.9" width="0.7" height="0.7"/><rect x="157.0" y="243.5" width="0.7" height="0.7"/><rect x="142.8" y="236.9" width="0.7" height="0.7"/><rect x="146.3" y="251.6" width="0.7" height="0.7"/><rect x="144.5" y="229.8" width="0.7" height="0.7"/><rect x="134.1" y="224.1" width="0.7" height="0.7"/><rect x="162.5" y="245.8" width="0.7" height="0.7"/><rect x="145.1" y="238.8" width="0.7" height="0.7"/><rect x="149.2" y="238.5" width="0.7" height="0.7"/><rect x="145.3" y="220.0" width="0.7" height="0.7"/><rect x="155.5" y="246.0" width="0.7" height="0.7"/><rect x="151.2" y="239.1" width="0.7" height="0.7"/><rect x="155.4" y="247.4" width="0.7" height="0.7"/><rect x="152.6" y="245.1" width="0.7" height="0.7"/><rect x="149.7" y="236.1" width="0.7" height="0.7"/><rect x="159.5" y="243.0" width="0.7" height="0.7"/><rect x="163.2" y="252.8" width="0.7" height="0.7"/><rect x="151.4" y="249.7" width="0.7" height="0.7"/><rect x="147.9" y="236.5" width="0.7" height="0.7"/><rect x="148.9" y="238.7" width="0.7" height="0.7"/><rect x="154.2" y="232.9" width="0.7" height="0.7"/><rect x="145.9" y="221.6" width="0.7" height="0.7"/><rect x="155.5" y="250.1" width="0.7" height="0.7"/><rect x="153.0" y="244.2" width="0.7" height="0.7"/><rect x="154.2" y="245.5" width="0.7" height="0.7"/><rect x="154.9" y="244.3" width="0.7" height="0.7"/><rect x="144.9" y="244.3" width="0.7" height="0.7"/><rect x="159.2" y="231.1" width="0.7" height="0.7"/><rect x="149.6" y="229.5" width="0.7" height="0.7"/><rect x="154.1" y="239.4" width="0.7" height="0.7"/><rect x="148.1" y="234.2" width="0.7" height="0.7"/><rect x="147.4" y="242.7" width="0.7" height="0.7"/><rect x="145.2" y="240.2" width="0.7" height="0.7"/><rect x="142.4" y="243.6" width="0.7" height="0.7"/><rect x="153.9" y="231.9" width="0.7" height="0.7"/><rect x="146.2" y="238.2" width="0.7" height="0.7"/><rect x="152.7" y="216.8" width="0.7" height="0.7"/><rect x="148.2" y="226.9" width="0.7" height="0.7"/><rect x="158.5" y="246.5" width="0.7" height="0.7"/><rect x="152.2" y="245.9" width="0.7" height="0.7"/><rect x="143.4" y="229.8" width="0.7" height="0.7"/><rect x="144.0" y="226.2" width="0.7" height="0.7"/><rect x="149.0" y="229.8" width="0.7" height="0.7"/><rect x="160.9" y="250.1" width="0.7" height="0.7"/><rect x="156.1" y="229.0" width="0.7" height="0.7"/><rect x="149.6" y="237.9" width="0.7" height="0.7"/><rect x="152.0" y="244.3" width="0.7" height="0.7"/><rect x="146.1" y="229.2" width="0.7" height="0.7"/><rect x="163.7" y="245.2" width="0.7" height="0.7"/><rect x="146.1" y="238.6" width="0.7" height="0.7"/><rect x="149.5" y="232.8" width="0.7" height="0.7"/><rect x="157.4" y="237.7" width="0.7" height="0.7"/><rect x="145.7" y="241.3" width="0.7" height="0.7"/><rect x="149.8" y="230.3" width="0.7" height="0.7"/><rect x="149.3" y="235.5" width="0.7" height="0.7"/><rect x="149.6" y="232.9" width="0.7" height="0.7"/><rect x="154.5" y="239.1" width="0.7" height="0.7"/><rect x="147.3" y="246.6" width="0.7" height="0.7"/><rect x="145.3" y="242.9" width="0.7" height="0.7"/><rect x="154.6" y="239.6" width="0.7" height="0.7"/><rect x="152.3" y="228.2" width="0.7" height="0.7"/><rect x="152.5" y="232.1" width="0.7" height="0.7"/><rect x="145.7" y="239.0" width="0.7" height="0.7"/><rect x="146.5" y="238.3" width="0.7" height="0.7"/><rect x="153.5" y="250.2" width="0.7" height="0.7"/><rect x="153.4" y="250.1" width="0.7" height="0.7"/><rect x="146.4" y="234.1" width="0.7" height="0.7"/><rect x="154.9" y="252.2" width="0.7" height="0.7"/><rect x="153.7" y="237.1" width="0.7" height="0.7"/><rect x="144.4" y="228.0" width="0.7" height="0.7"/><rect x="157.8" y="235.8" width="0.7" height="0.7"/><rect x="149.5" y="244.4" width="0.7" height="0.7"/><rect x="153.6" y="235.6" width="0.7" height="0.7"/><rect x="163.1" y="248.6" width="0.7" height="0.7"/><rect x="152.7" y="247.8" width="0.7" height="0.7"/><rect x="149.1" y="244.6" width="0.7" height="0.7"/><rect x="150.1" y="232.0" width="0.7" height="0.7"/><rect x="145.2" y="239.6" width="0.7" height="0.7"/><rect x="151.6" y="239.0" width="0.7" height="0.7"/><rect x="148.2" y="236.2" width="0.7" height="0.7"/><rect x="155.8" y="252.0" width="0.7" height="0.7"/><rect x="149.4" y="241.2" width="0.7" height="0.7"/><rect x="139.7" y="223.6" width="0.7" height="0.7"/><rect x="146.7" y="229.8" width="0.7" height="0.7"/><rect x="155.2" y="225.1" width="0.7" height="0.7"/><rect x="153.9" y="247.4" width="0.7" height="0.7"/><rect x="164.4" y="243.9" width="0.7" height="0.7"/><rect x="156.7" y="235.6" width="0.7" height="0.7"/><rect x="148.8" y="229.1" width="0.7" height="0.7"/><rect x="151.4" y="245.9" width="0.7" height="0.7"/><rect x="159.2" y="249.6" width="0.7" height="0.7"/><rect x="156.4" y="252.0" width="0.7" height="0.7"/><rect x="146.0" y="242.6" width="0.7" height="0.7"/><rect x="156.9" y="242.0" width="0.7" height="0.7"/><rect x="145.2" y="237.8" width="0.7" height="0.7"/><rect x="151.9" y="246.3" width="0.7" height="0.7"/><rect x="140.2" y="230.4" width="0.7" height="0.7"/><rect x="150.1" y="237.0" width="0.7" height="0.7"/><rect x="149.4" y="231.0" width="0.7" height="0.7"/><rect x="148.2" y="238.0" width="0.7" height="0.7"/><rect x="143.7" y="235.0" width="0.7" height="0.7"/><rect x="152.6" y="230.3" width="0.7" height="0.7"/><rect x="148.3" y="225.5" width="0.7" height="0.7"/><rect x="151.2" y="242.0" width="0.7" height="0.7"/><rect x="147.9" y="238.7" width="0.7" height="0.7"/><rect x="154.3" y="247.6" width="0.7" height="0.7"/><rect x="142.9" y="232.5" width="0.7" height="0.7"/><rect x="142.3" y="219.1" width="0.7" height="0.7"/><rect x="157.1" y="250.0" width="0.7" height="0.7"/><rect x="158.6" y="250.9" width="0.7" height="0.7"/><rect x="148.0" y="239.9" width="0.7" height="0.7"/><rect x="147.7" y="249.3" width="0.7" height="0.7"/><rect x="136.8" y="234.8" width="0.7" height="0.7"/><rect x="147.6" y="243.9" width="0.7" height="0.7"/><rect x="158.2" y="239.1" width="0.7" height="0.7"/><rect x="141.5" y="249.4" width="0.7" height="0.7"/><rect x="143.9" y="224.5" width="0.7" height="0.7"/><rect x="156.7" y="237.4" width="0.7" height="0.7"/><rect x="152.3" y="240.4" width="0.7" height="0.7"/><rect x="144.8" y="249.6" width="0.7" height="0.7"/><rect x="160.0" y="246.0" width="0.7" height="0.7"/><rect x="160.5" y="245.6" width="0.7" height="0.7"/><rect x="152.6" y="238.4" width="0.7" height="0.7"/><rect x="143.0" y="232.4" width="0.7" height="0.7"/><rect x="145.2" y="239.9" width="0.7" height="0.7"/><rect x="151.9" y="235.8" width="0.7" height="0.7"/><rect x="158.7" y="247.7" width="0.7" height="0.7"/><rect x="162.0" y="243.4" width="0.7" height="0.7"/><rect x="148.7" y="232.5" width="0.7" height="0.7"/><rect x="152.4" y="239.5" width="0.7" height="0.7"/><rect x="155.8" y="237.7" width="0.7" height="0.7"/><rect x="153.4" y="239.3" width="0.7" height="0.7"/><rect x="149.2" y="237.1" width="0.7" height="0.7"/><rect x="151.4" y="245.6" width="0.7" height="0.7"/><rect x="157.1" y="244.0" width="0.7" height="0.7"/><rect x="146.1" y="237.1" width="0.7" height="0.7"/><rect x="149.9" y="237.1" width="0.7" height="0.7"/><rect x="143.7" y="234.5" width="0.7" height="0.7"/><rect x="140.1" y="243.9" width="0.7" height="0.7"/><rect x="155.4" y="248.9" width="0.7" height="0.7"/><rect x="145.4" y="238.6" width="0.7" height="0.7"/><rect x="158.7" y="242.9" width="0.7" height="0.7"/><rect x="144.6" y="235.2" width="0.7" height="0.7"/><rect x="137.4" y="239.6" width="0.7" height="0.7"/><rect x="153.6" y="230.2" width="0.7" height="0.7"/><rect x="155.2" y="252.0" width="0.7" height="0.7"/><rect x="154.9" y="247.8" width="0.7" height="0.7"/><rect x="160.3" y="247.4" width="0.7" height="0.7"/><rect x="159.5" y="243.4" width="0.7" height="0.7"/><rect x="146.9" y="234.9" width="0.7" height="0.7"/><rect x="144.7" y="239.5" width="0.7" height="0.7"/><rect x="146.8" y="240.5" width="0.7" height="0.7"/><rect x="161.6" y="241.9" width="0.7" height="0.7"/><rect x="150.0" y="238.0" width="0.7" height="0.7"/><rect x="147.3" y="252.7" width="0.7" height="0.7"/><rect x="158.4" y="242.7" width="0.7" height="0.7"/><rect x="142.7" y="229.8" width="0.7" height="0.7"/><rect x="143.3" y="247.4" width="0.7" height="0.7"/><rect x="142.4" y="237.7" width="0.7" height="0.7"/><rect x="144.0" y="232.3" width="0.7" height="0.7"/><rect x="136.6" y="236.3" width="0.7" height="0.7"/><rect x="151.2" y="231.5" width="0.7" height="0.7"/><rect x="138.2" y="231.7" width="0.7" height="0.7"/><rect x="150.8" y="227.9" width="0.7" height="0.7"/><rect x="153.9" y="240.7" width="0.7" height="0.7"/><rect x="144.1" y="229.2" width="0.7" height="0.7"/><rect x="136.2" y="237.1" width="0.7" height="0.7"/><rect x="156.8" y="241.8" width="0.7" height="0.7"/><rect x="143.4" y="226.1" width="0.7" height="0.7"/><rect x="149.1" y="231.5" width="0.7" height="0.7"/><rect x="152.7" y="233.7" width="0.7" height="0.7"/><rect x="156.4" y="252.9" width="0.7" height="0.7"/><rect x="147.4" y="231.0" width="0.7" height="0.7"/><rect x="133.2" y="229.5" width="0.7" height="0.7"/><rect x="153.2" y="233.4" width="0.7" height="0.7"/><rect x="157.6" y="238.3" width="0.7" height="0.7"/><rect x="143.8" y="242.4" width="0.7" height="0.7"/><rect x="153.7" y="224.4" width="0.7" height="0.7"/><rect x="146.7" y="226.7" width="0.7" height="0.7"/><rect x="149.6" y="240.5" width="0.7" height="0.7"/><rect x="148.2" y="239.4" width="0.7" height="0.7"/><rect x="156.3" y="240.4" width="0.7" height="0.7"/><rect x="143.3" y="227.2" width="0.7" height="0.7"/><rect x="149.9" y="242.3" width="0.7" height="0.7"/><rect x="146.1" y="232.1" width="0.7" height="0.7"/><rect x="156.7" y="239.1" width="0.7" height="0.7"/><rect x="152.0" y="241.5" width="0.7" height="0.7"/><rect x="157.9" y="245.9" width="0.7" height="0.7"/><rect x="150.6" y="237.1" width="0.7" height="0.7"/><rect x="147.7" y="246.3" width="0.7" height="0.7"/><rect x="163.7" y="234.5" width="0.7" height="0.7"/><rect x="157.1" y="235.3" width="0.7" height="0.7"/><rect x="147.2" y="235.1" width="0.7" height="0.7"/><rect x="148.2" y="235.1" width="0.7" height="0.7"/><rect x="147.3" y="252.4" width="0.7" height="0.7"/><rect x="142.2" y="229.2" width="0.7" height="0.7"/><rect x="146.3" y="238.6" width="0.7" height="0.7"/><rect x="143.2" y="235.1" width="0.7" height="0.7"/><rect x="158.8" y="218.8" width="0.7" height="0.7"/><rect x="163.0" y="212.8" width="0.7" height="0.7"/><rect x="158.7" y="218.5" width="0.7" height="0.7"/><rect x="157.0" y="210.9" width="0.7" height="0.7"/><rect x="152.9" y="211.9" width="0.7" height="0.7"/><rect x="164.9" y="210.0" width="0.7" height="0.7"/><rect x="153.3" y="212.9" width="0.7" height="0.7"/><rect x="150.5" y="214.9" width="0.7" height="0.7"/><rect x="154.7" y="214.4" width="0.7" height="0.7"/><rect x="162.0" y="217.4" width="0.7" height="0.7"/><rect x="171.7" y="210.4" width="0.7" height="0.7"/><rect x="147.4" y="209.5" width="0.7" height="0.7"/><rect x="161.7" y="214.5" width="0.7" height="0.7"/><rect x="157.9" y="212.8" width="0.7" height="0.7"/><rect x="170.0" y="215.6" width="0.7" height="0.7"/><rect x="159.7" y="214.8" width="0.7" height="0.7"/><rect x="145.9" y="216.5" width="0.7" height="0.7"/><rect x="174.4" y="213.4" width="0.7" height="0.7"/><rect x="154.5" y="216.7" width="0.7" height="0.7"/><rect x="154.0" y="213.3" width="0.7" height="0.7"/><rect x="162.8" y="212.5" width="0.7" height="0.7"/><rect x="163.6" y="207.2" width="0.7" height="0.7"/><rect x="138.5" y="215.2" width="0.7" height="0.7"/><rect x="162.2" y="213.7" width="0.7" height="0.7"/><rect x="154.9" y="213.1" width="0.7" height="0.7"/><rect x="161.5" y="209.6" width="0.7" height="0.7"/><rect x="160.0" y="210.7" width="0.7" height="0.7"/><rect x="174.6" y="214.1" width="0.7" height="0.7"/><rect x="160.1" y="216.0" width="0.7" height="0.7"/><rect x="165.5" y="215.8" width="0.7" height="0.7"/><rect x="152.8" y="213.4" width="0.7" height="0.7"/><rect x="165.0" y="213.7" width="0.7" height="0.7"/><rect x="159.0" y="211.3" width="0.7" height="0.7"/><rect x="159.5" y="217.1" width="0.7" height="0.7"/><rect x="148.4" y="208.9" width="0.7" height="0.7"/><rect x="148.5" y="208.4" width="0.7" height="0.7"/><rect x="168.1" y="218.6" width="0.7" height="0.7"/><rect x="162.0" y="213.3" width="0.7" height="0.7"/><rect x="169.0" y="216.1" width="0.7" height="0.7"/><rect x="140.0" y="212.8" width="0.7" height="0.7"/><rect x="177.5" y="211.8" width="0.7" height="0.7"/><rect x="152.4" y="211.2" width="0.7" height="0.7"/><rect x="170.5" y="211.7" width="0.7" height="0.7"/><rect x="161.4" y="216.6" width="0.7" height="0.7"/><rect x="159.5" y="213.1" width="0.7" height="0.7"/><rect x="149.8" y="209.3" width="0.7" height="0.7"/><rect x="166.6" y="209.2" width="0.7" height="0.7"/><rect x="166.5" y="216.7" width="0.7" height="0.7"/><rect x="169.9" y="212.5" width="0.7" height="0.7"/><rect x="151.4" y="213.3" width="0.7" height="0.7"/><rect x="168.3" y="214.6" width="0.7" height="0.7"/><rect x="161.8" y="212.6" width="0.7" height="0.7"/><rect x="165.4" y="207.2" width="0.7" height="0.7"/><rect x="148.7" y="217.6" width="0.7" height="0.7"/><rect x="161.8" y="215.1" width="0.7" height="0.7"/><rect x="143.0" y="210.5" width="0.7" height="0.7"/><rect x="154.6" y="212.7" width="0.7" height="0.7"/><rect x="167.4" y="211.3" width="0.7" height="0.7"/><rect x="159.0" y="210.9" width="0.7" height="0.7"/><rect x="156.2" y="214.1" width="0.7" height="0.7"/><rect x="161.3" y="216.0" width="0.7" height="0.7"/><rect x="148.1" y="215.3" width="0.7" height="0.7"/><rect x="161.6" y="210.7" width="0.7" height="0.7"/><rect x="168.4" y="211.0" width="0.7" height="0.7"/><rect x="155.1" y="214.6" width="0.7" height="0.7"/><rect x="169.3" y="211.8" width="0.7" height="0.7"/><rect x="169.7" y="214.2" width="0.7" height="0.7"/><rect x="152.0" y="215.2" width="0.7" height="0.7"/><rect x="158.6" y="210.9" width="0.7" height="0.7"/><rect x="156.9" y="216.7" width="0.7" height="0.7"/><rect x="160.8" y="212.3" width="0.7" height="0.7"/><rect x="164.4" y="208.9" width="0.7" height="0.7"/><rect x="163.2" y="217.0" width="0.7" height="0.7"/><rect x="148.9" y="209.7" width="0.7" height="0.7"/><rect x="151.2" y="212.4" width="0.7" height="0.7"/><rect x="152.1" y="213.0" width="0.7" height="0.7"/><rect x="150.2" y="213.8" width="0.7" height="0.7"/><rect x="162.6" y="214.4" width="0.7" height="0.7"/><rect x="153.5" y="215.5" width="0.7" height="0.7"/><rect x="145.8" y="211.1" width="0.7" height="0.7"/><rect x="157.4" y="216.8" width="0.7" height="0.7"/><rect x="155.0" y="214.8" width="0.7" height="0.7"/><rect x="170.9" y="218.9" width="0.7" height="0.7"/><rect x="171.7" y="210.7" width="0.7" height="0.7"/><rect x="160.2" y="214.5" width="0.7" height="0.7"/><rect x="163.4" y="214.5" width="0.7" height="0.7"/><rect x="157.1" y="213.2" width="0.7" height="0.7"/><rect x="147.2" y="215.2" width="0.7" height="0.7"/><rect x="160.6" y="211.3" width="0.7" height="0.7"/><rect x="172.2" y="213.1" width="0.7" height="0.7"/><rect x="152.9" y="214.8" width="0.7" height="0.7"/><rect x="161.6" y="215.0" width="0.7" height="0.7"/><rect x="157.4" y="215.3" width="0.7" height="0.7"/><rect x="159.0" y="216.6" width="0.7" height="0.7"/><rect x="160.7" y="210.6" width="0.7" height="0.7"/><rect x="150.0" y="214.7" width="0.7" height="0.7"/><rect x="165.5" y="208.7" width="0.7" height="0.7"/><rect x="162.9" y="212.8" width="0.7" height="0.7"/><rect x="160.3" y="210.6" width="0.7" height="0.7"/><rect x="149.3" y="211.3" width="0.7" height="0.7"/><rect x="151.7" y="211.8" width="0.7" height="0.7"/><rect x="158.9" y="213.2" width="0.7" height="0.7"/><rect x="173.0" y="210.2" width="0.7" height="0.7"/><rect x="154.6" y="213.3" width="0.7" height="0.7"/><rect x="163.0" y="210.0" width="0.7" height="0.7"/><rect x="146.8" y="213.8" width="0.7" height="0.7"/><rect x="161.1" y="214.8" width="0.7" height="0.7"/><rect x="163.2" y="208.5" width="0.7" height="0.7"/><rect x="166.5" y="212.7" width="0.7" height="0.7"/><rect x="174.5" y="211.9" width="0.7" height="0.7"/><rect x="141.1" y="212.7" width="0.7" height="0.7"/><rect x="159.6" y="214.0" width="0.7" height="0.7"/><rect x="159.7" y="211.5" width="0.7" height="0.7"/><rect x="145.0" y="212.5" width="0.7" height="0.7"/><rect x="155.6" y="211.1" width="0.7" height="0.7"/><rect x="158.5" y="212.1" width="0.7" height="0.7"/><rect x="142.2" y="210.6" width="0.7" height="0.7"/><rect x="151.5" y="212.3" width="0.7" height="0.7"/><rect x="170.9" y="212.9" width="0.7" height="0.7"/><rect x="162.4" y="206.8" width="0.7" height="0.7"/><rect x="167.6" y="211.4" width="0.7" height="0.7"/><rect x="162.3" y="209.8" width="0.7" height="0.7"/><rect x="157.8" y="215.4" width="0.7" height="0.7"/><rect x="157.9" y="213.7" width="0.7" height="0.7"/><rect x="152.1" y="210.9" width="0.7" height="0.7"/><rect x="160.2" y="212.5" width="0.7" height="0.7"/><rect x="159.1" y="211.1" width="0.7" height="0.7"/><rect x="155.0" y="215.2" width="0.7" height="0.7"/><rect x="169.1" y="211.9" width="0.7" height="0.7"/><rect x="153.0" y="213.4" width="0.7" height="0.7"/><rect x="165.3" y="213.8" width="0.7" height="0.7"/><rect x="166.6" y="212.5" width="0.7" height="0.7"/><rect x="150.6" y="207.5" width="0.7" height="0.7"/><rect x="164.7" y="213.8" width="0.7" height="0.7"/><rect x="153.0" y="214.1" width="0.7" height="0.7"/><rect x="149.0" y="216.0" width="0.7" height="0.7"/><rect x="166.2" y="216.5" width="0.7" height="0.7"/><rect x="154.6" y="217.2" width="0.7" height="0.7"/><rect x="164.5" y="217.7" width="0.7" height="0.7"/><rect x="144.8" y="215.8" width="0.7" height="0.7"/><rect x="168.3" y="212.2" width="0.7" height="0.7"/><rect x="165.6" y="213.4" width="0.7" height="0.7"/><rect x="169.5" y="212.3" width="0.7" height="0.7"/><rect x="158.5" y="209.6" width="0.7" height="0.7"/><rect x="174.2" y="210.6" width="0.7" height="0.7"/><rect x="149.9" y="210.4" width="0.7" height="0.7"/><rect x="158.8" y="213.2" width="0.7" height="0.7"/><rect x="161.5" y="217.6" width="0.7" height="0.7"/><rect x="165.9" y="208.8" width="0.7" height="0.7"/><rect x="159.5" y="212.5" width="0.7" height="0.7"/><rect x="164.0" y="213.4" width="0.7" height="0.7"/><rect x="168.6" y="213.5" width="0.7" height="0.7"/><rect x="173.5" y="210.3" width="0.7" height="0.7"/><rect x="167.3" y="215.7" width="0.7" height="0.7"/><rect x="152.4" y="209.1" width="0.7" height="0.7"/><rect x="153.0" y="214.2" width="0.7" height="0.7"/><rect x="171.1" y="208.7" width="0.7" height="0.7"/><rect x="155.9" y="209.3" width="0.7" height="0.7"/><rect x="164.3" y="213.5" width="0.7" height="0.7"/><rect x="158.4" y="215.2" width="0.7" height="0.7"/><rect x="160.5" y="217.4" width="0.7" height="0.7"/><rect x="155.9" y="211.3" width="0.7" height="0.7"/><rect x="158.2" y="212.9" width="0.7" height="0.7"/><rect x="168.2" y="211.9" width="0.7" height="0.7"/><rect x="154.0" y="211.1" width="0.7" height="0.7"/><rect x="152.1" y="207.3" width="0.7" height="0.7"/><rect x="159.2" y="214.5" width="0.7" height="0.7"/><rect x="159.4" y="210.8" width="0.7" height="0.7"/><rect x="165.3" y="215.1" width="0.7" height="0.7"/><rect x="160.1" y="214.9" width="0.7" height="0.7"/><rect x="157.3" y="214.2" width="0.7" height="0.7"/><rect x="162.3" y="209.5" width="0.7" height="0.7"/><rect x="154.2" y="211.0" width="0.7" height="0.7"/><rect x="161.2" y="205.5" width="0.7" height="0.7"/><rect x="160.4" y="213.0" width="0.7" height="0.7"/><rect x="156.7" y="214.2" width="0.7" height="0.7"/><rect x="146.4" y="213.7" width="0.7" height="0.7"/><rect x="152.2" y="211.2" width="0.7" height="0.7"/><rect x="168.9" y="212.0" width="0.7" height="0.7"/><rect x="166.4" y="212.9" width="0.7" height="0.7"/><rect x="155.8" y="211.9" width="0.7" height="0.7"/><rect x="146.8" y="212.0" width="0.7" height="0.7"/><rect x="159.2" y="217.2" width="0.7" height="0.7"/><rect x="164.0" y="215.5" width="0.7" height="0.7"/><rect x="150.8" y="210.9" width="0.7" height="0.7"/><rect x="161.0" y="214.6" width="0.7" height="0.7"/><rect x="149.8" y="216.1" width="0.7" height="0.7"/><rect x="153.1" y="213.8" width="0.7" height="0.7"/><rect x="154.4" y="215.2" width="0.7" height="0.7"/><rect x="164.9" y="216.0" width="0.7" height="0.7"/><rect x="151.0" y="213.5" width="0.7" height="0.7"/><rect x="175.7" y="213.1" width="0.7" height="0.7"/><rect x="161.8" y="213.4" width="0.7" height="0.7"/><rect x="154.2" y="218.1" width="0.7" height="0.7"/><rect x="170.4" y="211.0" width="0.7" height="0.7"/><rect x="162.1" y="218.5" width="0.7" height="0.7"/><rect x="161.8" y="213.3" width="0.7" height="0.7"/><rect x="165.9" y="215.5" width="0.7" height="0.7"/><rect x="148.7" y="210.7" width="0.7" height="0.7"/><rect x="170.7" y="211.4" width="0.7" height="0.7"/><rect x="157.8" y="211.2" width="0.7" height="0.7"/><rect x="173.2" y="209.4" width="0.7" height="0.7"/><rect x="159.6" y="211.9" width="0.7" height="0.7"/><rect x="155.8" y="209.5" width="0.7" height="0.7"/><rect x="151.9" y="212.5" width="0.7" height="0.7"/><rect x="160.1" y="207.6" width="0.7" height="0.7"/><rect x="158.8" y="210.5" width="0.7" height="0.7"/><rect x="157.7" y="211.7" width="0.7" height="0.7"/><rect x="157.2" y="212.3" width="0.7" height="0.7"/><rect x="161.8" y="213.1" width="0.7" height="0.7"/><rect x="144.8" y="205.9" width="0.7" height="0.7"/><rect x="146.7" y="213.9" width="0.7" height="0.7"/><rect x="144.8" y="210.0" width="0.7" height="0.7"/><rect x="172.5" y="212.0" width="0.7" height="0.7"/><rect x="156.5" y="214.0" width="0.7" height="0.7"/><rect x="163.1" y="211.5" width="0.7" height="0.7"/><rect x="158.9" y="207.0" width="0.7" height="0.7"/><rect x="160.6" y="214.7" width="0.7" height="0.7"/><rect x="144.4" y="215.7" width="0.7" height="0.7"/><rect x="173.0" y="205.4" width="0.7" height="0.7"/><rect x="152.6" y="243.4" width="0.7" height="0.7"/><rect x="163.1" y="217.4" width="0.7" height="0.7"/><rect x="147.7" y="218.2" width="0.7" height="0.7"/><rect x="163.1" y="215.3" width="0.7" height="0.7"/><rect x="137.5" y="222.7" width="0.7" height="0.7"/><rect x="145.8" y="245.6" width="0.7" height="0.7"/><rect x="142.7" y="225.8" width="0.7" height="0.7"/><rect x="152.3" y="204.3" width="0.7" height="0.7"/><rect x="148.9" y="196.5" width="0.7" height="0.7"/><rect x="159.5" y="213.0" width="0.7" height="0.7"/><rect x="140.2" y="200.0" width="0.7" height="0.7"/><rect x="171.5" y="235.8" width="0.7" height="0.7"/><rect x="143.0" y="219.8" width="0.7" height="0.7"/><rect x="162.3" y="234.4" width="0.7" height="0.7"/><rect x="155.0" y="196.5" width="0.7" height="0.7"/><rect x="175.0" y="227.7" width="0.7" height="0.7"/><rect x="171.4" y="211.3" width="0.7" height="0.7"/><rect x="164.4" y="245.3" width="0.7" height="0.7"/><rect x="168.6" y="211.4" width="0.7" height="0.7"/><rect x="151.9" y="245.3" width="0.7" height="0.7"/><rect x="145.2" y="232.0" width="0.7" height="0.7"/><rect x="152.8" y="204.0" width="0.7" height="0.7"/><rect x="166.3" y="242.4" width="0.7" height="0.7"/><rect x="162.6" y="230.2" width="0.7" height="0.7"/><rect x="167.0" y="200.8" width="0.7" height="0.7"/><rect x="154.5" y="248.2" width="0.7" height="0.7"/><rect x="160.8" y="241.0" width="0.7" height="0.7"/><rect x="152.1" y="229.0" width="0.7" height="0.7"/><rect x="141.1" y="228.8" width="0.7" height="0.7"/><rect x="158.3" y="220.6" width="0.7" height="0.7"/><rect x="154.7" y="226.1" width="0.7" height="0.7"/><rect x="157.4" y="236.0" width="0.7" height="0.7"/><rect x="167.1" y="198.5" width="0.7" height="0.7"/><rect x="158.0" y="241.1" width="0.7" height="0.7"/><rect x="141.2" y="219.4" width="0.7" height="0.7"/><rect x="183.4" y="223.1" width="0.7" height="0.7"/><rect x="166.9" y="231.2" width="0.7" height="0.7"/><rect x="137.9" y="217.5" width="0.7" height="0.7"/><rect x="133.2" y="215.1" width="0.7" height="0.7"/><rect x="165.9" y="236.4" width="0.7" height="0.7"/><rect x="158.6" y="218.5" width="0.7" height="0.7"/><rect x="162.7" y="243.6" width="0.7" height="0.7"/><rect x="164.2" y="240.8" width="0.7" height="0.7"/><rect x="160.5" y="232.5" width="0.7" height="0.7"/><rect x="144.4" y="243.2" width="0.7" height="0.7"/><rect x="142.4" y="210.0" width="0.7" height="0.7"/><rect x="146.6" y="213.1" width="0.7" height="0.7"/><rect x="171.0" y="226.0" width="0.7" height="0.7"/><rect x="151.9" y="220.6" width="0.7" height="0.7"/><rect x="155.0" y="243.2" width="0.7" height="0.7"/><rect x="173.0" y="223.3" width="0.7" height="0.7"/><rect x="175.5" y="238.1" width="0.7" height="0.7"/><rect x="158.8" y="243.8" width="0.7" height="0.7"/><rect x="156.5" y="229.9" width="0.7" height="0.7"/><rect x="157.0" y="209.8" width="0.7" height="0.7"/><rect x="140.2" y="208.4" width="0.7" height="0.7"/><rect x="144.6" y="214.7" width="0.7" height="0.7"/><rect x="148.6" y="238.7" width="0.7" height="0.7"/><rect x="155.2" y="235.8" width="0.7" height="0.7"/><rect x="159.1" y="214.3" width="0.7" height="0.7"/><rect x="151.7" y="203.9" width="0.7" height="0.7"/><rect x="134.4" y="225.4" width="0.7" height="0.7"/><rect x="154.5" y="225.9" width="0.7" height="0.7"/><rect x="166.6" y="209.1" width="0.7" height="0.7"/><rect x="153.0" y="193.8" width="0.7" height="0.7"/><rect x="144.4" y="230.4" width="0.7" height="0.7"/><rect x="136.5" y="202.6" width="0.7" height="0.7"/><rect x="151.1" y="246.8" width="0.7" height="0.7"/><rect x="163.9" y="224.3" width="0.7" height="0.7"/><rect x="162.1" y="227.5" width="0.7" height="0.7"/><rect x="149.9" y="216.2" width="0.7" height="0.7"/><rect x="160.0" y="224.2" width="0.7" height="0.7"/><rect x="163.9" y="219.2" width="0.7" height="0.7"/><rect x="164.6" y="221.2" width="0.7" height="0.7"/><rect x="168.8" y="241.4" width="0.7" height="0.7"/><rect x="159.1" y="216.5" width="0.7" height="0.7"/><rect x="139.9" y="222.5" width="0.7" height="0.7"/><rect x="156.3" y="214.7" width="0.7" height="0.7"/><rect x="141.7" y="215.2" width="0.7" height="0.7"/><rect x="142.0" y="212.8" width="0.7" height="0.7"/><rect x="144.2" y="228.1" width="0.7" height="0.7"/><rect x="149.4" y="222.8" width="0.7" height="0.7"/><rect x="138.9" y="235.7" width="0.7" height="0.7"/><rect x="153.0" y="219.4" width="0.7" height="0.7"/><rect x="143.7" y="230.2" width="0.7" height="0.7"/><rect x="160.3" y="217.3" width="0.7" height="0.7"/><rect x="174.0" y="216.8" width="0.7" height="0.7"/><rect x="169.0" y="230.2" width="0.7" height="0.7"/><rect x="138.4" y="217.2" width="0.7" height="0.7"/><rect x="161.1" y="220.5" width="0.7" height="0.7"/><rect x="155.8" y="223.6" width="0.7" height="0.7"/><rect x="159.7" y="216.8" width="0.7" height="0.7"/><rect x="176.7" y="234.2" width="0.7" height="0.7"/><rect x="172.3" y="225.4" width="0.7" height="0.7"/><rect x="157.1" y="211.9" width="0.7" height="0.7"/><rect x="155.2" y="245.3" width="0.7" height="0.7"/><rect x="158.4" y="215.7" width="0.7" height="0.7"/><rect x="148.2" y="231.1" width="0.7" height="0.7"/><rect x="152.8" y="251.9" width="0.7" height="0.7"/><rect x="157.5" y="225.7" width="0.7" height="0.7"/><rect x="163.5" y="249.0" width="0.7" height="0.7"/><rect x="136.7" y="210.9" width="0.7" height="0.7"/><rect x="146.6" y="196.0" width="0.7" height="0.7"/><rect x="152.8" y="223.0" width="0.7" height="0.7"/><rect x="164.9" y="235.8" width="0.7" height="0.7"/><rect x="162.6" y="234.8" width="0.7" height="0.7"/><rect x="172.5" y="224.6" width="0.7" height="0.7"/><rect x="144.1" y="229.2" width="0.7" height="0.7"/><rect x="166.9" y="234.2" width="0.7" height="0.7"/><rect x="164.2" y="240.4" width="0.7" height="0.7"/><rect x="159.9" y="213.5" width="0.7" height="0.7"/><rect x="149.0" y="199.4" width="0.7" height="0.7"/><rect x="165.9" y="220.2" width="0.7" height="0.7"/><rect x="145.4" y="222.8" width="0.7" height="0.7"/><rect x="145.3" y="197.7" width="0.7" height="0.7"/><rect x="166.6" y="226.3" width="0.7" height="0.7"/><rect x="154.1" y="235.2" width="0.7" height="0.7"/><rect x="152.5" y="233.6" width="0.7" height="0.7"/><rect x="169.9" y="219.1" width="0.7" height="0.7"/><rect x="160.1" y="228.1" width="0.7" height="0.7"/><rect x="143.1" y="243.0" width="0.7" height="0.7"/><rect x="156.2" y="234.2" width="0.7" height="0.7"/><rect x="159.4" y="224.1" width="0.7" height="0.7"/><rect x="140.3" y="221.5" width="0.7" height="0.7"/><rect x="144.5" y="242.2" width="0.7" height="0.7"/><rect x="160.3" y="218.4" width="0.7" height="0.7"/><rect x="150.6" y="239.0" width="0.7" height="0.7"/><rect x="138.2" y="223.5" width="0.7" height="0.7"/><rect x="156.7" y="213.0" width="0.7" height="0.7"/><rect x="167.3" y="222.4" width="0.7" height="0.7"/><rect x="167.4" y="230.4" width="0.7" height="0.7"/><rect x="147.5" y="221.6" width="0.7" height="0.7"/><rect x="166.8" y="215.1" width="0.7" height="0.7"/><rect x="145.3" y="221.3" width="0.7" height="0.7"/><rect x="161.5" y="234.7" width="0.7" height="0.7"/><rect x="143.5" y="206.2" width="0.7" height="0.7"/><rect x="153.8" y="221.5" width="0.7" height="0.7"/><rect x="158.2" y="204.9" width="0.7" height="0.7"/><rect x="148.9" y="208.4" width="0.7" height="0.7"/><rect x="173.6" y="201.4" width="0.7" height="0.7"/><rect x="143.9" y="215.1" width="0.7" height="0.7"/><rect x="134.2" y="213.8" width="0.7" height="0.7"/><rect x="145.8" y="201.6" width="0.7" height="0.7"/><rect x="149.1" y="241.0" width="0.7" height="0.7"/><rect x="156.4" y="243.3" width="0.7" height="0.7"/></g>
<ellipse cx="165.8" cy="211.0" rx="8.5" ry="5.5" fill="#3040ff" opacity="0.8" filter="url(#blur1)"/>
<ellipse cx="167.6" cy="210.6" rx="4.800000000000001" ry="2.9" fill="#14cde6" opacity="1" filter="url(#blur05)"/>
<ellipse cx="168.6" cy="210.4" rx="2.6" ry="1.8" fill="#50e030" opacity="1" filter="url(#blur05)"/>
<line x1="165.50" y1="191.10" x2="165.50" y2="254.10" stroke="#808080" stroke-width="1.3" />
<line x1="126.90" y1="219.80" x2="188.50" y2="219.80" stroke="#808080" stroke-width="1.3" />
<text x="128.20" y="197.70" font-size="5.8" fill="#3a3a3a" stroke="#3a3a3a" stroke-width="0.03" textLength="19.00" lengthAdjust="spacingAndGlyphs" >20.1%</text>
<text x="187.70" y="197.70" font-size="5.8" text-anchor="end" fill="#3a3a3a" stroke="#3a3a3a" stroke-width="0.03" textLength="19.40" lengthAdjust="spacingAndGlyphs" >38.1%</text>
<text x="128.20" y="252.70" font-size="5.8" fill="#3a3a3a" stroke="#3a3a3a" stroke-width="0.03" textLength="19.00" lengthAdjust="spacingAndGlyphs" >22.5%</text>
<text x="187.70" y="252.70" font-size="5.8" text-anchor="end" fill="#3a3a3a" stroke="#3a3a3a" stroke-width="0.03" textLength="19.40" lengthAdjust="spacingAndGlyphs" >19.4%</text>
<defs><linearGradient id="cg2" x1="0" x2="1"><stop offset="0" stop-color="#5a6ad0"/><stop offset="0.35" stop-color="#40a0c0"/><stop offset="0.55" stop-color="#70b850"/><stop offset="0.7" stop-color="#d06040"/><stop offset="0.85" stop-color="#a0a0d0"/><stop offset="1" stop-color="#c0c0e0"/></linearGradient></defs>
<rect x="127.40" y="253.20" width="60.60" height="1.40" fill="url(#cg2)" opacity="0.85"/>
<text x="128.00" y="266.50" font-size="8.3" stroke="#222" stroke-width="0.06" textLength="8.70" lengthAdjust="spacingAndGlyphs" >10</text>
<text x="137.20" y="263.20" font-size="5" stroke="#222" stroke-width="0.04" textLength="2.40" lengthAdjust="spacingAndGlyphs" >1</text>
<text x="141.00" y="266.50" font-size="8.3" stroke="#222" stroke-width="0.06" textLength="8.70" lengthAdjust="spacingAndGlyphs" >10</text>
<text x="150.20" y="263.20" font-size="5" stroke="#222" stroke-width="0.04" textLength="2.40" lengthAdjust="spacingAndGlyphs" >2</text>
<text x="154.00" y="266.50" font-size="8.3" stroke="#222" stroke-width="0.06" textLength="8.70" lengthAdjust="spacingAndGlyphs" >10</text>
<text x="163.20" y="263.20" font-size="5" stroke="#222" stroke-width="0.04" textLength="2.40" lengthAdjust="spacingAndGlyphs" >3</text>
<text x="167.00" y="266.50" font-size="8.3" stroke="#222" stroke-width="0.06" textLength="8.70" lengthAdjust="spacingAndGlyphs" >10</text>
<text x="176.20" y="263.20" font-size="5" stroke="#222" stroke-width="0.04" textLength="2.40" lengthAdjust="spacingAndGlyphs" >4</text>
<text x="180.00" y="266.50" font-size="8.3" stroke="#222" stroke-width="0.06" textLength="8.70" lengthAdjust="spacingAndGlyphs" >10</text>
<text x="189.20" y="263.20" font-size="5" stroke="#222" stroke-width="0.04" textLength="2.40" lengthAdjust="spacingAndGlyphs" >5</text>
<text x="33.10" y="200.40" font-size="7.6" stroke="#222" stroke-width="0.18" textLength="8.40" lengthAdjust="spacingAndGlyphs" >10</text>
<text x="41.60" y="196.80" font-size="4.8" stroke="#222" stroke-width="0.18" textLength="2.90" lengthAdjust="spacingAndGlyphs" >5</text>
<text x="33.10" y="213.10" font-size="7.6" stroke="#222" stroke-width="0.18" textLength="8.40" lengthAdjust="spacingAndGlyphs" >10</text>
<text x="41.60" y="209.50" font-size="4.8" stroke="#222" stroke-width="0.18" textLength="2.90" lengthAdjust="spacingAndGlyphs" >4</text>
<text x="33.10" y="225.80" font-size="7.6" stroke="#222" stroke-width="0.18" textLength="8.40" lengthAdjust="spacingAndGlyphs" >10</text>
<text x="41.60" y="222.20" font-size="4.8" stroke="#222" stroke-width="0.18" textLength="2.90" lengthAdjust="spacingAndGlyphs" >3</text>
<text x="33.10" y="238.50" font-size="7.6" stroke="#222" stroke-width="0.18" textLength="8.40" lengthAdjust="spacingAndGlyphs" >10</text>
<text x="41.60" y="234.90" font-size="4.8" stroke="#222" stroke-width="0.18" textLength="2.90" lengthAdjust="spacingAndGlyphs" >2</text>
<text x="33.10" y="251.20" font-size="7.6" stroke="#222" stroke-width="0.18" textLength="8.40" lengthAdjust="spacingAndGlyphs" >10</text>
<text x="41.60" y="247.60" font-size="4.8" stroke="#222" stroke-width="0.18" textLength="2.90" lengthAdjust="spacingAndGlyphs" >1</text>
<text x="66.00" y="184.90" font-size="9.6" stroke="#222" stroke-width="0.18" textLength="20.20" lengthAdjust="spacingAndGlyphs" >Atg7</text>
<text x="86.40" y="181.00" font-size="5.6" stroke="#222" stroke-width="0.09" textLength="9.60" lengthAdjust="spacingAndGlyphs" >fl/fl</text>
<text x="122.60" y="184.60" font-size="9.6" stroke="#222" stroke-width="0.18" textLength="20.00" lengthAdjust="spacingAndGlyphs" >Atg7</text>
<text x="142.80" y="180.70" font-size="5.6" stroke="#222" stroke-width="0.09" textLength="10.00" lengthAdjust="spacingAndGlyphs" >fl/fl</text>
<text x="153.00" y="184.60" font-size="9.6" stroke="#222" stroke-width="0.18" textLength="39.00" lengthAdjust="spacingAndGlyphs" >; Vav-Cre</text>
<path d="M24.7 233 V274.2 H152.5" fill="none" stroke="#333" stroke-width="1.3"/>
<path d="M24.7 227.2 L28.3 234.6 L24.7 233.4 L21.1 234.6 Z" fill="#111"/>
<path d="M159.9 274.2 L151.6 270.8 L152.9 274.2 L151.6 277.6 Z" fill="#111"/>
<text x="28.00" y="214.90" font-size="10.6" text-anchor="middle" stroke="#222" stroke-width="0.55" textLength="15.60" lengthAdjust="spacingAndGlyphs" transform="rotate(-90 28.00 214.90)" >CD71</text>
<text x="163.60" y="278.30" font-size="10.2" stroke="#222" stroke-width="0.55" textLength="24.40" lengthAdjust="spacingAndGlyphs" >TER-119</text>
<line x1="245.60" y1="174.20" x2="245.60" y2="250.20" stroke="#2a2a2a" stroke-width="1.3" />
<line x1="242.50" y1="249.60" x2="372.50" y2="249.60" stroke="#2a2a2a" stroke-width="1.3" />
<line x1="242.50" y1="249.60" x2="245.60" y2="249.60" stroke="#2a2a2a" stroke-width="1.1" />
<text x="239.50" y="252.55" font-size="8.4" text-anchor="end" stroke="#222" stroke-width="0.18" textLength="4.72" lengthAdjust="spacingAndGlyphs" >0</text>
<line x1="242.50" y1="239.20" x2="245.60" y2="239.20" stroke="#2a2a2a" stroke-width="1.1" />
<text x="239.50" y="242.15" font-size="8.4" text-anchor="end" stroke="#222" stroke-width="0.18" textLength="9.44" lengthAdjust="spacingAndGlyphs" >10</text>
<line x1="242.50" y1="228.80" x2="245.60" y2="228.80" stroke="#2a2a2a" stroke-width="1.1" />
<text x="239.50" y="231.75" font-size="8.4" text-anchor="end" stroke="#222" stroke-width="0.18" textLength="9.44" lengthAdjust="spacingAndGlyphs" >20</text>
<line x1="242.50" y1="218.40" x2="245.60" y2="218.40" stroke="#2a2a2a" stroke-width="1.1" />
<text x="239.50" y="221.35" font-size="8.4" text-anchor="end" stroke="#222" stroke-width="0.18" textLength="9.44" lengthAdjust="spacingAndGlyphs" >30</text>
<line x1="242.50" y1="208.00" x2="245.60" y2="208.00" stroke="#2a2a2a" stroke-width="1.1" />
<text x="239.50" y="210.95" font-size="8.4" text-anchor="end" stroke="#222" stroke-width="0.18" textLength="9.44" lengthAdjust="spacingAndGlyphs" >40</text>
<line x1="242.50" y1="197.60" x2="245.60" y2="197.60" stroke="#2a2a2a" stroke-width="1.1" />
<text x="239.50" y="200.55" font-size="8.4" text-anchor="end" stroke="#222" stroke-width="0.18" textLength="9.44" lengthAdjust="spacingAndGlyphs" >50</text>
<line x1="242.50" y1="187.20" x2="245.60" y2="187.20" stroke="#2a2a2a" stroke-width="1.1" />
<text x="239.50" y="190.15" font-size="8.4" text-anchor="end" stroke="#222" stroke-width="0.18" textLength="9.44" lengthAdjust="spacingAndGlyphs" >60</text>
<line x1="242.50" y1="176.80" x2="245.60" y2="176.80" stroke="#2a2a2a" stroke-width="1.1" />
<text x="239.50" y="179.75" font-size="8.4" text-anchor="end" stroke="#222" stroke-width="0.18" textLength="9.44" lengthAdjust="spacingAndGlyphs" >70</text>
<line x1="276.90" y1="249.60" x2="276.90" y2="252.50" stroke="#2a2a2a" stroke-width="1.1" />
<line x1="308.30" y1="249.60" x2="308.30" y2="252.50" stroke="#2a2a2a" stroke-width="1.1" />
<line x1="339.00" y1="249.60" x2="339.00" y2="252.50" stroke="#2a2a2a" stroke-width="1.1" />
<line x1="370.50" y1="249.60" x2="370.50" y2="252.50" stroke="#2a2a2a" stroke-width="1.1" />
<line x1="256.68" y1="224.64" x2="256.68" y2="222.56" stroke="#333" stroke-width="1.0" />
<line x1="254.38" y1="222.56" x2="258.98" y2="222.56" stroke="#333" stroke-width="1.1" />
<rect x="252.10" y="224.64" width="9.15" height="24.96" fill="#2d4b85" />
<line x1="265.82" y1="215.28" x2="265.82" y2="190.32" stroke="#333" stroke-width="1.0" />
<line x1="263.52" y1="190.32" x2="268.12" y2="190.32" stroke="#333" stroke-width="1.1" />
<rect x="261.25" y="215.28" width="9.15" height="34.32" fill="#a50d2d" />
<line x1="287.77" y1="248.56" x2="287.77" y2="247.94" stroke="#333" stroke-width="1.0" />
<line x1="285.47" y1="247.94" x2="290.07" y2="247.94" stroke="#333" stroke-width="1.1" />
<rect x="283.20" y="248.56" width="9.15" height="1.04" fill="#2d4b85" />
<line x1="296.92" y1="231.92" x2="296.92" y2="227.24" stroke="#333" stroke-width="1.0" />
<line x1="294.62" y1="227.24" x2="299.22" y2="227.24" stroke="#333" stroke-width="1.1" />
<rect x="292.35" y="231.92" width="9.15" height="17.68" fill="#a50d2d" />
<line x1="318.88" y1="210.70" x2="318.88" y2="205.40" stroke="#333" stroke-width="1.0" />
<line x1="316.57" y1="205.40" x2="321.18" y2="205.40" stroke="#333" stroke-width="1.1" />
<rect x="314.30" y="210.70" width="9.15" height="38.90" fill="#2d4b85" />
<line x1="328.02" y1="224.64" x2="328.02" y2="209.46" stroke="#333" stroke-width="1.0" />
<line x1="325.72" y1="209.46" x2="330.32" y2="209.46" stroke="#333" stroke-width="1.1" />
<rect x="323.45" y="224.64" width="9.15" height="24.96" fill="#a50d2d" />
<line x1="349.97" y1="212.16" x2="349.97" y2="205.92" stroke="#333" stroke-width="1.0" />
<line x1="347.67" y1="205.92" x2="352.27" y2="205.92" stroke="#333" stroke-width="1.1" />
<rect x="345.40" y="212.16" width="9.15" height="37.44" fill="#2d4b85" />
<line x1="359.12" y1="225.68" x2="359.12" y2="209.46" stroke="#333" stroke-width="1.0" />
<line x1="356.82" y1="209.46" x2="361.42" y2="209.46" stroke="#333" stroke-width="1.1" />
<rect x="354.55" y="225.68" width="9.15" height="23.92" fill="#a50d2d" />
<text transform="translate(223.40 213.50) rotate(-90)" text-anchor="middle" font-size="9.8" fill="#222" textLength="22.9" lengthAdjust="spacingAndGlyphs" stroke="#222" stroke-width="0.15">% cells</text>
<line x1="285.20" y1="225.20" x2="298.00" y2="225.20" stroke="#444" stroke-width="1.1" />
<text x="291.60" y="225.00" font-size="5.0" text-anchor="middle" fill="#444" stroke="#444" stroke-width="0.18" >*</text>
<rect x="376.70" y="179.10" width="4.40" height="4.20" fill="#2d4b85" />
<text x="384.20" y="183.50" font-size="6.8" fill="#3a3a3a" stroke="#3a3a3a" stroke-width="0.05" textLength="14.20" lengthAdjust="spacingAndGlyphs" >Atg7</text>
<text x="398.60" y="179.90" font-size="4.3" fill="#3a3a3a" stroke="#3a3a3a" stroke-width="0.025" textLength="5.60" lengthAdjust="spacingAndGlyphs" >fl/fl</text>
<rect x="376.70" y="196.90" width="4.40" height="4.20" fill="#a50d2d" />
<text x="384.20" y="197.90" font-size="6.8" fill="#3a3a3a" stroke="#3a3a3a" stroke-width="0.05" textLength="14.20" lengthAdjust="spacingAndGlyphs" >Atg7</text>
<text x="398.60" y="194.30" font-size="4.3" fill="#3a3a3a" stroke="#3a3a3a" stroke-width="0.025" textLength="6.60" lengthAdjust="spacingAndGlyphs" >fl/fl;</text>
<text x="384.20" y="205.80" font-size="6.8" fill="#3a3a3a" stroke="#3a3a3a" stroke-width="0.05" textLength="22.80" lengthAdjust="spacingAndGlyphs" >Vav-Cre</text>
<text x="245.30" y="263.90" font-size="8" text-anchor="end" stroke="#222" stroke-width="0.18" textLength="24.20" lengthAdjust="spacingAndGlyphs" >CD71:</text>
<text x="245.30" y="276.20" font-size="8" text-anchor="end" stroke="#222" stroke-width="0.18" textLength="34.40" lengthAdjust="spacingAndGlyphs" >TER-119:</text>
<text x="262.70" y="262.80" font-size="8" text-anchor="middle" stroke="#222" stroke-width="0.18" textLength="10.10" lengthAdjust="spacingAndGlyphs" >(–)</text>
<text x="262.70" y="275.80" font-size="8" text-anchor="middle" stroke="#222" stroke-width="0.18" textLength="10.10" lengthAdjust="spacingAndGlyphs" >(–)</text>
<text x="291.90" y="262.80" font-size="8" text-anchor="middle" stroke="#222" stroke-width="0.18" textLength="10.10" lengthAdjust="spacingAndGlyphs" >(+)</text>
<text x="291.90" y="275.80" font-size="8" text-anchor="middle" stroke="#222" stroke-width="0.18" textLength="10.10" lengthAdjust="spacingAndGlyphs" >(–)</text>
<text x="324.20" y="262.80" font-size="8" text-anchor="middle" stroke="#222" stroke-width="0.18" textLength="10.10" lengthAdjust="spacingAndGlyphs" >(+)</text>
<text x="324.20" y="275.80" font-size="8" text-anchor="middle" stroke="#222" stroke-width="0.18" textLength="10.10" lengthAdjust="spacingAndGlyphs" >(+)</text>
<text x="355.40" y="262.80" font-size="8" text-anchor="middle" stroke="#222" stroke-width="0.18" textLength="10.10" lengthAdjust="spacingAndGlyphs" >(–)</text>
<text x="355.40" y="275.80" font-size="8" text-anchor="middle" stroke="#222" stroke-width="0.18" textLength="10.10" lengthAdjust="spacingAndGlyphs" >(+)</text>
<text x="56.00" y="311.90" font-size="9.6" stroke="#222" stroke-width="0.18" textLength="20.40" lengthAdjust="spacingAndGlyphs" >Atg7</text>
<text x="76.60" y="308.00" font-size="5.6" stroke="#222" stroke-width="0.09" textLength="9.40" lengthAdjust="spacingAndGlyphs" >fl/fl</text>
<text x="141.50" y="312.40" font-size="9.6" stroke="#222" stroke-width="0.18" textLength="19.70" lengthAdjust="spacingAndGlyphs" >Atg7</text>
<text x="161.40" y="308.50" font-size="5.6" stroke="#222" stroke-width="0.09" textLength="9.50" lengthAdjust="spacingAndGlyphs" >fl/fl</text>
<text x="171.10" y="312.40" font-size="9.6" stroke="#222" stroke-width="0.18" textLength="39.60" lengthAdjust="spacingAndGlyphs" >; Vav-Cre</text>
<g clip-path="url(#clipL)"><g transform="translate(19.2 317.6) scale(0.19731)"><rect x="0" y="0" width="520" height="520" fill="#010108"/><g filter="url(#mb1)"><ellipse cx="19" cy="22" rx="26.8" ry="26.0" fill="rgb(4,4,208)"/><ellipse cx="55" cy="58" rx="26.8" ry="26.0" fill="rgb(4,4,124)"/><ellipse cx="95" cy="98" rx="36.6" ry="35.4" fill="rgb(4,4,187)"/><ellipse cx="34" cy="138" rx="29.3" ry="28.3" fill="rgb(4,4,124)"/><ellipse cx="151" cy="37" rx="32.9" ry="31.9" fill="rgb(4,4,114)"/><ellipse cx="241" cy="27" rx="24.4" ry="23.6" fill="rgb(4,4,145)"/><ellipse cx="221" cy="118" rx="36.6" ry="35.4" fill="rgb(4,4,93)"/><ellipse cx="201" cy="169" rx="26.8" ry="26.0" fill="rgb(4,4,83)"/><ellipse cx="241" cy="209" rx="26.8" ry="26.0" fill="rgb(4,4,208)"/><ellipse cx="85" cy="209" rx="31.7" ry="30.7" fill="rgb(4,4,114)"/><ellipse cx="29" cy="239" rx="24.4" ry="23.6" fill="rgb(4,4,124)"/><ellipse cx="115" cy="194" rx="22.0" ry="21.2" fill="rgb(4,4,104)"/><ellipse cx="166" cy="2" rx="24.4" ry="23.6" fill="rgb(4,4,124)"/><ellipse cx="80" cy="20" rx="24.4" ry="23.6" fill="rgb(4,4,104)"/><ellipse cx="308" cy="78" rx="39.0" ry="37.8" fill="rgb(4,4,156)"/><ellipse cx="384" cy="114" rx="36.6" ry="35.4" fill="rgb(4,4,145)"/><ellipse cx="460" cy="38" rx="36.6" ry="35.4" fill="rgb(4,4,166)"/><ellipse cx="495" cy="98" rx="26.8" ry="26.0" fill="rgb(4,4,145)"/><ellipse cx="333" cy="159" rx="39.0" ry="37.8" fill="rgb(4,4,156)"/><ellipse cx="460" cy="159" rx="42.7" ry="41.3" fill="rgb(4,4,166)"/><ellipse cx="384" cy="235" rx="26.8" ry="26.0" fill="rgb(4,4,145)"/><ellipse cx="480" cy="230" rx="32.9" ry="31.9" fill="rgb(4,4,166)"/><ellipse cx="282" cy="210" rx="26.8" ry="26.0" fill="rgb(4,4,93)"/><ellipse cx="424" cy="88" rx="26.8" ry="26.0" fill="rgb(4,4,93)"/><ellipse cx="500" cy="7" rx="19.5" ry="18.9" fill="rgb(4,4,145)"/><ellipse cx="270" cy="120" rx="24.4" ry="23.6" fill="rgb(4,4,104)"/><ellipse cx="150" cy="135" rx="24.4" ry="23.6" fill="rgb(4,4,93)"/><ellipse cx="50" cy="331" rx="41.5" ry="40.1" fill="rgb(4,4,208)"/><ellipse cx="121" cy="412" rx="51.2" ry="49.6" fill="rgb(4,4,208)"/><ellipse cx="151" cy="483" rx="35.4" ry="34.2" fill="rgb(4,4,197)"/><ellipse cx="207" cy="488" rx="31.7" ry="30.7" fill="rgb(4,4,187)"/><ellipse cx="237" cy="382" rx="35.4" ry="34.2" fill="rgb(4,4,187)"/><ellipse cx="176" cy="275" rx="39.0" ry="37.8" fill="rgb(4,4,104)"/><ellipse cx="100" cy="306" rx="25.6" ry="24.8" fill="rgb(4,4,104)"/><ellipse cx="192" cy="402" rx="25.6" ry="24.8" fill="rgb(4,4,124)"/><ellipse cx="90" cy="478" rx="22.0" ry="21.2" fill="rgb(4,4,145)"/><ellipse cx="29" cy="407" rx="18.3" ry="17.7" fill="rgb(4,4,93)"/><ellipse cx="140" cy="250" rx="24.4" ry="23.6" fill="rgb(4,4,83)"/><ellipse cx="287" cy="321" rx="39.0" ry="37.8" fill="rgb(4,4,156)"/><ellipse cx="450" cy="321" rx="45.1" ry="43.7" fill="rgb(4,4,177)"/><ellipse cx="505" cy="275" rx="25.6" ry="24.8" fill="rgb(4,4,166)"/><ellipse cx="409" cy="397" rx="39.0" ry="37.8" fill="rgb(4,4,177)"/><ellipse cx="490" cy="392" rx="29.3" ry="28.3" fill="rgb(4,4,166)"/><ellipse cx="282" cy="407" rx="25.6" ry="24.8" fill="rgb(4,4,124)"/><ellipse cx="379" cy="488" rx="25.6" ry="24.8" fill="rgb(4,4,177)"/><ellipse cx="480" cy="468" rx="32.9" ry="31.9" fill="rgb(4,4,166)"/><ellipse cx="419" cy="285" rx="23.2" ry="22.4" fill="rgb(4,4,145)"/><ellipse cx="374" cy="275" rx="25.6" ry="24.8" fill="rgb(4,4,156)"/><ellipse cx="333" cy="356" rx="25.6" ry="24.8" fill="rgb(4,4,124)"/><ellipse cx="330" cy="500" rx="24.4" ry="23.6" fill="rgb(4,4,124)"/><ellipse cx="440" cy="505" rx="22.0" ry="21.2" fill="rgb(4,4,124)"/></g><g filter="url(#mb2)"><ellipse cx="15" cy="68" rx="16" ry="22" fill="#d8cc20" opacity="0.55"/><ellipse cx="25" cy="190" rx="28" ry="14" fill="#d8cc20" opacity="0.7"/><ellipse cx="120" cy="150" rx="22" ry="16" fill="#d8cc20" opacity="0.45"/><ellipse cx="215" cy="45" rx="30" ry="28" fill="#d8cc20" opacity="0.35"/><ellipse cx="5" cy="420" rx="10" ry="45" fill="#d8cc20" opacity="0.6"/><ellipse cx="270" cy="480" rx="18" ry="38" fill="#d8cc20" opacity="0.75"/><ellipse cx="340" cy="440" rx="22" ry="40" fill="#d8cc20" opacity="0.55"/><ellipse cx="505" cy="470" rx="15" ry="20" fill="#d8cc20" opacity="0.45"/><ellipse cx="465" cy="385" rx="18" ry="12" fill="#d8cc20" opacity="0.3"/><ellipse cx="45" cy="290" rx="12" ry="10" fill="#d8cc20" opacity="0.6"/><ellipse cx="30" cy="420" rx="14" ry="30" fill="#d8cc20" opacity="0.35"/><ellipse cx="10" cy="120" rx="14" ry="30" fill="#d8cc20" opacity="0.4"/><ellipse cx="60" cy="180" rx="30" ry="14" fill="#d8cc20" opacity="0.45"/><ellipse cx="200" cy="70" rx="30" ry="20" fill="#d8cc20" opacity="0.35"/><ellipse cx="100" cy="420" rx="20" ry="20" fill="#d8cc20" opacity="0.25"/><ellipse cx="20" cy="250" rx="14" ry="20" fill="#d8cc20" opacity="0.3"/><ellipse cx="30" cy="380" rx="30" ry="120" fill="#d8cc20" opacity="0.3"/><ellipse cx="30" cy="150" rx="30" ry="60" fill="#d8cc20" opacity="0.25"/></g><g filter="url(#mb2)"><path d="M166 78 L191 63 L211 47 L221 27 L231 7" fill="none" stroke="#c8c020" stroke-width="22.0" stroke-opacity="0.45" stroke-linecap="round" stroke-linejoin="round"/><path d="M211 47 L241 53 L262 63" fill="none" stroke="#c8c020" stroke-width="22.0" stroke-opacity="0.45" stroke-linecap="round" stroke-linejoin="round"/><path d="M191 63 L211 78 L236 83" fill="none" stroke="#c8c020" stroke-width="22.0" stroke-opacity="0.45" stroke-linecap="round" stroke-linejoin="round"/><path d="M221 27 L201 17 L176 27 L166 42" fill="none" stroke="#c8c020" stroke-width="22.0" stroke-opacity="0.45" stroke-linecap="round" stroke-linejoin="round"/><path d="M130 98 L151 88 L166 78" fill="none" stroke="#c8c020" stroke-width="22.0" stroke-opacity="0.45" stroke-linecap="round" stroke-linejoin="round"/><path d="M50 12 L55 37 L70 53" fill="none" stroke="#c8c020" stroke-width="15.4" stroke-opacity="0.45" stroke-linecap="round" stroke-linejoin="round"/><path d="M100 164 L130 159 L161 164 L166 143 L151 128 L130 113 L125 98" fill="none" stroke="#c8c020" stroke-width="22.0" stroke-opacity="0.45" stroke-linecap="round" stroke-linejoin="round"/><path d="M-1 199 L29 209 L50 189 L70 169 L100 164" fill="none" stroke="#c8c020" stroke-width="33.0" stroke-opacity="0.45" stroke-linecap="round" stroke-linejoin="round"/><path d="M50 209 L60 239 L70 259" fill="none" stroke="#c8c020" stroke-width="22.0" stroke-opacity="0.45" stroke-linecap="round" stroke-linejoin="round"/><path d="M140 179 L161 199 L176 219 L186 239" fill="none" stroke="#c8c020" stroke-width="22.0" stroke-opacity="0.45" stroke-linecap="round" stroke-linejoin="round"/><path d="M100 219 L130 229 L151 249" fill="none" stroke="#c8c020" stroke-width="22.0" stroke-opacity="0.45" stroke-linecap="round" stroke-linejoin="round"/><path d="M262 17 L287 7 L313 12 L323 27 L308 38 L287 32 L267 48" fill="none" stroke="#c8c020" stroke-width="22.0" stroke-opacity="0.45" stroke-linecap="round" stroke-linejoin="round"/><path d="M343 43 L369 38 L384 63 L379 93 L358 93 L348 68 Z" fill="none" stroke="#c8c020" stroke-width="22.0" stroke-opacity="0.45" stroke-linecap="round" stroke-linejoin="round"/><path d="M505 200 L515 230 L512 260" fill="none" stroke="#c8c020" stroke-width="26.4" stroke-opacity="0.45" stroke-linecap="round" stroke-linejoin="round"/><path d="M19 306 L29 285 L60 285 L80 306 L85 341 L65 367 L29 367 L14 341 Z" fill="none" stroke="#c8c020" stroke-width="22.0" stroke-opacity="0.45" stroke-linecap="round" stroke-linejoin="round"/><path d="M4 356 L14 386 L29 407 L34 437 L19 458 L-1 468" fill="none" stroke="#c8c020" stroke-width="33.0" stroke-opacity="0.45" stroke-linecap="round" stroke-linejoin="round"/><path d="M14 386 L45 381 L60 407 L70 448 L65 468" fill="none" stroke="#c8c020" stroke-width="22.0" stroke-opacity="0.45" stroke-linecap="round" stroke-linejoin="round"/><path d="M80 377 L126 372 L161 387 L166 422 L151 453 L116 458 L85 443 L78 407 Z" fill="none" stroke="#c8c020" stroke-width="22.0" stroke-opacity="0.45" stroke-linecap="round" stroke-linejoin="round"/><path d="M122 483 A29 29 0 1 0 180 483 A29 29 0 1 0 122 483 Z" fill="none" stroke="#c8c020" stroke-width="22.0" stroke-opacity="0.45" stroke-linecap="round" stroke-linejoin="round"/><path d="M181 488 A26 26 0 1 0 233 488 A26 26 0 1 0 181 488 Z" fill="none" stroke="#c8c020" stroke-width="22.0" stroke-opacity="0.45" stroke-linecap="round" stroke-linejoin="round"/><path d="M166 331 L192 316 L222 316 L262 306" fill="none" stroke="#c8c020" stroke-width="22.0" stroke-opacity="0.45" stroke-linecap="round" stroke-linejoin="round"/><path d="M222 316 L227 356 L217 372 L242 382 L262 387" fill="none" stroke="#c8c020" stroke-width="22.0" stroke-opacity="0.45" stroke-linecap="round" stroke-linejoin="round"/><path d="M166 422 L202 448 L227 458 L262 453" fill="none" stroke="#c8c020" stroke-width="22.0" stroke-opacity="0.45" stroke-linecap="round" stroke-linejoin="round"/><path d="M323 290 L358 301 L379 331 L379 351 L358 346 L328 331 L318 311 Z" fill="none" stroke="#c8c020" stroke-width="22.0" stroke-opacity="0.45" stroke-linecap="round" stroke-linejoin="round"/><path d="M318 422 L338 397 L363 377 L374 402 L358 422 L348 448 L358 488 L348 493" fill="none" stroke="#c8c020" stroke-width="22.0" stroke-opacity="0.45" stroke-linecap="round" stroke-linejoin="round"/><path d="M267 361 L287 382 L277 407" fill="none" stroke="#c8c020" stroke-width="22.0" stroke-opacity="0.45" stroke-linecap="round" stroke-linejoin="round"/><path d="M399 468 L409 443 L440 417 L465 427 L470 453 L450 478 L409 483 L394 473 Z" fill="none" stroke="#c8c020" stroke-width="22.0" stroke-opacity="0.45" stroke-linecap="round" stroke-linejoin="round"/><path d="M505 270 L521 296" fill="none" stroke="#c8c020" stroke-width="22.0" stroke-opacity="0.45" stroke-linecap="round" stroke-linejoin="round"/><path d="M495 306 L490 336 L500 361 L521 372" fill="none" stroke="#c8c020" stroke-width="22.0" stroke-opacity="0.45" stroke-linecap="round" stroke-linejoin="round"/><path d="M495 458 L510 470 L521 490" fill="none" stroke="#c8c020" stroke-width="22.0" stroke-opacity="0.45" stroke-linecap="round" stroke-linejoin="round"/><path d="M300 440 L320 460 L310 490 L290 510" fill="none" stroke="#c8c020" stroke-width="22.0" stroke-opacity="0.45" stroke-linecap="round" stroke-linejoin="round"/><path d="M0 150 L40 140 L80 160" fill="none" stroke="#c8c020" stroke-width="22.0" stroke-opacity="0.45" stroke-linecap="round" stroke-linejoin="round"/><path d="M40 140 L45 100 L20 80 L0 85" fill="none" stroke="#c8c020" stroke-width="22.0" stroke-opacity="0.45" stroke-linecap="round" stroke-linejoin="round"/><path d="M85 150 L90 200 L75 250 L70 300" fill="none" stroke="#c8c020" stroke-width="22.0" stroke-opacity="0.45" stroke-linecap="round" stroke-linejoin="round"/><path d="M0 250 L40 262 L70 300 L60 340" fill="none" stroke="#c8c020" stroke-width="22.0" stroke-opacity="0.45" stroke-linecap="round" stroke-linejoin="round"/><path d="M60 80 L100 70 L130 95 L140 130" fill="none" stroke="#c8c020" stroke-width="22.0" stroke-opacity="0.45" stroke-linecap="round" stroke-linejoin="round"/></g><g filter="url(#mb0)"><path d="M166 78 L191 63 L211 47 L221 27 L231 7" fill="none" stroke="#dcd23a" stroke-width="6.5" stroke-opacity="1.0" stroke-linecap="round" stroke-linejoin="round"/><path d="M211 47 L241 53 L262 63" fill="none" stroke="#dcd23a" stroke-width="6.5" stroke-opacity="1.0" stroke-linecap="round" stroke-linejoin="round"/><path d="M191 63 L211 78 L236 83" fill="none" stroke="#dcd23a" stroke-width="6.5" stroke-opacity="1.0" stroke-linecap="round" stroke-linejoin="round"/><path d="M221 27 L201 17 L176 27 L166 42" fill="none" stroke="#dcd23a" stroke-width="6.5" stroke-opacity="1.0" stroke-linecap="round" stroke-linejoin="round"/><path d="M130 98 L151 88 L166 78" fill="none" stroke="#dcd23a" stroke-width="6.5" stroke-opacity="1.0" stroke-linecap="round" stroke-linejoin="round"/><path d="M50 12 L55 37 L70 53" fill="none" stroke="#dcd23a" stroke-width="4.5" stroke-opacity="1.0" stroke-linecap="round" stroke-linejoin="round"/><path d="M100 164 L130 159 L161 164 L166 143 L151 128 L130 113 L125 98" fill="none" stroke="#dcd23a" stroke-width="6.5" stroke-opacity="1.0" stroke-linecap="round" stroke-linejoin="round"/><path d="M-1 199 L29 209 L50 189 L70 169 L100 164" fill="none" stroke="#dcd23a" stroke-width="9.8" stroke-opacity="1.0" stroke-linecap="round" stroke-linejoin="round"/><path d="M50 209 L60 239 L70 259" fill="none" stroke="#dcd23a" stroke-width="6.5" stroke-opacity="1.0" stroke-linecap="round" stroke-linejoin="round"/><path d="M140 179 L161 199 L176 219 L186 239" fill="none" stroke="#dcd23a" stroke-width="6.5" stroke-opacity="1.0" stroke-linecap="round" stroke-linejoin="round"/><path d="M100 219 L130 229 L151 249" fill="none" stroke="#dcd23a" stroke-width="6.5" stroke-opacity="1.0" stroke-linecap="round" stroke-linejoin="round"/><path d="M262 17 L287 7 L313 12 L323 27 L308 38 L287 32 L267 48" fill="none" stroke="#dcd23a" stroke-width="6.5" stroke-opacity="1.0" stroke-linecap="round" stroke-linejoin="round"/><path d="M343 43 L369 38 L384 63 L379 93 L358 93 L348 68 Z" fill="none" stroke="#dcd23a" stroke-width="6.5" stroke-opacity="1.0" stroke-linecap="round" stroke-linejoin="round"/><path d="M505 200 L515 230 L512 260" fill="none" stroke="#dcd23a" stroke-width="7.8" stroke-opacity="1.0" stroke-linecap="round" stroke-linejoin="round"/><path d="M19 306 L29 285 L60 285 L80 306 L85 341 L65 367 L29 367 L14 341 Z" fill="none" stroke="#dcd23a" stroke-width="6.5" stroke-opacity="1.0" stroke-linecap="round" stroke-linejoin="round"/><path d="M4 356 L14 386 L29 407 L34 437 L19 458 L-1 468" fill="none" stroke="#dcd23a" stroke-width="9.8" stroke-opacity="1.0" stroke-linecap="round" stroke-linejoin="round"/><path d="M14 386 L45 381 L60 407 L70 448 L65 468" fill="none" stroke="#dcd23a" stroke-width="6.5" stroke-opacity="1.0" stroke-linecap="round" stroke-linejoin="round"/><path d="M80 377 L126 372 L161 387 L166 422 L151 453 L116 458 L85 443 L78 407 Z" fill="none" stroke="#dcd23a" stroke-width="6.5" stroke-opacity="1.0" stroke-linecap="round" stroke-linejoin="round"/><path d="M122 483 A29 29 0 1 0 180 483 A29 29 0 1 0 122 483 Z" fill="none" stroke="#dcd23a" stroke-width="6.5" stroke-opacity="1.0" stroke-linecap="round" stroke-linejoin="round"/><path d="M181 488 A26 26 0 1 0 233 488 A26 26 0 1 0 181 488 Z" fill="none" stroke="#dcd23a" stroke-width="6.5" stroke-opacity="1.0" stroke-linecap="round" stroke-linejoin="round"/><path d="M166 331 L192 316 L222 316 L262 306" fill="none" stroke="#dcd23a" stroke-width="6.5" stroke-opacity="1.0" stroke-linecap="round" stroke-linejoin="round"/><path d="M222 316 L227 356 L217 372 L242 382 L262 387" fill="none" stroke="#dcd23a" stroke-width="6.5" stroke-opacity="1.0" stroke-linecap="round" stroke-linejoin="round"/><path d="M166 422 L202 448 L227 458 L262 453" fill="none" stroke="#dcd23a" stroke-width="6.5" stroke-opacity="1.0" stroke-linecap="round" stroke-linejoin="round"/><path d="M323 290 L358 301 L379 331 L379 351 L358 346 L328 331 L318 311 Z" fill="none" stroke="#dcd23a" stroke-width="6.5" stroke-opacity="1.0" stroke-linecap="round" stroke-linejoin="round"/><path d="M318 422 L338 397 L363 377 L374 402 L358 422 L348 448 L358 488 L348 493" fill="none" stroke="#dcd23a" stroke-width="6.5" stroke-opacity="1.0" stroke-linecap="round" stroke-linejoin="round"/><path d="M267 361 L287 382 L277 407" fill="none" stroke="#dcd23a" stroke-width="6.5" stroke-opacity="1.0" stroke-linecap="round" stroke-linejoin="round"/><path d="M399 468 L409 443 L440 417 L465 427 L470 453 L450 478 L409 483 L394 473 Z" fill="none" stroke="#dcd23a" stroke-width="6.5" stroke-opacity="1.0" stroke-linecap="round" stroke-linejoin="round"/><path d="M505 270 L521 296" fill="none" stroke="#dcd23a" stroke-width="6.5" stroke-opacity="1.0" stroke-linecap="round" stroke-linejoin="round"/><path d="M495 306 L490 336 L500 361 L521 372" fill="none" stroke="#dcd23a" stroke-width="6.5" stroke-opacity="1.0" stroke-linecap="round" stroke-linejoin="round"/><path d="M495 458 L510 470 L521 490" fill="none" stroke="#dcd23a" stroke-width="6.5" stroke-opacity="1.0" stroke-linecap="round" stroke-linejoin="round"/><path d="M300 440 L320 460 L310 490 L290 510" fill="none" stroke="#dcd23a" stroke-width="6.5" stroke-opacity="1.0" stroke-linecap="round" stroke-linejoin="round"/><path d="M0 150 L40 140 L80 160" fill="none" stroke="#dcd23a" stroke-width="6.5" stroke-opacity="1.0" stroke-linecap="round" stroke-linejoin="round"/><path d="M40 140 L45 100 L20 80 L0 85" fill="none" stroke="#dcd23a" stroke-width="6.5" stroke-opacity="1.0" stroke-linecap="round" stroke-linejoin="round"/><path d="M85 150 L90 200 L75 250 L70 300" fill="none" stroke="#dcd23a" stroke-width="6.5" stroke-opacity="1.0" stroke-linecap="round" stroke-linejoin="round"/><path d="M0 250 L40 262 L70 300 L60 340" fill="none" stroke="#dcd23a" stroke-width="6.5" stroke-opacity="1.0" stroke-linecap="round" stroke-linejoin="round"/><path d="M60 80 L100 70 L130 95 L140 130" fill="none" stroke="#dcd23a" stroke-width="6.5" stroke-opacity="1.0" stroke-linecap="round" stroke-linejoin="round"/></g><g fill="#fff"><path d="M224 136 L200 175" stroke="#fff" stroke-width="8" fill="none"/><polygon points="191,189 190,163 214,174"/><path d="M389 237 L364 277" stroke="#fff" stroke-width="8" fill="none"/><polygon points="351,296 352,268 376,282"/><polygon points="136,364 151,313 182,331"/></g><g fill="#f4f4ff" stroke="#f4f4ff" stroke-width="2.2" font-family='"Liberation Sans", sans-serif' font-size="31.5" text-anchor="middle"><text x="389" y="172">mature</text><text x="390" y="207">erythrocyte</text><text x="222" y="260">juvenile</text><text x="227" y="297">NRBC</text></g><rect x="-1" y="468" width="91" height="52" fill="#262626"/><text x="45" y="497" fill="#fff" font-size="22" text-anchor="middle" font-family='"Liberation Sans", sans-serif'>5 µm</text><rect x="19" y="510" width="56" height="7" fill="#d8d8d8"/></g></g><g clip-path="url(#clipR)"><g transform="translate(124.7 317.6) scale(0.19731)"><rect x="0" y="0" width="520" height="520" fill="#010108"/><g filter="url(#mb1)"><ellipse cx="30" cy="30" rx="30.5" ry="29.5" fill="rgb(4,4,232)"/><ellipse cx="101" cy="71" rx="36.6" ry="35.4" fill="rgb(4,4,220)"/><ellipse cx="83" cy="134" rx="29.3" ry="28.3" fill="rgb(4,4,255)"/><ellipse cx="136" cy="136" rx="25.6" ry="24.8" fill="rgb(4,4,208)"/><ellipse cx="167" cy="81" rx="34.2" ry="33.0" fill="rgb(4,4,208)"/><ellipse cx="232" cy="76" rx="30.5" ry="29.5" fill="rgb(4,4,208)"/><ellipse cx="212" cy="20" rx="24.4" ry="23.6" fill="rgb(4,4,208)"/><ellipse cx="25" cy="101" rx="28.1" ry="27.1" fill="rgb(4,4,208)"/><ellipse cx="61" cy="177" rx="36.6" ry="35.4" fill="rgb(4,4,232)"/><ellipse cx="182" cy="182" rx="36.6" ry="35.4" fill="rgb(4,4,220)"/><ellipse cx="232" cy="152" rx="24.4" ry="23.6" fill="rgb(4,4,208)"/><ellipse cx="30" cy="237" rx="30.5" ry="29.5" fill="rgb(4,4,220)"/><ellipse cx="121" cy="232" rx="28.1" ry="27.1" fill="rgb(4,4,208)"/><ellipse cx="242" cy="227" rx="24.4" ry="23.6" fill="rgb(4,4,196)"/><ellipse cx="136" cy="20" rx="18.3" ry="17.7" fill="rgb(4,4,196)"/><ellipse cx="299" cy="66" rx="35.4" ry="34.2" fill="rgb(4,4,245)"/><ellipse cx="350" cy="50" rx="31.7" ry="30.7" fill="rgb(4,4,232)"/><ellipse cx="400" cy="61" rx="30.5" ry="29.5" fill="rgb(4,4,220)"/><ellipse cx="466" cy="20" rx="22.0" ry="21.2" fill="rgb(4,4,208)"/><ellipse cx="491" cy="56" rx="22.0" ry="21.2" fill="rgb(4,4,208)"/><ellipse cx="441" cy="66" rx="22.0" ry="21.2" fill="rgb(4,4,220)"/><ellipse cx="274" cy="116" rx="30.5" ry="29.5" fill="rgb(4,4,208)"/><ellipse cx="340" cy="114" rx="34.2" ry="33.0" fill="rgb(4,4,220)"/><ellipse cx="421" cy="121" rx="36.6" ry="35.4" fill="rgb(4,4,232)"/><ellipse cx="481" cy="116" rx="24.4" ry="23.6" fill="rgb(4,4,208)"/><ellipse cx="299" cy="187" rx="36.6" ry="35.4" fill="rgb(4,4,220)"/><ellipse cx="350" cy="177" rx="34.2" ry="33.0" fill="rgb(4,4,220)"/><ellipse cx="406" cy="192" rx="30.5" ry="29.5" fill="rgb(4,4,208)"/><ellipse cx="461" cy="172" rx="28.1" ry="27.1" fill="rgb(4,4,245)"/><ellipse cx="476" cy="222" rx="28.1" ry="27.1" fill="rgb(4,4,220)"/><ellipse cx="350" cy="242" rx="28.1" ry="27.1" fill="rgb(4,4,208)"/><ellipse cx="284" cy="242" rx="24.4" ry="23.6" fill="rgb(4,4,196)"/><ellipse cx="395" cy="247" rx="24.4" ry="23.6" fill="rgb(4,4,196)"/><ellipse cx="27" cy="275" rx="28.1" ry="27.1" fill="rgb(4,4,208)"/><ellipse cx="123" cy="315" rx="43.9" ry="42.5" fill="rgb(4,4,245)"/><ellipse cx="219" cy="320" rx="36.6" ry="35.4" fill="rgb(4,4,245)"/><ellipse cx="178" cy="325" rx="28.1" ry="27.1" fill="rgb(4,4,220)"/><ellipse cx="52" cy="330" rx="30.5" ry="29.5" fill="rgb(4,4,220)"/><ellipse cx="92" cy="381" rx="34.2" ry="33.0" fill="rgb(4,4,245)"/><ellipse cx="148" cy="386" rx="28.1" ry="27.1" fill="rgb(4,4,208)"/><ellipse cx="244" cy="381" rx="24.4" ry="23.6" fill="rgb(4,4,220)"/><ellipse cx="37" cy="416" rx="24.4" ry="23.6" fill="rgb(4,4,196)"/><ellipse cx="178" cy="436" rx="30.5" ry="29.5" fill="rgb(4,4,232)"/><ellipse cx="128" cy="457" rx="28.1" ry="27.1" fill="rgb(4,4,208)"/><ellipse cx="214" cy="467" rx="24.4" ry="23.6" fill="rgb(4,4,220)"/><ellipse cx="229" cy="492" rx="22.0" ry="21.2" fill="rgb(4,4,208)"/><ellipse cx="103" cy="492" rx="18.3" ry="17.7" fill="rgb(4,4,196)"/><ellipse cx="264" cy="315" rx="30.5" ry="29.5" fill="rgb(4,4,220)"/><ellipse cx="315" cy="295" rx="34.2" ry="33.0" fill="rgb(4,4,232)"/><ellipse cx="375" cy="295" rx="30.5" ry="29.5" fill="rgb(4,4,220)"/><ellipse cx="421" cy="280" rx="24.4" ry="23.6" fill="rgb(4,4,208)"/><ellipse cx="466" cy="280" rx="24.4" ry="23.6" fill="rgb(4,4,208)"/><ellipse cx="320" cy="386" rx="28.1" ry="27.1" fill="rgb(4,4,232)"/><ellipse cx="406" cy="381" rx="24.4" ry="23.6" fill="rgb(4,4,208)"/><ellipse cx="274" cy="376" rx="24.4" ry="23.6" fill="rgb(4,4,208)"/><ellipse cx="365" cy="350" rx="22.0" ry="21.2" fill="rgb(4,4,183)"/><ellipse cx="476" cy="356" rx="28.1" ry="27.1" fill="rgb(4,4,208)"/><ellipse cx="395" cy="446" rx="28.1" ry="27.1" fill="rgb(4,4,220)"/><ellipse cx="476" cy="441" rx="28.1" ry="27.1" fill="rgb(4,4,208)"/><ellipse cx="491" cy="487" rx="28.1" ry="27.1" fill="rgb(4,4,208)"/><ellipse cx="304" cy="492" rx="24.4" ry="23.6" fill="rgb(4,4,196)"/><ellipse cx="60" cy="480" rx="22.0" ry="21.2" fill="rgb(4,4,171)"/><ellipse cx="10" cy="480" rx="18.3" ry="17.7" fill="rgb(4,4,171)"/></g><g filter="url(#mb0)" opacity="0.55"><path d="M-1 101 A26 26 0 1 0 51 101 A26 26 0 1 0 -1 101 Z" fill="none" stroke="#d8cc30" stroke-width="4.5" stroke-opacity="1.0" stroke-linecap="round" stroke-linejoin="round"/><path d="M28 177 A33 33 0 1 0 94 177 A33 33 0 1 0 28 177 Z" fill="none" stroke="#d8cc30" stroke-width="4.5" stroke-opacity="1.0" stroke-linecap="round" stroke-linejoin="round"/><path d="M150 182 A32 32 0 1 0 214 182 A32 32 0 1 0 150 182 Z" fill="none" stroke="#d8cc30" stroke-width="4.5" stroke-opacity="1.0" stroke-linecap="round" stroke-linejoin="round"/><path d="M3 237 A27 27 0 1 0 57 237 A27 27 0 1 0 3 237 Z" fill="none" stroke="#d8cc30" stroke-width="4.5" stroke-opacity="1.0" stroke-linecap="round" stroke-linejoin="round"/><path d="M96 232 A25 25 0 1 0 146 232 A25 25 0 1 0 96 232 Z" fill="none" stroke="#d8cc30" stroke-width="4.5" stroke-opacity="1.0" stroke-linecap="round" stroke-linejoin="round"/><path d="M205 76 A27 27 0 1 0 259 76 A27 27 0 1 0 205 76 Z" fill="none" stroke="#d8cc30" stroke-width="4.5" stroke-opacity="1.0" stroke-linecap="round" stroke-linejoin="round"/><path d="M137 81 A30 30 0 1 0 197 81 A30 30 0 1 0 137 81 Z" fill="none" stroke="#d8cc30" stroke-width="4.5" stroke-opacity="1.0" stroke-linecap="round" stroke-linejoin="round"/><path d="M69 71 A32 32 0 1 0 133 71 A32 32 0 1 0 69 71 Z" fill="none" stroke="#d8cc30" stroke-width="4.5" stroke-opacity="1.0" stroke-linecap="round" stroke-linejoin="round"/><path d="M310 114 A30 30 0 1 0 370 114 A30 30 0 1 0 310 114 Z" fill="none" stroke="#d8cc30" stroke-width="4.5" stroke-opacity="1.0" stroke-linecap="round" stroke-linejoin="round"/><path d="M390 121 A31 31 0 1 0 452 121 A31 31 0 1 0 390 121 Z" fill="none" stroke="#d8cc30" stroke-width="4.5" stroke-opacity="1.0" stroke-linecap="round" stroke-linejoin="round"/><path d="M268 187 A31 31 0 1 0 330 187 A31 31 0 1 0 268 187 Z" fill="none" stroke="#d8cc30" stroke-width="4.5" stroke-opacity="1.0" stroke-linecap="round" stroke-linejoin="round"/><path d="M379 192 A27 27 0 1 0 433 192 A27 27 0 1 0 379 192 Z" fill="none" stroke="#d8cc30" stroke-width="4.5" stroke-opacity="1.0" stroke-linecap="round" stroke-linejoin="round"/><path d="M325 242 A25 25 0 1 0 375 242 A25 25 0 1 0 325 242 Z" fill="none" stroke="#d8cc30" stroke-width="4.5" stroke-opacity="1.0" stroke-linecap="round" stroke-linejoin="round"/><path d="M25 330 A27 27 0 1 0 79 330 A27 27 0 1 0 25 330 Z" fill="none" stroke="#d8cc30" stroke-width="4.5" stroke-opacity="1.0" stroke-linecap="round" stroke-linejoin="round"/><path d="M62 381 A30 30 0 1 0 122 381 A30 30 0 1 0 62 381 Z" fill="none" stroke="#d8cc30" stroke-width="4.5" stroke-opacity="1.0" stroke-linecap="round" stroke-linejoin="round"/><path d="M153 325 A25 25 0 1 0 203 325 A25 25 0 1 0 153 325 Z" fill="none" stroke="#d8cc30" stroke-width="4.5" stroke-opacity="1.0" stroke-linecap="round" stroke-linejoin="round"/><path d="M348 295 A27 27 0 1 0 402 295 A27 27 0 1 0 348 295 Z" fill="none" stroke="#d8cc30" stroke-width="4.5" stroke-opacity="1.0" stroke-linecap="round" stroke-linejoin="round"/><path d="M384 381 A22 22 0 1 0 428 381 A22 22 0 1 0 384 381 Z" fill="none" stroke="#d8cc30" stroke-width="4.5" stroke-opacity="1.0" stroke-linecap="round" stroke-linejoin="round"/><path d="M451 356 A25 25 0 1 0 501 356 A25 25 0 1 0 451 356 Z" fill="none" stroke="#d8cc30" stroke-width="4.5" stroke-opacity="1.0" stroke-linecap="round" stroke-linejoin="round"/><path d="M436 172 A25 25 0 1 0 486 172 A25 25 0 1 0 436 172 Z" fill="none" stroke="#d8cc30" stroke-width="4.5" stroke-opacity="1.0" stroke-linecap="round" stroke-linejoin="round"/></g><g filter="url(#mb2)"><ellipse cx="275" cy="440" rx="34" ry="40" fill="#d8cc20" opacity="0.9"/><ellipse cx="150" cy="505" rx="18" ry="10" fill="#d8cc20" opacity="0.7"/><ellipse cx="245" cy="470" rx="12" ry="20" fill="#d8cc20" opacity="0.6"/><ellipse cx="234" cy="411" rx="8" ry="8" fill="#d8cc20" opacity="0.8"/><ellipse cx="496" cy="167" rx="8" ry="8" fill="#d8cc20" opacity="0.8"/><ellipse cx="187" cy="134" rx="6" ry="6" fill="#d8cc20" opacity="0.7"/></g><g filter="url(#mb2)"><path d="M53 129 A28 28 0 1 0 109 129 A28 28 0 1 0 53 129 Z" fill="none" stroke="#c8c020" stroke-width="16.0" stroke-opacity="0.3" stroke-linecap="round" stroke-linejoin="round"/><path d="M50 40 L86 23 L126 20 L151 35 L172 25" fill="none" stroke="#c8c020" stroke-width="16.0" stroke-opacity="0.3" stroke-linecap="round" stroke-linejoin="round"/><path d="M66 61 L71 91" fill="none" stroke="#c8c020" stroke-width="16.0" stroke-opacity="0.3" stroke-linecap="round" stroke-linejoin="round"/><path d="M116 111 L151 116 L161 146 L151 166 L116 161" fill="none" stroke="#c8c020" stroke-width="9.6" stroke-opacity="0.3" stroke-linecap="round" stroke-linejoin="round"/><path d="M20 192 L50 212 L91 217 L101 237 L96 262" fill="none" stroke="#c8c020" stroke-width="16.0" stroke-opacity="0.3" stroke-linecap="round" stroke-linejoin="round"/><path d="M101 182 L126 187 L146 212 L151 242" fill="none" stroke="#c8c020" stroke-width="16.0" stroke-opacity="0.3" stroke-linecap="round" stroke-linejoin="round"/><path d="M30 141 L50 157" fill="none" stroke="#c8c020" stroke-width="19.2" stroke-opacity="0.3" stroke-linecap="round" stroke-linejoin="round"/><path d="M269 66 A30 30 0 1 0 329 66 A30 30 0 1 0 269 66 Z" fill="none" stroke="#c8c020" stroke-width="16.0" stroke-opacity="0.3" stroke-linecap="round" stroke-linejoin="round"/><path d="M323 50 A27 27 0 1 0 377 50 A27 27 0 1 0 323 50 Z" fill="none" stroke="#c8c020" stroke-width="16.0" stroke-opacity="0.3" stroke-linecap="round" stroke-linejoin="round"/><path d="M421 25 L446 40 L461 56 L456 81 L431 83 L411 91" fill="none" stroke="#c8c020" stroke-width="16.0" stroke-opacity="0.3" stroke-linecap="round" stroke-linejoin="round"/><path d="M446 40 L471 10" fill="none" stroke="#c8c020" stroke-width="16.0" stroke-opacity="0.3" stroke-linecap="round" stroke-linejoin="round"/><path d="M426 157 L456 141 L476 121 L506 131" fill="none" stroke="#c8c020" stroke-width="16.0" stroke-opacity="0.3" stroke-linecap="round" stroke-linejoin="round"/><path d="M426 157 L440 192 L466 202 L491 192 L506 157 L496 147" fill="none" stroke="#c8c020" stroke-width="16.0" stroke-opacity="0.3" stroke-linecap="round" stroke-linejoin="round"/><path d="M456 202 L446 237 L456 262" fill="none" stroke="#c8c020" stroke-width="16.0" stroke-opacity="0.3" stroke-linecap="round" stroke-linejoin="round"/><path d="M476 237 L491 262" fill="none" stroke="#c8c020" stroke-width="16.0" stroke-opacity="0.3" stroke-linecap="round" stroke-linejoin="round"/><path d="M506 131 L516 170 L510 220" fill="none" stroke="#c8c020" stroke-width="16.0" stroke-opacity="0.3" stroke-linecap="round" stroke-linejoin="round"/><path d="M85 315 A38 38 0 1 0 161 315 A38 38 0 1 0 85 315 Z" fill="none" stroke="#c8c020" stroke-width="16.0" stroke-opacity="0.3" stroke-linecap="round" stroke-linejoin="round"/><path d="M180 282 L200 300 L205 330" fill="none" stroke="#c8c020" stroke-width="12.8" stroke-opacity="0.3" stroke-linecap="round" stroke-linejoin="round"/><path d="M62 371 L67 401 L82 416" fill="none" stroke="#c8c020" stroke-width="16.0" stroke-opacity="0.3" stroke-linecap="round" stroke-linejoin="round"/><path d="M7 280 L27 295 L47 285" fill="none" stroke="#c8c020" stroke-width="16.0" stroke-opacity="0.3" stroke-linecap="round" stroke-linejoin="round"/><path d="M188 371 L210 380 L230 400 L239 421" fill="none" stroke="#c8c020" stroke-width="16.0" stroke-opacity="0.3" stroke-linecap="round" stroke-linejoin="round"/><path d="M282 290 A33 33 0 1 0 348 290 A33 33 0 1 0 282 290 Z" fill="none" stroke="#c8c020" stroke-width="16.0" stroke-opacity="0.3" stroke-linecap="round" stroke-linejoin="round"/><path d="M215 290 L245 280 L275 290 L290 320 L280 350 L250 360 L222 350 L212 320 Z" fill="none" stroke="#c8c020" stroke-width="14.4" stroke-opacity="0.3" stroke-linecap="round" stroke-linejoin="round"/><path d="M441 265 L466 260 L491 270 L501 295 L486 305 L456 300" fill="none" stroke="#c8c020" stroke-width="16.0" stroke-opacity="0.3" stroke-linecap="round" stroke-linejoin="round"/><path d="M295 386 A25 25 0 1 0 345 386 A25 25 0 1 0 295 386 Z" fill="none" stroke="#c8c020" stroke-width="16.0" stroke-opacity="0.3" stroke-linecap="round" stroke-linejoin="round"/><path d="M367 441 A28 28 0 1 0 423 441 A28 28 0 1 0 367 441 Z" fill="none" stroke="#c8c020" stroke-width="16.0" stroke-opacity="0.3" stroke-linecap="round" stroke-linejoin="round"/><path d="M254 410 L275 406 L300 420 L308 445 L295 462 L270 467 L256 450 Z" fill="none" stroke="#c8c020" stroke-width="16.0" stroke-opacity="0.3" stroke-linecap="round" stroke-linejoin="round"/><path d="M260 430 L290 440" fill="none" stroke="#c8c020" stroke-width="16.0" stroke-opacity="0.3" stroke-linecap="round" stroke-linejoin="round"/><path d="M130 490 L150 500 L165 515" fill="none" stroke="#c8c020" stroke-width="16.0" stroke-opacity="0.3" stroke-linecap="round" stroke-linejoin="round"/><path d="M234 446 L250 460 L258 490" fill="none" stroke="#c8c020" stroke-width="16.0" stroke-opacity="0.3" stroke-linecap="round" stroke-linejoin="round"/></g><g filter="url(#mb0)"><path d="M53 129 A28 28 0 1 0 109 129 A28 28 0 1 0 53 129 Z" fill="none" stroke="#dcd23a" stroke-width="5.5" stroke-opacity="1.0" stroke-linecap="round" stroke-linejoin="round"/><path d="M50 40 L86 23 L126 20 L151 35 L172 25" fill="none" stroke="#dcd23a" stroke-width="5.5" stroke-opacity="1.0" stroke-linecap="round" stroke-linejoin="round"/><path d="M66 61 L71 91" fill="none" stroke="#dcd23a" stroke-width="5.5" stroke-opacity="1.0" stroke-linecap="round" stroke-linejoin="round"/><path d="M116 111 L151 116 L161 146 L151 166 L116 161" fill="none" stroke="#dcd23a" stroke-width="3.3" stroke-opacity="1.0" stroke-linecap="round" stroke-linejoin="round"/><path d="M20 192 L50 212 L91 217 L101 237 L96 262" fill="none" stroke="#dcd23a" stroke-width="5.5" stroke-opacity="1.0" stroke-linecap="round" stroke-linejoin="round"/><path d="M101 182 L126 187 L146 212 L151 242" fill="none" stroke="#dcd23a" stroke-width="5.5" stroke-opacity="1.0" stroke-linecap="round" stroke-linejoin="round"/><path d="M30 141 L50 157" fill="none" stroke="#dcd23a" stroke-width="6.6" stroke-opacity="1.0" stroke-linecap="round" stroke-linejoin="round"/><path d="M269 66 A30 30 0 1 0 329 66 A30 30 0 1 0 269 66 Z" fill="none" stroke="#dcd23a" stroke-width="5.5" stroke-opacity="1.0" stroke-linecap="round" stroke-linejoin="round"/><path d="M323 50 A27 27 0 1 0 377 50 A27 27 0 1 0 323 50 Z" fill="none" stroke="#dcd23a" stroke-width="5.5" stroke-opacity="1.0" stroke-linecap="round" stroke-linejoin="round"/><path d="M421 25 L446 40 L461 56 L456 81 L431 83 L411 91" fill="none" stroke="#dcd23a" stroke-width="5.5" stroke-opacity="1.0" stroke-linecap="round" stroke-linejoin="round"/><path d="M446 40 L471 10" fill="none" stroke="#dcd23a" stroke-width="5.5" stroke-opacity="1.0" stroke-linecap="round" stroke-linejoin="round"/><path d="M426 157 L456 141 L476 121 L506 131" fill="none" stroke="#dcd23a" stroke-width="5.5" stroke-opacity="1.0" stroke-linecap="round" stroke-linejoin="round"/><path d="M426 157 L440 192 L466 202 L491 192 L506 157 L496 147" fill="none" stroke="#dcd23a" stroke-width="5.5" stroke-opacity="1.0" stroke-linecap="round" stroke-linejoin="round"/><path d="M456 202 L446 237 L456 262" fill="none" stroke="#dcd23a" stroke-width="5.5" stroke-opacity="1.0" stroke-linecap="round" stroke-linejoin="round"/><path d="M476 237 L491 262" fill="none" stroke="#dcd23a" stroke-width="5.5" stroke-opacity="1.0" stroke-linecap="round" stroke-linejoin="round"/><path d="M506 131 L516 170 L510 220" fill="none" stroke="#dcd23a" stroke-width="5.5" stroke-opacity="1.0" stroke-linecap="round" stroke-linejoin="round"/><path d="M85 315 A38 38 0 1 0 161 315 A38 38 0 1 0 85 315 Z" fill="none" stroke="#dcd23a" stroke-width="5.5" stroke-opacity="1.0" stroke-linecap="round" stroke-linejoin="round"/><path d="M180 282 L200 300 L205 330" fill="none" stroke="#dcd23a" stroke-width="4.4" stroke-opacity="1.0" stroke-linecap="round" stroke-linejoin="round"/><path d="M62 371 L67 401 L82 416" fill="none" stroke="#dcd23a" stroke-width="5.5" stroke-opacity="1.0" stroke-linecap="round" stroke-linejoin="round"/><path d="M7 280 L27 295 L47 285" fill="none" stroke="#dcd23a" stroke-width="5.5" stroke-opacity="1.0" stroke-linecap="round" stroke-linejoin="round"/><path d="M188 371 L210 380 L230 400 L239 421" fill="none" stroke="#dcd23a" stroke-width="5.5" stroke-opacity="1.0" stroke-linecap="round" stroke-linejoin="round"/><path d="M282 290 A33 33 0 1 0 348 290 A33 33 0 1 0 282 290 Z" fill="none" stroke="#dcd23a" stroke-width="5.5" stroke-opacity="1.0" stroke-linecap="round" stroke-linejoin="round"/><path d="M215 290 L245 280 L275 290 L290 320 L280 350 L250 360 L222 350 L212 320 Z" fill="none" stroke="#dcd23a" stroke-width="5.0" stroke-opacity="1.0" stroke-linecap="round" stroke-linejoin="round"/><path d="M441 265 L466 260 L491 270 L501 295 L486 305 L456 300" fill="none" stroke="#dcd23a" stroke-width="5.5" stroke-opacity="1.0" stroke-linecap="round" stroke-linejoin="round"/><path d="M295 386 A25 25 0 1 0 345 386 A25 25 0 1 0 295 386 Z" fill="none" stroke="#dcd23a" stroke-width="5.5" stroke-opacity="1.0" stroke-linecap="round" stroke-linejoin="round"/><path d="M367 441 A28 28 0 1 0 423 441 A28 28 0 1 0 367 441 Z" fill="none" stroke="#dcd23a" stroke-width="5.5" stroke-opacity="1.0" stroke-linecap="round" stroke-linejoin="round"/><path d="M254 410 L275 406 L300 420 L308 445 L295 462 L270 467 L256 450 Z" fill="none" stroke="#dcd23a" stroke-width="5.5" stroke-opacity="1.0" stroke-linecap="round" stroke-linejoin="round"/><path d="M260 430 L290 440" fill="none" stroke="#dcd23a" stroke-width="5.5" stroke-opacity="1.0" stroke-linecap="round" stroke-linejoin="round"/><path d="M130 490 L150 500 L165 515" fill="none" stroke="#dcd23a" stroke-width="5.5" stroke-opacity="1.0" stroke-linecap="round" stroke-linejoin="round"/><path d="M234 446 L250 460 L258 490" fill="none" stroke="#dcd23a" stroke-width="5.5" stroke-opacity="1.0" stroke-linecap="round" stroke-linejoin="round"/></g><rect x="6" y="469" width="74" height="36" fill="#262626"/><text x="43" y="494" fill="#fff" font-size="20" text-anchor="middle" font-family='"Liberation Sans", sans-serif'>5 µm</text><rect x="12" y="507" width="53" height="8" fill="#d0d0d0"/><text x="337" y="446" fill="#f2e638" stroke="#f2e638" stroke-width="1.5" font-size="34" textLength="127" lengthAdjust="spacingAndGlyphs" font-family='"Liberation Sans", sans-serif'>TER-119</text><text x="337" y="496" fill="#2a2a68" font-size="34" textLength="69" lengthAdjust="spacingAndGlyphs" font-family='"Liberation Sans", sans-serif'>DAPI</text></g></g>
<line x1="283.90" y1="329.30" x2="283.90" y2="376.70" stroke="#2a2a2a" stroke-width="1.3" />
<line x1="280.80" y1="376.10" x2="353.90" y2="376.10" stroke="#2a2a2a" stroke-width="1.3" />
<line x1="280.80" y1="376.10" x2="283.90" y2="376.10" stroke="#2a2a2a" stroke-width="1.1" />
<text x="278.00" y="379.05" font-size="8.4" text-anchor="end" stroke="#222" stroke-width="0.18" textLength="4.72" lengthAdjust="spacingAndGlyphs" >0</text>
<line x1="280.80" y1="367.26" x2="283.90" y2="367.26" stroke="#2a2a2a" stroke-width="1.1" />
<text x="278.00" y="370.21" font-size="8.4" text-anchor="end" stroke="#222" stroke-width="0.18" textLength="9.44" lengthAdjust="spacingAndGlyphs" >20</text>
<line x1="280.80" y1="358.42" x2="283.90" y2="358.42" stroke="#2a2a2a" stroke-width="1.1" />
<text x="278.00" y="361.37" font-size="8.4" text-anchor="end" stroke="#222" stroke-width="0.18" textLength="9.44" lengthAdjust="spacingAndGlyphs" >40</text>
<line x1="280.80" y1="349.58" x2="283.90" y2="349.58" stroke="#2a2a2a" stroke-width="1.1" />
<text x="278.00" y="352.53" font-size="8.4" text-anchor="end" stroke="#222" stroke-width="0.18" textLength="9.44" lengthAdjust="spacingAndGlyphs" >60</text>
<line x1="280.80" y1="340.74" x2="283.90" y2="340.74" stroke="#2a2a2a" stroke-width="1.1" />
<text x="278.00" y="343.69" font-size="8.4" text-anchor="end" stroke="#222" stroke-width="0.18" textLength="9.44" lengthAdjust="spacingAndGlyphs" >80</text>
<line x1="280.80" y1="331.90" x2="283.90" y2="331.90" stroke="#2a2a2a" stroke-width="1.1" />
<text x="278.00" y="334.85" font-size="8.4" text-anchor="end" stroke="#222" stroke-width="0.18" textLength="14.16" lengthAdjust="spacingAndGlyphs" >100</text>
<line x1="317.60" y1="376.10" x2="317.60" y2="379.00" stroke="#2a2a2a" stroke-width="1.1" />
<line x1="351.00" y1="376.10" x2="351.00" y2="379.00" stroke="#2a2a2a" stroke-width="1.1" />
<line x1="296.58" y1="361.07" x2="296.58" y2="354.00" stroke="#333" stroke-width="1.0" />
<line x1="294.28" y1="354.00" x2="298.88" y2="354.00" stroke="#333" stroke-width="1.1" />
<rect x="292.10" y="361.07" width="8.95" height="15.03" fill="#2d4b85" />
<line x1="305.53" y1="342.95" x2="305.53" y2="337.20" stroke="#333" stroke-width="1.0" />
<line x1="303.23" y1="337.20" x2="307.83" y2="337.20" stroke="#333" stroke-width="1.1" />
<rect x="301.05" y="342.95" width="8.95" height="33.15" fill="#a50d2d" />
<line x1="330.68" y1="347.81" x2="330.68" y2="342.07" stroke="#333" stroke-width="1.0" />
<line x1="328.38" y1="342.07" x2="332.98" y2="342.07" stroke="#333" stroke-width="1.1" />
<rect x="326.20" y="347.81" width="8.95" height="28.29" fill="#2d4b85" />
<line x1="339.62" y1="365.05" x2="339.62" y2="360.19" stroke="#333" stroke-width="1.0" />
<line x1="337.32" y1="360.19" x2="341.93" y2="360.19" stroke="#333" stroke-width="1.1" />
<rect x="335.15" y="365.05" width="8.95" height="11.05" fill="#a50d2d" />
<text transform="translate(244.60 355.30) rotate(-90)" text-anchor="middle" font-size="9.8" fill="#222" textLength="44.2" lengthAdjust="spacingAndGlyphs" stroke="#222" stroke-width="0.15">% cells within</text>
<text transform="translate(256.50 354.10) rotate(-90)" text-anchor="middle" font-size="9.8" fill="#222" textLength="45.2" lengthAdjust="spacingAndGlyphs" stroke="#222" stroke-width="0.15">TER-119<tspan dy="-3.4" font-size="6.2">+</tspan><tspan dy="3.4"> cells</tspan></text>
<line x1="293.60" y1="334.10" x2="306.30" y2="334.10" stroke="#444" stroke-width="1.1" />
<text x="299.90" y="333.40" font-size="5.0" text-anchor="middle" fill="#444" stroke="#444" stroke-width="0.18" >*</text>
<line x1="329.00" y1="337.30" x2="342.00" y2="337.30" stroke="#444" stroke-width="1.1" />
<text x="335.40" y="336.90" font-size="5.0" text-anchor="middle" fill="#444" stroke="#444" stroke-width="0.18" >*</text>
<text x="306.90" y="385.20" font-size="8" text-anchor="end" stroke="#222" stroke-width="0.18" textLength="33.50" lengthAdjust="spacingAndGlyphs" transform="rotate(-45 306.90 385.20)" >DAPI (+)</text>
<text x="340.50" y="384.80" font-size="8" text-anchor="end" stroke="#222" stroke-width="0.18" textLength="31.00" lengthAdjust="spacingAndGlyphs" transform="rotate(-45 340.50 384.80)" >DAPI (-)</text>
<rect x="357.70" y="334.40" width="4.40" height="4.40" fill="#2d4b85" />
<text x="365.50" y="339.00" font-size="6.8" fill="#3a3a3a" stroke="#3a3a3a" stroke-width="0.05" textLength="14.00" lengthAdjust="spacingAndGlyphs" >Atg7</text>
<text x="379.70" y="335.40" font-size="4.3" fill="#3a3a3a" stroke="#3a3a3a" stroke-width="0.025" textLength="5.60" lengthAdjust="spacingAndGlyphs" >fl/fl</text>
<rect x="357.70" y="352.00" width="4.40" height="4.50" fill="#a50d2d" />
<text x="365.50" y="353.10" font-size="6.8" fill="#3a3a3a" stroke="#3a3a3a" stroke-width="0.05" textLength="14.00" lengthAdjust="spacingAndGlyphs" >Atg7</text>
<text x="379.70" y="349.50" font-size="4.3" fill="#3a3a3a" stroke="#3a3a3a" stroke-width="0.025" textLength="6.60" lengthAdjust="spacingAndGlyphs" >fl/fl;</text>
<text x="365.50" y="361.30" font-size="6.8" fill="#3a3a3a" stroke="#3a3a3a" stroke-width="0.05" textLength="22.60" lengthAdjust="spacingAndGlyphs" >Vav-Cre</text>
<path d="M57.8 516.8 C59.4 516.8 60.2 508 60.9 495 L62.1 462.2 L63.3 462.2 L64.3 492 C64.8 503 65.3 509 66.2 511.5 C67.2 512.8 68.4 512.6 69.2 514.5 C69.8 516 70.3 516.8 71 516.8 L79 516.8 C80.5 515.7 83 515.7 84.5 516.8 Z" fill="#dba89f" stroke="#a50d2d" stroke-width="1.1" stroke-linejoin="round"/>
<rect x="33.40" y="454.80" width="62.30" height="62.60" fill="none" stroke="#1a1a1a" stroke-width="1.3"/>
<line x1="32.10" y1="457.93" x2="33.40" y2="457.93" stroke="#333" stroke-width="0.8" />
<line x1="32.10" y1="461.06" x2="33.40" y2="461.06" stroke="#333" stroke-width="0.8" />
<line x1="32.10" y1="464.19" x2="33.40" y2="464.19" stroke="#333" stroke-width="0.8" />
<line x1="31.00" y1="467.32" x2="33.40" y2="467.32" stroke="#333" stroke-width="0.8" />
<line x1="32.10" y1="470.45" x2="33.40" y2="470.45" stroke="#333" stroke-width="0.8" />
<line x1="32.10" y1="473.58" x2="33.40" y2="473.58" stroke="#333" stroke-width="0.8" />
<line x1="32.10" y1="476.71" x2="33.40" y2="476.71" stroke="#333" stroke-width="0.8" />
<line x1="31.00" y1="479.84" x2="33.40" y2="479.84" stroke="#333" stroke-width="0.8" />
<line x1="32.10" y1="482.97" x2="33.40" y2="482.97" stroke="#333" stroke-width="0.8" />
<line x1="32.10" y1="486.10" x2="33.40" y2="486.10" stroke="#333" stroke-width="0.8" />
<line x1="32.10" y1="489.23" x2="33.40" y2="489.23" stroke="#333" stroke-width="0.8" />
<line x1="31.00" y1="492.36" x2="33.40" y2="492.36" stroke="#333" stroke-width="0.8" />
<line x1="32.10" y1="495.49" x2="33.40" y2="495.49" stroke="#333" stroke-width="0.8" />
<line x1="32.10" y1="498.62" x2="33.40" y2="498.62" stroke="#333" stroke-width="0.8" />
<line x1="32.10" y1="501.75" x2="33.40" y2="501.75" stroke="#333" stroke-width="0.8" />
<line x1="31.00" y1="504.88" x2="33.40" y2="504.88" stroke="#333" stroke-width="0.8" />
<line x1="32.10" y1="508.01" x2="33.40" y2="508.01" stroke="#333" stroke-width="0.8" />
<line x1="32.10" y1="511.14" x2="33.40" y2="511.14" stroke="#333" stroke-width="0.8" />
<line x1="32.10" y1="514.27" x2="33.40" y2="514.27" stroke="#333" stroke-width="0.8" />
<line x1="30.40" y1="517.40" x2="33.40" y2="517.40" stroke="#333" stroke-width="0.9" />
<line x1="34.79" y1="517.40" x2="34.79" y2="519.00" stroke="#333" stroke-width="0.7" />
<line x1="36.06" y1="517.40" x2="36.06" y2="519.00" stroke="#333" stroke-width="0.7" />
<line x1="37.09" y1="517.40" x2="37.09" y2="519.00" stroke="#333" stroke-width="0.7" />
<line x1="37.97" y1="517.40" x2="37.97" y2="519.00" stroke="#333" stroke-width="0.7" />
<line x1="38.73" y1="517.40" x2="38.73" y2="519.00" stroke="#333" stroke-width="0.7" />
<line x1="39.40" y1="517.40" x2="39.40" y2="519.00" stroke="#333" stroke-width="0.7" />
<line x1="40.00" y1="517.40" x2="40.00" y2="520.40" stroke="#333" stroke-width="0.7" />
<line x1="43.94" y1="517.40" x2="43.94" y2="519.00" stroke="#333" stroke-width="0.7" />
<line x1="46.25" y1="517.40" x2="46.25" y2="519.00" stroke="#333" stroke-width="0.7" />
<line x1="47.89" y1="517.40" x2="47.89" y2="519.00" stroke="#333" stroke-width="0.7" />
<line x1="49.16" y1="517.40" x2="49.16" y2="519.00" stroke="#333" stroke-width="0.7" />
<line x1="50.19" y1="517.40" x2="50.19" y2="519.00" stroke="#333" stroke-width="0.7" />
<line x1="51.07" y1="517.40" x2="51.07" y2="519.00" stroke="#333" stroke-width="0.7" />
<line x1="51.83" y1="517.40" x2="51.83" y2="519.00" stroke="#333" stroke-width="0.7" />
<line x1="52.50" y1="517.40" x2="52.50" y2="519.00" stroke="#333" stroke-width="0.7" />
<line x1="53.10" y1="517.40" x2="53.10" y2="520.40" stroke="#333" stroke-width="0.7" />
<line x1="57.04" y1="517.40" x2="57.04" y2="519.00" stroke="#333" stroke-width="0.7" />
<line x1="59.35" y1="517.40" x2="59.35" y2="519.00" stroke="#333" stroke-width="0.7" />
<line x1="60.99" y1="517.40" x2="60.99" y2="519.00" stroke="#333" stroke-width="0.7" />
<line x1="62.26" y1="517.40" x2="62.26" y2="519.00" stroke="#333" stroke-width="0.7" />
<line x1="63.29" y1="517.40" x2="63.29" y2="519.00" stroke="#333" stroke-width="0.7" />
<line x1="64.17" y1="517.40" x2="64.17" y2="519.00" stroke="#333" stroke-width="0.7" />
<line x1="64.93" y1="517.40" x2="64.93" y2="519.00" stroke="#333" stroke-width="0.7" />
<line x1="65.60" y1="517.40" x2="65.60" y2="519.00" stroke="#333" stroke-width="0.7" />
<line x1="66.20" y1="517.40" x2="66.20" y2="520.40" stroke="#333" stroke-width="0.7" />
<line x1="70.14" y1="517.40" x2="70.14" y2="519.00" stroke="#333" stroke-width="0.7" />
<line x1="72.45" y1="517.40" x2="72.45" y2="519.00" stroke="#333" stroke-width="0.7" />
<line x1="74.09" y1="517.40" x2="74.09" y2="519.00" stroke="#333" stroke-width="0.7" />
<line x1="75.36" y1="517.40" x2="75.36" y2="519.00" stroke="#333" stroke-width="0.7" />
<line x1="76.39" y1="517.40" x2="76.39" y2="519.00" stroke="#333" stroke-width="0.7" />
<line x1="77.27" y1="517.40" x2="77.27" y2="519.00" stroke="#333" stroke-width="0.7" />
<line x1="78.03" y1="517.40" x2="78.03" y2="519.00" stroke="#333" stroke-width="0.7" />
<line x1="78.70" y1="517.40" x2="78.70" y2="519.00" stroke="#333" stroke-width="0.7" />
<line x1="79.30" y1="517.40" x2="79.30" y2="520.40" stroke="#333" stroke-width="0.7" />
<line x1="83.24" y1="517.40" x2="83.24" y2="519.00" stroke="#333" stroke-width="0.7" />
<line x1="85.55" y1="517.40" x2="85.55" y2="519.00" stroke="#333" stroke-width="0.7" />
<line x1="87.19" y1="517.40" x2="87.19" y2="519.00" stroke="#333" stroke-width="0.7" />
<line x1="88.46" y1="517.40" x2="88.46" y2="519.00" stroke="#333" stroke-width="0.7" />
<line x1="89.49" y1="517.40" x2="89.49" y2="519.00" stroke="#333" stroke-width="0.7" />
<line x1="90.37" y1="517.40" x2="90.37" y2="519.00" stroke="#333" stroke-width="0.7" />
<line x1="91.13" y1="517.40" x2="91.13" y2="519.00" stroke="#333" stroke-width="0.7" />
<line x1="91.80" y1="517.40" x2="91.80" y2="519.00" stroke="#333" stroke-width="0.7" />
<line x1="92.40" y1="517.40" x2="92.40" y2="520.40" stroke="#333" stroke-width="0.7" />
<line x1="69.20" y1="482.90" x2="95.70" y2="482.90" stroke="#222" stroke-width="1.1" />
<line x1="69.20" y1="480.70" x2="69.20" y2="485.10" stroke="#222" stroke-width="1.0" />
<text x="93.10" y="479.90" font-size="6.7" text-anchor="end" fill="#333" stroke="#333" stroke-width="0.18" textLength="19.90" lengthAdjust="spacingAndGlyphs" >4.09%</text>
<text x="33.90" y="530.30" font-size="8.3" stroke="#222" stroke-width="0.06" textLength="8.70" lengthAdjust="spacingAndGlyphs" >10</text>
<text x="43.10" y="527.00" font-size="5" stroke="#222" stroke-width="0.04" textLength="2.40" lengthAdjust="spacingAndGlyphs" >1</text>
<text x="47.00" y="530.30" font-size="8.3" stroke="#222" stroke-width="0.06" textLength="8.70" lengthAdjust="spacingAndGlyphs" >10</text>
<text x="56.20" y="527.00" font-size="5" stroke="#222" stroke-width="0.04" textLength="2.40" lengthAdjust="spacingAndGlyphs" >2</text>
<text x="60.10" y="530.30" font-size="8.3" stroke="#222" stroke-width="0.06" textLength="8.70" lengthAdjust="spacingAndGlyphs" >10</text>
<text x="69.30" y="527.00" font-size="5" stroke="#222" stroke-width="0.04" textLength="2.40" lengthAdjust="spacingAndGlyphs" >3</text>
<text x="73.20" y="530.30" font-size="8.3" stroke="#222" stroke-width="0.06" textLength="8.70" lengthAdjust="spacingAndGlyphs" >10</text>
<text x="82.40" y="527.00" font-size="5" stroke="#222" stroke-width="0.04" textLength="2.40" lengthAdjust="spacingAndGlyphs" >4</text>
<text x="86.30" y="530.30" font-size="8.3" stroke="#222" stroke-width="0.06" textLength="8.70" lengthAdjust="spacingAndGlyphs" >10</text>
<text x="95.50" y="527.00" font-size="5" stroke="#222" stroke-width="0.04" textLength="2.40" lengthAdjust="spacingAndGlyphs" >5</text>
<path d="M135.2 516.8 C136.6 516.8 137.4 505 138.0 490 L139.1 462.4 L140.3 462.4 L141.3 485 L141.9 491.5 C142.7 493 143.3 493.5 143.8 497 C144.3 505 144.6 512 145.3 515.4 C147 515.9 149 515.4 151 514.7 C153 513.7 156 513.5 158 514.5 C159.5 515.4 160.5 516.4 162 516.8 Z" fill="#dba89f" stroke="#a50d2d" stroke-width="1.1" stroke-linejoin="round"/>
<rect x="108.70" y="454.60" width="61.50" height="62.80" fill="none" stroke="#1a1a1a" stroke-width="1.3"/>
<line x1="107.40" y1="457.74" x2="108.70" y2="457.74" stroke="#333" stroke-width="0.8" />
<line x1="107.40" y1="460.88" x2="108.70" y2="460.88" stroke="#333" stroke-width="0.8" />
<line x1="107.40" y1="464.02" x2="108.70" y2="464.02" stroke="#333" stroke-width="0.8" />
<line x1="106.30" y1="467.16" x2="108.70" y2="467.16" stroke="#333" stroke-width="0.8" />
<line x1="107.40" y1="470.30" x2="108.70" y2="470.30" stroke="#333" stroke-width="0.8" />
<line x1="107.40" y1="473.44" x2="108.70" y2="473.44" stroke="#333" stroke-width="0.8" />
<line x1="107.40" y1="476.58" x2="108.70" y2="476.58" stroke="#333" stroke-width="0.8" />
<line x1="106.30" y1="479.72" x2="108.70" y2="479.72" stroke="#333" stroke-width="0.8" />
<line x1="107.40" y1="482.86" x2="108.70" y2="482.86" stroke="#333" stroke-width="0.8" />
<line x1="107.40" y1="486.00" x2="108.70" y2="486.00" stroke="#333" stroke-width="0.8" />
<line x1="107.40" y1="489.14" x2="108.70" y2="489.14" stroke="#333" stroke-width="0.8" />
<line x1="106.30" y1="492.28" x2="108.70" y2="492.28" stroke="#333" stroke-width="0.8" />
<line x1="107.40" y1="495.42" x2="108.70" y2="495.42" stroke="#333" stroke-width="0.8" />
<line x1="107.40" y1="498.56" x2="108.70" y2="498.56" stroke="#333" stroke-width="0.8" />
<line x1="107.40" y1="501.70" x2="108.70" y2="501.70" stroke="#333" stroke-width="0.8" />
<line x1="106.30" y1="504.84" x2="108.70" y2="504.84" stroke="#333" stroke-width="0.8" />
<line x1="107.40" y1="507.98" x2="108.70" y2="507.98" stroke="#333" stroke-width="0.8" />
<line x1="107.40" y1="511.12" x2="108.70" y2="511.12" stroke="#333" stroke-width="0.8" />
<line x1="107.40" y1="514.26" x2="108.70" y2="514.26" stroke="#333" stroke-width="0.8" />
<line x1="105.70" y1="517.40" x2="108.70" y2="517.40" stroke="#333" stroke-width="0.9" />
<line x1="110.09" y1="517.40" x2="110.09" y2="519.00" stroke="#333" stroke-width="0.7" />
<line x1="111.36" y1="517.40" x2="111.36" y2="519.00" stroke="#333" stroke-width="0.7" />
<line x1="112.39" y1="517.40" x2="112.39" y2="519.00" stroke="#333" stroke-width="0.7" />
<line x1="113.27" y1="517.40" x2="113.27" y2="519.00" stroke="#333" stroke-width="0.7" />
<line x1="114.03" y1="517.40" x2="114.03" y2="519.00" stroke="#333" stroke-width="0.7" />
<line x1="114.70" y1="517.40" x2="114.70" y2="519.00" stroke="#333" stroke-width="0.7" />
<line x1="115.30" y1="517.40" x2="115.30" y2="520.40" stroke="#333" stroke-width="0.7" />
<line x1="119.24" y1="517.40" x2="119.24" y2="519.00" stroke="#333" stroke-width="0.7" />
<line x1="121.55" y1="517.40" x2="121.55" y2="519.00" stroke="#333" stroke-width="0.7" />
<line x1="123.19" y1="517.40" x2="123.19" y2="519.00" stroke="#333" stroke-width="0.7" />
<line x1="124.46" y1="517.40" x2="124.46" y2="519.00" stroke="#333" stroke-width="0.7" />
<line x1="125.49" y1="517.40" x2="125.49" y2="519.00" stroke="#333" stroke-width="0.7" />
<line x1="126.37" y1="517.40" x2="126.37" y2="519.00" stroke="#333" stroke-width="0.7" />
<line x1="127.13" y1="517.40" x2="127.13" y2="519.00" stroke="#333" stroke-width="0.7" />
<line x1="127.80" y1="517.40" x2="127.80" y2="519.00" stroke="#333" stroke-width="0.7" />
<line x1="128.40" y1="517.40" x2="128.40" y2="520.40" stroke="#333" stroke-width="0.7" />
<line x1="132.34" y1="517.40" x2="132.34" y2="519.00" stroke="#333" stroke-width="0.7" />
<line x1="134.65" y1="517.40" x2="134.65" y2="519.00" stroke="#333" stroke-width="0.7" />
<line x1="136.29" y1="517.40" x2="136.29" y2="519.00" stroke="#333" stroke-width="0.7" />
<line x1="137.56" y1="517.40" x2="137.56" y2="519.00" stroke="#333" stroke-width="0.7" />
<line x1="138.59" y1="517.40" x2="138.59" y2="519.00" stroke="#333" stroke-width="0.7" />
<line x1="139.47" y1="517.40" x2="139.47" y2="519.00" stroke="#333" stroke-width="0.7" />
<line x1="140.23" y1="517.40" x2="140.23" y2="519.00" stroke="#333" stroke-width="0.7" />
<line x1="140.90" y1="517.40" x2="140.90" y2="519.00" stroke="#333" stroke-width="0.7" />
<line x1="141.50" y1="517.40" x2="141.50" y2="520.40" stroke="#333" stroke-width="0.7" />
<line x1="145.44" y1="517.40" x2="145.44" y2="519.00" stroke="#333" stroke-width="0.7" />
<line x1="147.75" y1="517.40" x2="147.75" y2="519.00" stroke="#333" stroke-width="0.7" />
<line x1="149.39" y1="517.40" x2="149.39" y2="519.00" stroke="#333" stroke-width="0.7" />
<line x1="150.66" y1="517.40" x2="150.66" y2="519.00" stroke="#333" stroke-width="0.7" />
<line x1="151.69" y1="517.40" x2="151.69" y2="519.00" stroke="#333" stroke-width="0.7" />
<line x1="152.57" y1="517.40" x2="152.57" y2="519.00" stroke="#333" stroke-width="0.7" />
<line x1="153.33" y1="517.40" x2="153.33" y2="519.00" stroke="#333" stroke-width="0.7" />
<line x1="154.00" y1="517.40" x2="154.00" y2="519.00" stroke="#333" stroke-width="0.7" />
<line x1="154.60" y1="517.40" x2="154.60" y2="520.40" stroke="#333" stroke-width="0.7" />
<line x1="158.54" y1="517.40" x2="158.54" y2="519.00" stroke="#333" stroke-width="0.7" />
<line x1="160.85" y1="517.40" x2="160.85" y2="519.00" stroke="#333" stroke-width="0.7" />
<line x1="162.49" y1="517.40" x2="162.49" y2="519.00" stroke="#333" stroke-width="0.7" />
<line x1="163.76" y1="517.40" x2="163.76" y2="519.00" stroke="#333" stroke-width="0.7" />
<line x1="164.79" y1="517.40" x2="164.79" y2="519.00" stroke="#333" stroke-width="0.7" />
<line x1="165.67" y1="517.40" x2="165.67" y2="519.00" stroke="#333" stroke-width="0.7" />
<line x1="166.43" y1="517.40" x2="166.43" y2="519.00" stroke="#333" stroke-width="0.7" />
<line x1="167.10" y1="517.40" x2="167.10" y2="519.00" stroke="#333" stroke-width="0.7" />
<line x1="167.70" y1="517.40" x2="167.70" y2="520.40" stroke="#333" stroke-width="0.7" />
<line x1="143.80" y1="483.30" x2="170.20" y2="483.30" stroke="#222" stroke-width="1.1" />
<line x1="143.80" y1="481.10" x2="143.80" y2="485.50" stroke="#222" stroke-width="1.0" />
<text x="167.60" y="480.30" font-size="6.7" text-anchor="end" fill="#333" stroke="#333" stroke-width="0.18" textLength="19.90" lengthAdjust="spacingAndGlyphs" >9.87%</text>
<text x="109.20" y="530.30" font-size="8.3" stroke="#222" stroke-width="0.06" textLength="8.70" lengthAdjust="spacingAndGlyphs" >10</text>
<text x="118.40" y="527.00" font-size="5" stroke="#222" stroke-width="0.04" textLength="2.40" lengthAdjust="spacingAndGlyphs" >1</text>
<text x="122.30" y="530.30" font-size="8.3" stroke="#222" stroke-width="0.06" textLength="8.70" lengthAdjust="spacingAndGlyphs" >10</text>
<text x="131.50" y="527.00" font-size="5" stroke="#222" stroke-width="0.04" textLength="2.40" lengthAdjust="spacingAndGlyphs" >2</text>
<text x="135.40" y="530.30" font-size="8.3" stroke="#222" stroke-width="0.06" textLength="8.70" lengthAdjust="spacingAndGlyphs" >10</text>
<text x="144.60" y="527.00" font-size="5" stroke="#222" stroke-width="0.04" textLength="2.40" lengthAdjust="spacingAndGlyphs" >3</text>
<text x="148.50" y="530.30" font-size="8.3" stroke="#222" stroke-width="0.06" textLength="8.70" lengthAdjust="spacingAndGlyphs" >10</text>
<text x="157.70" y="527.00" font-size="5" stroke="#222" stroke-width="0.04" textLength="2.40" lengthAdjust="spacingAndGlyphs" >4</text>
<text x="161.60" y="530.30" font-size="8.3" stroke="#222" stroke-width="0.06" textLength="8.70" lengthAdjust="spacingAndGlyphs" >10</text>
<text x="170.80" y="527.00" font-size="5" stroke="#222" stroke-width="0.04" textLength="2.40" lengthAdjust="spacingAndGlyphs" >5</text>
<text x="64.00" y="448.60" font-size="9.8" text-anchor="middle" stroke="#222" stroke-width="0.18" textLength="32.00" lengthAdjust="spacingAndGlyphs" >Control</text>
<text x="138.50" y="448.60" font-size="9.8" text-anchor="middle" stroke="#222" stroke-width="0.18" textLength="19.20" lengthAdjust="spacingAndGlyphs" >PHZ</text>
<path d="M24.4 524 V540 H131.5" fill="none" stroke="#333" stroke-width="1.3"/>
<path d="M24.4 517.8 L28.0 525.0 L24.4 523.8 L20.8 525.0 Z" fill="#111"/>
<path d="M138.5 540 L130.4 536.6 L131.7 540 L130.4 543.4 Z" fill="#111"/>
<text x="28.30" y="495.70" font-size="10.2" text-anchor="middle" stroke="#222" stroke-width="0.55" textLength="37.40" lengthAdjust="spacingAndGlyphs" transform="rotate(-90 28.30 495.70)" >Cell number</text>
<text x="141.80" y="542.80" font-size="10.4" stroke="#222" stroke-width="0.55" textLength="11.80" lengthAdjust="spacingAndGlyphs" >EdC</text>
<line x1="214.70" y1="441.45" x2="214.70" y2="532.10" stroke="#2a2a2a" stroke-width="1.3" />
<line x1="211.60" y1="531.50" x2="268.50" y2="531.50" stroke="#2a2a2a" stroke-width="1.3" />
<line x1="211.60" y1="531.50" x2="214.70" y2="531.50" stroke="#2a2a2a" stroke-width="1.1" />
<text x="208.00" y="534.45" font-size="8.4" text-anchor="end" stroke="#222" stroke-width="0.18" textLength="4.72" lengthAdjust="spacingAndGlyphs" >0</text>
<line x1="211.60" y1="514.01" x2="214.70" y2="514.01" stroke="#2a2a2a" stroke-width="1.1" />
<text x="208.00" y="516.96" font-size="8.4" text-anchor="end" stroke="#222" stroke-width="0.18" textLength="4.72" lengthAdjust="spacingAndGlyphs" >3</text>
<line x1="211.60" y1="496.52" x2="214.70" y2="496.52" stroke="#2a2a2a" stroke-width="1.1" />
<text x="208.00" y="499.47" font-size="8.4" text-anchor="end" stroke="#222" stroke-width="0.18" textLength="4.72" lengthAdjust="spacingAndGlyphs" >6</text>
<line x1="211.60" y1="479.03" x2="214.70" y2="479.03" stroke="#2a2a2a" stroke-width="1.1" />
<text x="208.00" y="481.98" font-size="8.4" text-anchor="end" stroke="#222" stroke-width="0.18" textLength="4.72" lengthAdjust="spacingAndGlyphs" >9</text>
<line x1="211.60" y1="461.54" x2="214.70" y2="461.54" stroke="#2a2a2a" stroke-width="1.1" />
<text x="208.00" y="464.49" font-size="8.4" text-anchor="end" stroke="#222" stroke-width="0.18" textLength="9.44" lengthAdjust="spacingAndGlyphs" >12</text>
<line x1="211.60" y1="444.05" x2="214.70" y2="444.05" stroke="#2a2a2a" stroke-width="1.1" />
<text x="208.00" y="447.00" font-size="8.4" text-anchor="end" stroke="#222" stroke-width="0.18" textLength="9.44" lengthAdjust="spacingAndGlyphs" >15</text>
<line x1="239.70" y1="531.50" x2="239.70" y2="534.40" stroke="#2a2a2a" stroke-width="1.1" />
<line x1="267.80" y1="531.50" x2="267.80" y2="534.40" stroke="#2a2a2a" stroke-width="1.1" />
<line x1="227.20" y1="503.52" x2="227.20" y2="494.77" stroke="#333" stroke-width="1.0" />
<line x1="224.90" y1="494.77" x2="229.50" y2="494.77" stroke="#333" stroke-width="1.1" />
<rect x="223.30" y="503.52" width="7.80" height="27.98" fill="#a50d2d" />
<line x1="251.60" y1="466.79" x2="251.60" y2="452.21" stroke="#333" stroke-width="1.0" />
<line x1="249.30" y1="452.21" x2="253.90" y2="452.21" stroke="#333" stroke-width="1.1" />
<rect x="247.70" y="466.79" width="7.80" height="64.71" fill="#a50d2d" />
<text transform="translate(192.00 488.10) rotate(-90)" text-anchor="middle" font-size="9.8" fill="#222" textLength="41" lengthAdjust="spacingAndGlyphs" stroke="#222" stroke-width="0.15">% EdC<tspan dy="-3.4" font-size="6.2">+</tspan><tspan dy="3.4"> cells</tspan></text>
<line x1="227.20" y1="448.20" x2="251.40" y2="448.20" stroke="#444" stroke-width="1.1" />
<text x="238.80" y="447.90" font-size="5.0" text-anchor="middle" fill="#444" stroke="#444" stroke-width="0.18" >*</text>
<text x="230.60" y="542.60" font-size="8" text-anchor="end" stroke="#222" stroke-width="0.18" textLength="27.00" lengthAdjust="spacingAndGlyphs" transform="rotate(-45 230.60 542.60)" >Control</text>
<text x="254.50" y="542.60" font-size="8" text-anchor="end" stroke="#222" stroke-width="0.18" textLength="16.00" lengthAdjust="spacingAndGlyphs" transform="rotate(-45 254.50 542.60)" >PHZ</text>
<rect x="0.5" y="0.5" width="519" height="569" fill="none" stroke="#000" stroke-width="1.3"/>
</svg>
</body></html>
